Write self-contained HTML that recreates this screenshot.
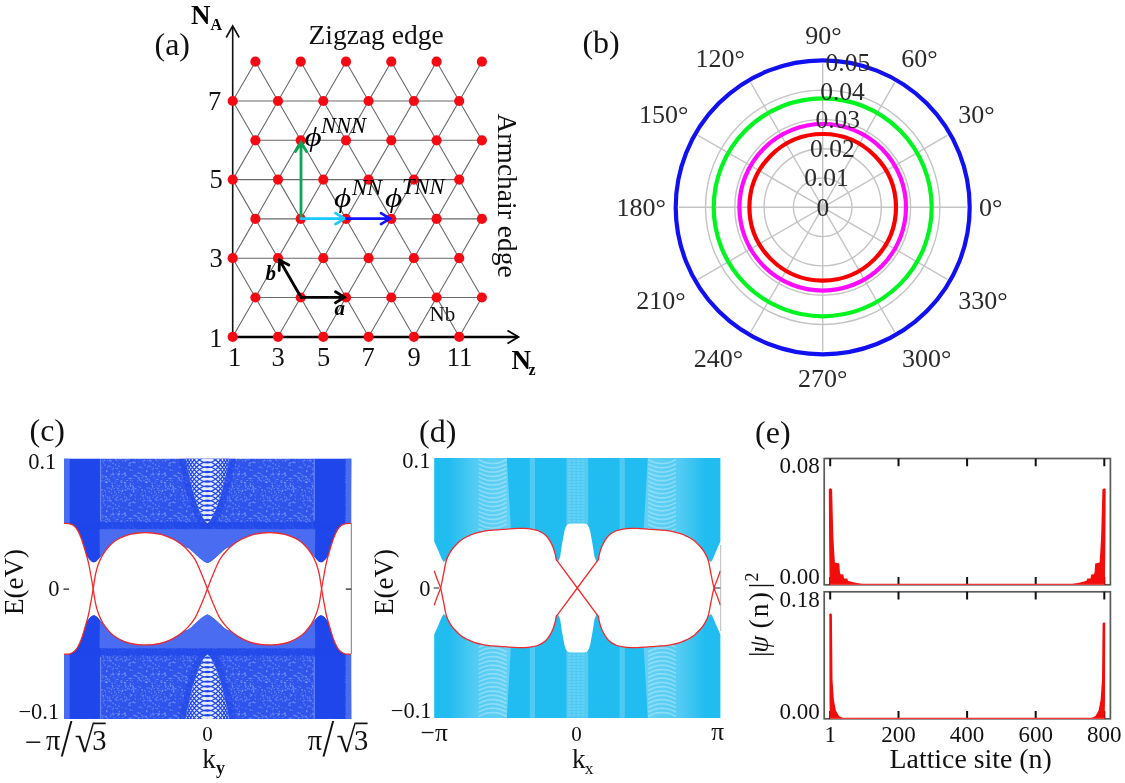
<!DOCTYPE html>
<html><head><meta charset="utf-8"><title>Figure</title>
<style>html,body{margin:0;padding:0;background:#fff}svg{display:block;filter:blur(0.5px)}text{font-family:"Liberation Serif",serif}</style>
</head><body>
<svg width="1125" height="783" viewBox="0 0 1125 783">
<rect width="1125" height="783" fill="#fff"/>
<g id="pa">
<path d="M232.7 336.8L459.2 336.8M255.4 297.5L481.9 297.5M232.7 258.2L459.2 258.2M255.4 218.9L481.9 218.9M232.7 179.6L459.2 179.6M255.4 140.3L481.9 140.3M232.7 101.0L459.2 101.0M232.7 336.8L255.4 297.5M278.0 336.8L255.4 297.5M278.0 336.8L300.7 297.5M323.3 336.8L300.7 297.5M323.3 336.8L346.0 297.5M368.6 336.8L346.0 297.5M368.6 336.8L391.3 297.5M413.9 336.8L391.3 297.5M413.9 336.8L436.6 297.5M459.2 336.8L436.6 297.5M459.2 336.8L481.9 297.5M255.4 297.5L232.7 258.2M255.4 297.5L278.0 258.2M300.7 297.5L278.0 258.2M300.7 297.5L323.3 258.2M346.0 297.5L323.3 258.2M346.0 297.5L368.6 258.2M391.3 297.5L368.6 258.2M391.3 297.5L413.9 258.2M436.6 297.5L413.9 258.2M436.6 297.5L459.2 258.2M481.9 297.5L459.2 258.2M232.7 258.2L255.4 218.9M278.0 258.2L255.4 218.9M278.0 258.2L300.7 218.9M323.3 258.2L300.7 218.9M323.3 258.2L346.0 218.9M368.6 258.2L346.0 218.9M368.6 258.2L391.3 218.9M413.9 258.2L391.3 218.9M413.9 258.2L436.6 218.9M459.2 258.2L436.6 218.9M459.2 258.2L481.9 218.9M255.4 218.9L232.7 179.6M255.4 218.9L278.0 179.6M300.7 218.9L278.0 179.6M300.7 218.9L323.3 179.6M346.0 218.9L323.3 179.6M346.0 218.9L368.6 179.6M391.3 218.9L368.6 179.6M391.3 218.9L413.9 179.6M436.6 218.9L413.9 179.6M436.6 218.9L459.2 179.6M481.9 218.9L459.2 179.6M232.7 179.6L255.4 140.3M278.0 179.6L255.4 140.3M278.0 179.6L300.7 140.3M323.3 179.6L300.7 140.3M323.3 179.6L346.0 140.3M368.6 179.6L346.0 140.3M368.6 179.6L391.3 140.3M413.9 179.6L391.3 140.3M413.9 179.6L436.6 140.3M459.2 179.6L436.6 140.3M459.2 179.6L481.9 140.3M255.4 140.3L232.7 101.0M255.4 140.3L278.0 101.0M300.7 140.3L278.0 101.0M300.7 140.3L323.3 101.0M346.0 140.3L323.3 101.0M346.0 140.3L368.6 101.0M391.3 140.3L368.6 101.0M391.3 140.3L413.9 101.0M436.6 140.3L413.9 101.0M436.6 140.3L459.2 101.0M481.9 140.3L459.2 101.0M232.7 101.0L255.4 61.7M278.0 101.0L255.4 61.7M278.0 101.0L300.7 61.7M323.3 101.0L300.7 61.7M323.3 101.0L346.0 61.7M368.6 101.0L346.0 61.7M368.6 101.0L391.3 61.7M413.9 101.0L391.3 61.7M413.9 101.0L436.6 61.7M459.2 101.0L436.6 61.7M459.2 101.0L481.9 61.7" stroke="#6a6a6a" stroke-width="1.1" fill="none"/>
<path d="M232.7 337.5L232.7 27" stroke="#111" stroke-width="1.6" fill="none"/>
<path d="M226.2 37.5L232.7 26L239.2 37.5" stroke="#111" stroke-width="1.6" fill="none"/>
<path d="M232 337L517.5 337" stroke="#000" stroke-width="2.4" fill="none"/>
<path d="M507.5 330.5L518.5 337L507.5 343.5" stroke="#000" stroke-width="1.8" fill="none"/>
<circle cx="232.7" cy="336.8" r="5.1" fill="#f50a14"/>
<circle cx="278.0" cy="336.8" r="5.1" fill="#f50a14"/>
<circle cx="323.3" cy="336.8" r="5.1" fill="#f50a14"/>
<circle cx="368.6" cy="336.8" r="5.1" fill="#f50a14"/>
<circle cx="413.9" cy="336.8" r="5.1" fill="#f50a14"/>
<circle cx="459.2" cy="336.8" r="5.1" fill="#f50a14"/>
<circle cx="255.4" cy="297.5" r="5.1" fill="#f50a14"/>
<circle cx="300.7" cy="297.5" r="5.1" fill="#f50a14"/>
<circle cx="346.0" cy="297.5" r="5.1" fill="#f50a14"/>
<circle cx="391.3" cy="297.5" r="5.1" fill="#f50a14"/>
<circle cx="436.6" cy="297.5" r="5.1" fill="#f50a14"/>
<circle cx="481.9" cy="297.5" r="5.1" fill="#f50a14"/>
<circle cx="232.7" cy="258.2" r="5.1" fill="#f50a14"/>
<circle cx="278.0" cy="258.2" r="5.1" fill="#f50a14"/>
<circle cx="323.3" cy="258.2" r="5.1" fill="#f50a14"/>
<circle cx="368.6" cy="258.2" r="5.1" fill="#f50a14"/>
<circle cx="413.9" cy="258.2" r="5.1" fill="#f50a14"/>
<circle cx="459.2" cy="258.2" r="5.1" fill="#f50a14"/>
<circle cx="255.4" cy="218.9" r="5.1" fill="#f50a14"/>
<circle cx="300.7" cy="218.9" r="5.1" fill="#f50a14"/>
<circle cx="346.0" cy="218.9" r="5.1" fill="#f50a14"/>
<circle cx="391.3" cy="218.9" r="5.1" fill="#f50a14"/>
<circle cx="436.6" cy="218.9" r="5.1" fill="#f50a14"/>
<circle cx="481.9" cy="218.9" r="5.1" fill="#f50a14"/>
<circle cx="232.7" cy="179.6" r="5.1" fill="#f50a14"/>
<circle cx="278.0" cy="179.6" r="5.1" fill="#f50a14"/>
<circle cx="323.3" cy="179.6" r="5.1" fill="#f50a14"/>
<circle cx="368.6" cy="179.6" r="5.1" fill="#f50a14"/>
<circle cx="413.9" cy="179.6" r="5.1" fill="#f50a14"/>
<circle cx="459.2" cy="179.6" r="5.1" fill="#f50a14"/>
<circle cx="255.4" cy="140.3" r="5.1" fill="#f50a14"/>
<circle cx="300.7" cy="140.3" r="5.1" fill="#f50a14"/>
<circle cx="346.0" cy="140.3" r="5.1" fill="#f50a14"/>
<circle cx="391.3" cy="140.3" r="5.1" fill="#f50a14"/>
<circle cx="436.6" cy="140.3" r="5.1" fill="#f50a14"/>
<circle cx="481.9" cy="140.3" r="5.1" fill="#f50a14"/>
<circle cx="232.7" cy="101.0" r="5.1" fill="#f50a14"/>
<circle cx="278.0" cy="101.0" r="5.1" fill="#f50a14"/>
<circle cx="323.3" cy="101.0" r="5.1" fill="#f50a14"/>
<circle cx="368.6" cy="101.0" r="5.1" fill="#f50a14"/>
<circle cx="413.9" cy="101.0" r="5.1" fill="#f50a14"/>
<circle cx="459.2" cy="101.0" r="5.1" fill="#f50a14"/>
<circle cx="255.4" cy="61.7" r="5.1" fill="#f50a14"/>
<circle cx="300.7" cy="61.7" r="5.1" fill="#f50a14"/>
<circle cx="346.0" cy="61.7" r="5.1" fill="#f50a14"/>
<circle cx="391.3" cy="61.7" r="5.1" fill="#f50a14"/>
<circle cx="436.6" cy="61.7" r="5.1" fill="#f50a14"/>
<circle cx="481.9" cy="61.7" r="5.1" fill="#f50a14"/>
<path d="M301.0 218.3L301.0 142.5M306.5 151.5L301.0 142.5L295.5 151.5" stroke="#0aa653" stroke-width="2.8" fill="none" stroke-linecap="round" stroke-linejoin="miter"/>
<path d="M301.0 218.6L344.5 218.6M335.5 224.1L344.5 218.6L335.5 213.1" stroke="#19c8ff" stroke-width="2.8" fill="none" stroke-linecap="round" stroke-linejoin="miter"/>
<path d="M346.5 218.6L390.0 218.6M381.0 224.1L390.0 218.6L381.0 213.1" stroke="#1414ff" stroke-width="2.8" fill="none" stroke-linecap="round" stroke-linejoin="miter"/>
<path d="M301.0 297.3L344.5 297.3M335.5 302.8L344.5 297.3L335.5 291.8" stroke="#000" stroke-width="2.8" fill="none" stroke-linecap="round" stroke-linejoin="miter"/>
<path d="M301.0 297.3L279.5 260.0M288.8 265.1L279.5 260.0L279.2 270.5" stroke="#000" stroke-width="2.8" fill="none" stroke-linecap="round" stroke-linejoin="miter"/>
<text x="154.5" y="55.4" font-size="32" fill="#111" text-anchor="start" >(a)</text>
<text x="191.0" y="23.5" font-size="27" fill="#000" text-anchor="start" font-weight="bold">N</text>
<text x="210.5" y="29.5" font-size="16" fill="#000" text-anchor="start" font-weight="bold">A</text>
<text x="511.5" y="369.0" font-size="27" fill="#000" text-anchor="start" font-weight="bold">N</text>
<text x="528.5" y="374.5" font-size="16" fill="#000" text-anchor="start" font-weight="bold">z</text>
<text x="308.5" y="44.3" font-size="27.5" fill="#111" text-anchor="start" >Zigzag edge</text>
<text transform="translate(497.5 113.5) rotate(90)" font-size="27.5" fill="#111">Armchair edge</text>
<text x="221.3" y="110.0" font-size="26.5" fill="#111" text-anchor="end" >7</text>
<text x="222.8" y="188.0" font-size="26.5" fill="#111" text-anchor="end" >5</text>
<text x="222.8" y="267.0" font-size="26.5" fill="#111" text-anchor="end" >3</text>
<text x="222.5" y="347.0" font-size="26.5" fill="#111" text-anchor="end" >1</text>
<text x="234.5" y="366.0" font-size="26.5" fill="#111" text-anchor="middle" >1</text>
<text x="278.2" y="366.0" font-size="26.5" fill="#111" text-anchor="middle" >3</text>
<text x="323.7" y="366.0" font-size="26.5" fill="#111" text-anchor="middle" >5</text>
<text x="368.2" y="366.0" font-size="26.5" fill="#111" text-anchor="middle" >7</text>
<text x="414.0" y="366.0" font-size="26.5" fill="#111" text-anchor="middle" >9</text>
<text x="459.5" y="366.0" font-size="26.5" fill="#111" text-anchor="middle" >11</text>
<text x="429.5" y="321.0" font-size="21" fill="#111" text-anchor="start" >Nb</text>
<text x="304.5" y="145.5" font-size="27.5" fill="#000" text-anchor="start" font-style="italic" textLength="17.2" lengthAdjust="spacingAndGlyphs">ϕ</text>
<text x="321.0" y="133.0" font-size="22.5" fill="#000" text-anchor="start" font-style="italic">NNN</text>
<text x="334.0" y="207.0" font-size="27.5" fill="#000" text-anchor="start" font-style="italic" textLength="17.2" lengthAdjust="spacingAndGlyphs">ϕ</text>
<text x="352.0" y="194.7" font-size="22.5" fill="#000" text-anchor="start" font-style="italic">NN</text>
<text x="385.0" y="207.0" font-size="27.5" fill="#000" text-anchor="start" font-style="italic" textLength="17.2" lengthAdjust="spacingAndGlyphs">ϕ</text>
<text x="402.0" y="194.3" font-size="22.5" fill="#000" text-anchor="start" font-style="italic">TNN</text>
<text x="334.5" y="315.0" font-size="21" fill="#000" text-anchor="start" font-style="italic" font-weight="bold">a</text>
<text x="265.5" y="279.5" font-size="21" fill="#000" text-anchor="start" font-style="italic" font-weight="bold">b</text>
</g>
<g id="pb">
<circle cx="822.7" cy="207.3" r="29.3" stroke="#c4c4c4" stroke-width="1.4" fill="none"/>
<circle cx="822.7" cy="207.3" r="58.6" stroke="#c4c4c4" stroke-width="1.4" fill="none"/>
<circle cx="822.7" cy="207.3" r="87.9" stroke="#c4c4c4" stroke-width="1.4" fill="none"/>
<circle cx="822.7" cy="207.3" r="117.2" stroke="#c4c4c4" stroke-width="1.4" fill="none"/>
<circle cx="822.7" cy="207.3" r="146.5" stroke="#c4c4c4" stroke-width="1.4" fill="none"/>
<path d="M822.7 207.3L966.7 207.3M822.7 207.3L947.4 135.3M822.7 207.3L894.7 82.6M822.7 207.3L822.7 63.3M822.7 207.3L750.7 82.6M822.7 207.3L698.0 135.3M822.7 207.3L678.7 207.3M822.7 207.3L698.0 279.3M822.7 207.3L750.7 332.0M822.7 207.3L822.7 351.3M822.7 207.3L894.7 332.0M822.7 207.3L947.4 279.3" stroke="#c4c4c4" stroke-width="1.4" fill="none"/>
<circle cx="822.7" cy="207.3" r="73.3" stroke="#f80000" stroke-width="4.2" fill="none"/>
<circle cx="822.7" cy="207.3" r="83.3" stroke="#ff0aff" stroke-width="4.2" fill="none"/>
<circle cx="822.7" cy="207.3" r="109" stroke="#00f520" stroke-width="4.2" fill="none"/>
<circle cx="822.7" cy="207.3" r="147" stroke="#1010f0" stroke-width="4.2" fill="none"/>
<text x="582.4" y="52.9" font-size="32" fill="#111" text-anchor="start" >(b)</text>
<text x="805.3" y="44.2" font-size="26" fill="#2a2a2a" text-anchor="start" >90°</text>
<text x="695.4" y="66.5" font-size="26" fill="#2a2a2a" text-anchor="start" >120°</text>
<text x="901.2" y="66.5" font-size="26" fill="#2a2a2a" text-anchor="start" >60°</text>
<text x="639.0" y="123.3" font-size="26" fill="#2a2a2a" text-anchor="start" >150°</text>
<text x="958.3" y="123.3" font-size="26" fill="#2a2a2a" text-anchor="start" >30°</text>
<text x="616.6" y="216.3" font-size="26" fill="#2a2a2a" text-anchor="start" >180°</text>
<text x="979.0" y="216.3" font-size="26" fill="#2a2a2a" text-anchor="start" >0°</text>
<text x="636.2" y="309.3" font-size="26" fill="#2a2a2a" text-anchor="start" >210°</text>
<text x="958.2" y="309.3" font-size="26" fill="#2a2a2a" text-anchor="start" >330°</text>
<text x="693.8" y="367.0" font-size="26" fill="#2a2a2a" text-anchor="start" >240°</text>
<text x="901.9" y="367.0" font-size="26" fill="#2a2a2a" text-anchor="start" >300°</text>
<text x="797.9" y="387.0" font-size="26" fill="#2a2a2a" text-anchor="start" >270°</text>
<text x="825.6" y="71.0" font-size="25.5" fill="#2a2a2a" text-anchor="start" >0.05</text>
<text x="820.2" y="99.7" font-size="25.5" fill="#2a2a2a" text-anchor="start" >0.04</text>
<text x="815.4" y="128.2" font-size="25.5" fill="#2a2a2a" text-anchor="start" >0.03</text>
<text x="810.0" y="156.8" font-size="25.5" fill="#2a2a2a" text-anchor="start" >0.02</text>
<text x="804.2" y="186.3" font-size="25.5" fill="#2a2a2a" text-anchor="start" >0.01</text>
<text x="822.9" y="216.3" font-size="25.5" fill="#2a2a2a" text-anchor="middle" >0</text>
</g>
<g id="pc">
<defs>
<pattern id="mot" width="40" height="40" patternUnits="userSpaceOnUse"><rect width="40" height="40" fill="#2e54ec"/><g fill="#8fa8f8" fill-opacity="0.6"><circle cx="13.0" cy="6.0" r="0.69"/><circle cx="2.9" cy="21.4" r="0.56"/><circle cx="2.3" cy="20.3" r="0.42"/><circle cx="17.3" cy="2.8" r="0.44"/><circle cx="17.0" cy="33.1" r="0.46"/><circle cx="8.9" cy="25.1" r="0.83"/><circle cx="23.1" cy="15.9" r="0.84"/><circle cx="1.9" cy="34.3" r="0.53"/><circle cx="5.8" cy="4.7" r="0.54"/><circle cx="32.6" cy="7.2" r="0.66"/><circle cx="25.6" cy="14.9" r="0.65"/><circle cx="2.5" cy="2.4" r="0.49"/><circle cx="27.2" cy="17.1" r="0.54"/><circle cx="23.4" cy="18.1" r="0.53"/><circle cx="31.8" cy="28.0" r="0.51"/><circle cx="23.0" cy="21.0" r="0.79"/><circle cx="29.2" cy="11.5" r="0.84"/><circle cx="4.7" cy="16.7" r="0.74"/><circle cx="6.1" cy="19.6" r="0.42"/><circle cx="26.7" cy="30.6" r="0.66"/><circle cx="35.0" cy="12.5" r="0.71"/><circle cx="23.8" cy="23.2" r="0.61"/><circle cx="33.6" cy="37.8" r="0.61"/><circle cx="26.6" cy="2.4" r="0.72"/><circle cx="25.9" cy="39.7" r="0.77"/><circle cx="11.4" cy="15.4" r="0.70"/><circle cx="0.9" cy="18.5" r="0.48"/><circle cx="4.7" cy="2.4" r="0.75"/><circle cx="5.2" cy="9.9" r="0.58"/><circle cx="34.9" cy="3.2" r="0.60"/><circle cx="22.0" cy="35.3" r="0.77"/><circle cx="34.6" cy="11.1" r="0.59"/><circle cx="14.4" cy="35.4" r="0.83"/><circle cx="6.0" cy="7.0" r="0.50"/><circle cx="9.3" cy="19.4" r="0.67"/><circle cx="10.5" cy="0.2" r="0.59"/><circle cx="14.8" cy="22.7" r="0.83"/><circle cx="27.6" cy="20.6" r="0.68"/><circle cx="27.0" cy="2.2" r="0.80"/><circle cx="31.2" cy="35.0" r="0.76"/><circle cx="15.7" cy="16.0" r="0.45"/><circle cx="25.4" cy="2.5" r="0.43"/><circle cx="8.4" cy="6.5" r="0.55"/><circle cx="2.1" cy="0.0" r="0.47"/><circle cx="4.1" cy="14.5" r="0.41"/><circle cx="35.0" cy="24.6" r="0.47"/><circle cx="10.1" cy="13.9" r="0.56"/><circle cx="4.9" cy="34.0" r="0.85"/><circle cx="18.6" cy="19.4" r="0.44"/><circle cx="4.1" cy="13.7" r="0.52"/><circle cx="33.2" cy="6.5" r="0.41"/><circle cx="38.0" cy="21.1" r="0.47"/><circle cx="21.7" cy="1.1" r="0.64"/><circle cx="39.1" cy="34.5" r="0.71"/><circle cx="10.4" cy="14.7" r="0.48"/><circle cx="30.9" cy="21.3" r="0.75"/><circle cx="13.2" cy="8.9" r="0.77"/><circle cx="39.4" cy="34.1" r="0.76"/><circle cx="32.7" cy="29.6" r="0.50"/><circle cx="20.7" cy="14.2" r="0.41"/><circle cx="1.1" cy="11.2" r="0.52"/><circle cx="27.7" cy="38.3" r="0.60"/><circle cx="37.5" cy="39.5" r="0.83"/><circle cx="14.6" cy="8.8" r="0.50"/><circle cx="7.9" cy="8.2" r="0.68"/><circle cx="36.0" cy="33.6" r="0.62"/><circle cx="26.1" cy="32.0" r="0.44"/><circle cx="26.4" cy="36.4" r="0.75"/><circle cx="30.0" cy="19.1" r="0.48"/><circle cx="31.6" cy="13.3" r="0.76"/><circle cx="38.9" cy="15.8" r="0.58"/><circle cx="37.9" cy="29.0" r="0.48"/><circle cx="5.1" cy="6.0" r="0.81"/><circle cx="32.3" cy="5.8" r="0.77"/><circle cx="39.2" cy="26.3" r="0.56"/><circle cx="21.9" cy="5.2" r="0.41"/><circle cx="38.8" cy="26.0" r="0.64"/><circle cx="37.3" cy="17.4" r="0.79"/><circle cx="33.0" cy="8.4" r="0.51"/><circle cx="11.7" cy="9.6" r="0.66"/><circle cx="10.4" cy="16.8" r="0.46"/><circle cx="36.4" cy="14.2" r="0.61"/><circle cx="23.3" cy="36.2" r="0.59"/><circle cx="36.7" cy="20.1" r="0.64"/><circle cx="20.9" cy="0.7" r="0.60"/><circle cx="7.3" cy="0.2" r="0.76"/><circle cx="6.9" cy="18.9" r="0.73"/><circle cx="22.3" cy="13.0" r="0.63"/><circle cx="22.2" cy="31.4" r="0.45"/><circle cx="22.4" cy="9.9" r="0.52"/><circle cx="30.9" cy="20.3" r="0.65"/><circle cx="30.4" cy="36.5" r="0.60"/><circle cx="24.5" cy="20.2" r="0.63"/><circle cx="27.7" cy="18.1" r="0.64"/><circle cx="19.1" cy="37.7" r="0.71"/><circle cx="35.1" cy="37.7" r="0.52"/><circle cx="22.4" cy="37.7" r="0.78"/><circle cx="5.5" cy="4.9" r="0.60"/><circle cx="2.9" cy="9.6" r="0.43"/><circle cx="26.8" cy="31.4" r="0.80"/><circle cx="6.2" cy="28.6" r="0.70"/><circle cx="5.7" cy="35.3" r="0.84"/><circle cx="8.8" cy="38.1" r="0.58"/><circle cx="19.5" cy="39.6" r="0.77"/><circle cx="6.5" cy="17.3" r="0.63"/><circle cx="13.6" cy="7.8" r="0.54"/><circle cx="28.9" cy="0.8" r="0.65"/><circle cx="17.6" cy="0.7" r="0.55"/><circle cx="25.0" cy="20.5" r="0.43"/><circle cx="39.4" cy="31.5" r="0.84"/><circle cx="4.2" cy="10.6" r="0.42"/><circle cx="31.2" cy="10.8" r="0.46"/><circle cx="16.9" cy="36.5" r="0.77"/><circle cx="10.3" cy="6.0" r="0.81"/><circle cx="22.8" cy="28.0" r="0.44"/><circle cx="2.3" cy="27.5" r="0.59"/><circle cx="2.9" cy="37.5" r="0.69"/><circle cx="32.1" cy="3.3" r="0.79"/><circle cx="2.7" cy="34.5" r="0.60"/><circle cx="13.6" cy="22.1" r="0.82"/><circle cx="10.7" cy="5.2" r="0.64"/><circle cx="9.5" cy="4.4" r="0.47"/><circle cx="2.0" cy="8.1" r="0.54"/><circle cx="12.2" cy="30.4" r="0.53"/><circle cx="20.0" cy="7.1" r="0.56"/><circle cx="0.7" cy="10.0" r="0.41"/><circle cx="29.3" cy="22.0" r="0.49"/><circle cx="19.0" cy="37.4" r="0.45"/><circle cx="32.8" cy="17.3" r="0.62"/><circle cx="33.4" cy="15.7" r="0.63"/><circle cx="27.5" cy="39.3" r="0.55"/><circle cx="33.3" cy="28.3" r="0.69"/><circle cx="16.2" cy="13.9" r="0.42"/><circle cx="5.2" cy="2.8" r="0.73"/><circle cx="10.2" cy="6.5" r="0.44"/><circle cx="33.7" cy="34.8" r="0.70"/><circle cx="11.3" cy="9.7" r="0.53"/><circle cx="18.4" cy="6.3" r="0.60"/><circle cx="10.5" cy="38.5" r="0.84"/><circle cx="21.9" cy="9.8" r="0.83"/><circle cx="12.4" cy="14.3" r="0.40"/><circle cx="15.3" cy="19.0" r="0.63"/><circle cx="8.0" cy="20.2" r="0.40"/><circle cx="10.6" cy="3.6" r="0.58"/><circle cx="1.7" cy="0.9" r="0.54"/><circle cx="9.3" cy="23.4" r="0.64"/><circle cx="30.0" cy="26.3" r="0.72"/><circle cx="35.2" cy="15.6" r="0.55"/><circle cx="39.4" cy="6.0" r="0.73"/><circle cx="25.7" cy="1.8" r="0.78"/><circle cx="35.7" cy="25.1" r="0.73"/><circle cx="32.5" cy="5.6" r="0.64"/><circle cx="20.2" cy="33.4" r="0.76"/><circle cx="33.1" cy="23.4" r="0.80"/><circle cx="27.3" cy="27.7" r="0.50"/><circle cx="1.2" cy="5.3" r="0.56"/><circle cx="4.2" cy="33.4" r="0.65"/><circle cx="25.1" cy="25.0" r="0.71"/><circle cx="19.6" cy="0.1" r="0.76"/><circle cx="29.9" cy="20.1" r="0.64"/><circle cx="26.4" cy="2.6" r="0.73"/><circle cx="10.1" cy="3.0" r="0.52"/><circle cx="29.2" cy="8.2" r="0.73"/><circle cx="39.0" cy="19.8" r="0.57"/><circle cx="19.2" cy="27.3" r="0.75"/><circle cx="24.7" cy="25.7" r="0.43"/><circle cx="5.9" cy="10.2" r="0.73"/><circle cx="12.2" cy="22.7" r="0.41"/><circle cx="2.4" cy="10.8" r="0.70"/><circle cx="27.7" cy="27.0" r="0.53"/><circle cx="20.7" cy="18.6" r="0.61"/><circle cx="4.7" cy="35.7" r="0.49"/><circle cx="39.1" cy="37.5" r="0.41"/><circle cx="18.4" cy="32.8" r="0.84"/><circle cx="18.0" cy="10.7" r="0.49"/><circle cx="37.8" cy="8.4" r="0.66"/><circle cx="5.7" cy="21.0" r="0.83"/><circle cx="5.3" cy="32.8" r="0.63"/><circle cx="35.5" cy="28.1" r="0.50"/><circle cx="35.9" cy="19.4" r="0.41"/><circle cx="0.1" cy="19.7" r="0.60"/><circle cx="12.1" cy="5.6" r="0.55"/><circle cx="12.6" cy="33.6" r="0.40"/><circle cx="30.0" cy="33.6" r="0.45"/><circle cx="37.1" cy="28.5" r="0.81"/><circle cx="11.6" cy="14.9" r="0.58"/><circle cx="40.0" cy="23.6" r="0.56"/><circle cx="17.1" cy="11.0" r="0.42"/><circle cx="4.1" cy="33.4" r="0.53"/><circle cx="37.4" cy="10.0" r="0.52"/><circle cx="20.4" cy="7.6" r="0.57"/><circle cx="38.2" cy="35.4" r="0.77"/><circle cx="25.2" cy="36.5" r="0.82"/><circle cx="22.0" cy="28.8" r="0.42"/><circle cx="29.3" cy="18.0" r="0.74"/><circle cx="25.8" cy="11.4" r="0.42"/><circle cx="37.1" cy="5.1" r="0.61"/><circle cx="13.7" cy="11.9" r="0.73"/><circle cx="39.1" cy="10.4" r="0.70"/><circle cx="12.0" cy="22.3" r="0.58"/><circle cx="6.7" cy="6.5" r="0.49"/><circle cx="36.2" cy="19.9" r="0.50"/><circle cx="36.3" cy="39.9" r="0.60"/><circle cx="5.6" cy="7.7" r="0.44"/><circle cx="13.7" cy="3.6" r="0.51"/><circle cx="10.3" cy="22.8" r="0.80"/><circle cx="30.0" cy="16.5" r="0.59"/><circle cx="21.0" cy="15.1" r="0.55"/><circle cx="2.5" cy="11.1" r="0.84"/><circle cx="5.0" cy="20.1" r="0.68"/><circle cx="34.5" cy="8.6" r="0.52"/><circle cx="9.9" cy="16.0" r="0.60"/><circle cx="38.2" cy="33.9" r="0.79"/><circle cx="0.9" cy="1.3" r="0.72"/><circle cx="35.8" cy="18.9" r="0.66"/><circle cx="0.0" cy="15.7" r="0.82"/><circle cx="33.0" cy="34.2" r="0.84"/><circle cx="9.9" cy="4.4" r="0.47"/><circle cx="20.9" cy="27.3" r="0.82"/><circle cx="28.9" cy="25.9" r="0.74"/><circle cx="18.3" cy="22.1" r="0.42"/><circle cx="31.3" cy="9.3" r="0.81"/><circle cx="25.8" cy="12.2" r="0.46"/><circle cx="10.1" cy="25.5" r="0.71"/><circle cx="4.5" cy="2.8" r="0.64"/><circle cx="23.3" cy="15.5" r="0.50"/><circle cx="24.0" cy="0.4" r="0.54"/><circle cx="18.4" cy="38.4" r="0.69"/><circle cx="35.4" cy="19.0" r="0.51"/><circle cx="9.9" cy="38.4" r="0.72"/><circle cx="12.3" cy="0.9" r="0.62"/><circle cx="27.0" cy="16.8" r="0.52"/><circle cx="26.7" cy="37.0" r="0.50"/><circle cx="1.4" cy="13.5" r="0.59"/><circle cx="27.3" cy="7.9" r="0.76"/><circle cx="29.6" cy="20.2" r="0.49"/><circle cx="38.8" cy="12.5" r="0.77"/><circle cx="9.2" cy="8.9" r="0.74"/><circle cx="11.8" cy="38.1" r="0.62"/><circle cx="7.5" cy="8.9" r="0.59"/><circle cx="26.6" cy="38.0" r="0.47"/><circle cx="15.7" cy="8.5" r="0.84"/><circle cx="5.7" cy="2.1" r="0.43"/><circle cx="15.7" cy="35.9" r="0.80"/><circle cx="29.3" cy="39.9" r="0.82"/><circle cx="13.2" cy="7.4" r="0.82"/><circle cx="29.9" cy="1.3" r="0.70"/><circle cx="15.1" cy="15.0" r="0.55"/><circle cx="6.8" cy="0.1" r="0.53"/><circle cx="14.1" cy="38.2" r="0.46"/><circle cx="38.6" cy="8.3" r="0.56"/><circle cx="32.9" cy="32.9" r="0.59"/><circle cx="2.0" cy="18.9" r="0.57"/><circle cx="36.8" cy="7.7" r="0.56"/><circle cx="35.9" cy="1.2" r="0.58"/><circle cx="32.5" cy="30.7" r="0.42"/><circle cx="1.4" cy="2.5" r="0.81"/><circle cx="10.3" cy="29.9" r="0.80"/><circle cx="13.6" cy="10.9" r="0.83"/><circle cx="24.7" cy="10.5" r="0.72"/></g></pattern>
<clipPath id="cclip"><path d="M64.0 458.7L64.0 523.3L65.0 523.3L66.0 523.4L67.0 523.5L68.0 523.6L69.0 523.7L69.9 523.9L70.9 524.2L71.8 524.6L72.7 525.1L73.5 525.6L74.2 526.2L75.0 526.9L75.6 527.6L76.3 528.4L76.8 529.2L77.4 530.0L77.9 530.9L78.4 531.8L78.8 532.7L79.3 533.6L79.7 534.5L80.1 535.4L80.5 536.3L80.8 537.2L81.2 538.2L81.5 539.1L81.9 540.1L82.2 541.0L82.5 542.0L82.8 542.9L83.1 543.9L83.4 544.8L83.7 545.8L84.0 546.7L84.3 547.7L84.6 548.7L84.8 549.6L85.1 550.6L85.4 551.5L85.7 552.5L86.0 553.4L86.3 554.4L86.7 555.3L87.1 556.2L87.6 557.0L88.2 557.8L88.8 558.6L89.4 559.4L90.1 560.1L90.8 560.8L91.6 561.4L92.3 561.9L93.2 562.2L94.0 562.3L94.8 562.1L95.6 561.7L96.4 561.2L97.1 560.5L97.8 559.8L98.5 559.0L99.1 558.3L99.8 557.5L100.4 556.8L101.1 556.0L101.7 555.3L102.4 554.5L103.0 553.7L103.7 553.0L104.3 552.2L104.9 551.4L105.5 550.6L106.2 549.8L106.8 549.1L107.4 548.3L108.1 547.5L108.7 546.8L109.4 546.0L110.1 545.3L110.8 544.6L111.5 543.9L112.3 543.3L113.0 542.6L113.8 542.0L114.6 541.4L115.4 540.8L116.3 540.3L117.1 539.7L118.0 539.2L118.8 538.7L119.7 538.3L120.6 537.8L121.5 537.4L122.4 537.0L123.3 536.6L124.3 536.2L125.2 535.9L126.1 535.5L127.1 535.2L128.0 534.9L129.0 534.7L130.0 534.4L130.9 534.2L131.9 534.0L132.9 533.8L133.9 533.6L134.9 533.4L135.9 533.3L136.9 533.2L137.8 533.1L138.8 533.0L139.8 532.9L140.8 532.8L141.8 532.8L142.8 532.7L143.8 532.7L144.8 532.7L145.8 532.7L146.8 532.7L147.8 532.7L148.8 532.8L149.8 532.8L150.8 532.9L151.8 533.0L152.8 533.1L153.8 533.2L154.8 533.3L155.8 533.4L156.8 533.6L157.8 533.8L158.7 534.0L159.7 534.2L160.7 534.4L161.7 534.7L162.6 534.9L163.6 535.2L164.5 535.5L165.5 535.9L166.4 536.2L167.3 536.6L168.3 536.9L169.2 537.3L170.1 537.7L171.0 538.1L171.9 538.6L172.8 539.0L173.7 539.5L174.6 540.0L175.4 540.5L176.3 541.0L177.1 541.5L178.0 542.1L178.8 542.6L179.6 543.2L180.4 543.8L181.2 544.4L182.0 545.0L182.8 545.6L183.6 546.2L184.4 546.7L185.3 547.1L186.2 547.4L187.1 547.7L188.0 548.0L188.8 548.4L189.6 549.0L190.4 549.6L191.1 550.2L191.8 550.9L192.6 551.6L193.3 552.3L194.0 553.0L194.8 553.6L195.5 554.3L196.3 555.0L197.0 555.7L197.7 556.3L198.5 557.0L199.2 557.7L200.0 558.3L200.7 559.0L201.5 559.6L202.3 560.2L203.1 560.8L203.9 561.4L204.7 561.9L205.6 562.3L206.5 562.8L207.4 563.0L207.4 563.0L207.4 563.0L208.3 562.8L209.2 562.3L210.1 561.9L210.9 561.4L211.7 560.8L212.5 560.2L213.3 559.6L214.1 559.0L214.8 558.3L215.6 557.7L216.3 557.0L217.1 556.3L217.8 555.7L218.5 555.0L219.3 554.3L220.0 553.6L220.8 553.0L221.5 552.3L222.2 551.6L223.0 550.9L223.7 550.2L224.4 549.6L225.2 549.0L226.0 548.4L226.8 548.0L227.7 547.7L228.6 547.4L229.5 547.1L230.4 546.7L231.2 546.2L232.0 545.6L232.8 545.0L233.6 544.4L234.4 543.8L235.2 543.2L236.0 542.6L236.8 542.1L237.7 541.5L238.5 541.0L239.4 540.5L240.2 540.0L241.1 539.5L242.0 539.0L242.9 538.6L243.8 538.1L244.7 537.7L245.6 537.3L246.5 536.9L247.5 536.6L248.4 536.2L249.3 535.9L250.3 535.5L251.2 535.2L252.2 534.9L253.1 534.7L254.1 534.4L255.1 534.2L256.1 534.0L257.0 533.8L258.0 533.6L259.0 533.4L260.0 533.3L261.0 533.2L262.0 533.1L263.0 533.0L264.0 532.9L265.0 532.8L266.0 532.8L267.0 532.7L268.0 532.7L269.0 532.7L270.0 532.7L271.0 532.7L272.0 532.7L273.0 532.8L274.0 532.8L275.0 532.9L276.0 533.0L277.0 533.1L277.9 533.2L278.9 533.3L279.9 533.4L280.9 533.6L281.9 533.8L282.9 534.0L283.9 534.2L284.8 534.4L285.8 534.7L286.8 534.9L287.7 535.2L288.7 535.5L289.6 535.9L290.5 536.2L291.5 536.6L292.4 537.0L293.3 537.4L294.2 537.8L295.1 538.3L296.0 538.7L296.8 539.2L297.7 539.7L298.5 540.3L299.4 540.8L300.2 541.4L301.0 542.0L301.8 542.6L302.5 543.3L303.3 543.9L304.0 544.6L304.7 545.3L305.4 546.0L306.1 546.8L306.7 547.5L307.4 548.3L308.0 549.1L308.6 549.8L309.3 550.6L309.9 551.4L310.5 552.2L311.1 553.0L311.8 553.7L312.4 554.5L313.1 555.3L313.7 556.0L314.4 556.8L315.0 557.5L315.7 558.3L316.3 559.0L317.0 559.8L317.7 560.5L318.4 561.2L319.2 561.7L320.0 562.1L320.8 562.3L321.6 562.2L322.5 561.9L323.2 561.4L324.0 560.8L324.7 560.1L325.4 559.4L326.0 558.6L326.6 557.8L327.2 557.0L327.7 556.2L328.1 555.3L328.5 554.4L328.8 553.4L329.1 552.5L329.4 551.5L329.7 550.6L330.0 549.6L330.2 548.7L330.5 547.7L330.8 546.7L331.1 545.8L331.4 544.8L331.7 543.9L332.0 542.9L332.3 542.0L332.6 541.0L332.9 540.1L333.3 539.1L333.6 538.2L334.0 537.2L334.3 536.3L334.7 535.4L335.1 534.5L335.5 533.6L336.0 532.7L336.4 531.8L336.9 530.9L337.4 530.0L338.0 529.2L338.5 528.4L339.2 527.6L339.8 526.9L340.6 526.2L341.3 525.6L342.1 525.1L343.0 524.6L343.9 524.2L344.9 523.9L345.8 523.7L346.8 523.6L347.8 523.5L348.8 523.4L349.8 523.3L350.8 523.3L351.3 458.7Z"/><path d="M64.0 718.9L64.0 654.3L65.0 654.3L66.0 654.2L67.0 654.1L68.0 654.0L69.0 653.9L69.9 653.7L70.9 653.4L71.8 653.0L72.7 652.5L73.5 652.0L74.2 651.4L75.0 650.7L75.6 650.0L76.3 649.2L76.8 648.4L77.4 647.6L77.9 646.7L78.4 645.8L78.8 644.9L79.3 644.0L79.7 643.1L80.1 642.2L80.5 641.3L80.8 640.4L81.2 639.4L81.5 638.5L81.9 637.5L82.2 636.6L82.5 635.6L82.8 634.7L83.1 633.7L83.4 632.8L83.7 631.8L84.0 630.9L84.3 629.9L84.6 628.9L84.8 628.0L85.1 627.0L85.4 626.1L85.7 625.1L86.0 624.2L86.3 623.2L86.7 622.3L87.1 621.4L87.6 620.6L88.2 619.8L88.8 619.0L89.4 618.2L90.1 617.5L90.8 616.8L91.6 616.2L92.3 615.7L93.2 615.4L94.0 615.3L94.8 615.5L95.6 615.9L96.4 616.4L97.1 617.1L97.8 617.8L98.5 618.6L99.1 619.3L99.8 620.1L100.4 620.8L101.1 621.6L101.7 622.3L102.4 623.1L103.0 623.9L103.7 624.6L104.3 625.4L104.9 626.2L105.5 627.0L106.2 627.8L106.8 628.5L107.4 629.3L108.1 630.1L108.7 630.8L109.4 631.6L110.1 632.3L110.8 633.0L111.5 633.7L112.3 634.3L113.0 635.0L113.8 635.6L114.6 636.2L115.4 636.8L116.3 637.3L117.1 637.9L118.0 638.4L118.8 638.9L119.7 639.3L120.6 639.8L121.5 640.2L122.4 640.6L123.3 641.0L124.3 641.4L125.2 641.7L126.1 642.1L127.1 642.4L128.0 642.7L129.0 642.9L130.0 643.2L130.9 643.4L131.9 643.6L132.9 643.8L133.9 644.0L134.9 644.2L135.9 644.3L136.9 644.4L137.8 644.5L138.8 644.6L139.8 644.7L140.8 644.8L141.8 644.8L142.8 644.9L143.8 644.9L144.8 644.9L145.8 644.9L146.8 644.9L147.8 644.9L148.8 644.8L149.8 644.8L150.8 644.7L151.8 644.6L152.8 644.5L153.8 644.4L154.8 644.3L155.8 644.2L156.8 644.0L157.8 643.8L158.7 643.6L159.7 643.4L160.7 643.2L161.7 642.9L162.6 642.7L163.6 642.4L164.5 642.1L165.5 641.7L166.4 641.4L167.3 641.0L168.3 640.7L169.2 640.3L170.1 639.9L171.0 639.5L171.9 639.0L172.8 638.6L173.7 638.1L174.6 637.6L175.4 637.1L176.3 636.6L177.1 636.1L178.0 635.5L178.8 635.0L179.6 634.4L180.4 633.8L181.2 633.2L182.0 632.6L182.8 632.0L183.6 631.4L184.4 630.9L185.3 630.5L186.2 630.2L187.1 629.9L188.0 629.6L188.8 629.2L189.6 628.6L190.4 628.0L191.1 627.4L191.8 626.7L192.6 626.0L193.3 625.3L194.0 624.6L194.8 624.0L195.5 623.3L196.3 622.6L197.0 621.9L197.7 621.3L198.5 620.6L199.2 619.9L200.0 619.3L200.7 618.6L201.5 618.0L202.3 617.4L203.1 616.8L203.9 616.2L204.7 615.7L205.6 615.3L206.5 614.8L207.4 614.6L207.4 614.6L207.4 614.6L208.3 614.8L209.2 615.3L210.1 615.7L210.9 616.2L211.7 616.8L212.5 617.4L213.3 618.0L214.1 618.6L214.8 619.3L215.6 619.9L216.3 620.6L217.1 621.3L217.8 621.9L218.5 622.6L219.3 623.3L220.0 624.0L220.8 624.6L221.5 625.3L222.2 626.0L223.0 626.7L223.7 627.4L224.4 628.0L225.2 628.6L226.0 629.2L226.8 629.6L227.7 629.9L228.6 630.2L229.5 630.5L230.4 630.9L231.2 631.4L232.0 632.0L232.8 632.6L233.6 633.2L234.4 633.8L235.2 634.4L236.0 635.0L236.8 635.5L237.7 636.1L238.5 636.6L239.4 637.1L240.2 637.6L241.1 638.1L242.0 638.6L242.9 639.0L243.8 639.5L244.7 639.9L245.6 640.3L246.5 640.7L247.5 641.0L248.4 641.4L249.3 641.7L250.3 642.1L251.2 642.4L252.2 642.7L253.1 642.9L254.1 643.2L255.1 643.4L256.1 643.6L257.0 643.8L258.0 644.0L259.0 644.2L260.0 644.3L261.0 644.4L262.0 644.5L263.0 644.6L264.0 644.7L265.0 644.8L266.0 644.8L267.0 644.9L268.0 644.9L269.0 644.9L270.0 644.9L271.0 644.9L272.0 644.9L273.0 644.8L274.0 644.8L275.0 644.7L276.0 644.6L277.0 644.5L277.9 644.4L278.9 644.3L279.9 644.2L280.9 644.0L281.9 643.8L282.9 643.6L283.9 643.4L284.8 643.2L285.8 642.9L286.8 642.7L287.7 642.4L288.7 642.1L289.6 641.7L290.5 641.4L291.5 641.0L292.4 640.6L293.3 640.2L294.2 639.8L295.1 639.3L296.0 638.9L296.8 638.4L297.7 637.9L298.5 637.3L299.4 636.8L300.2 636.2L301.0 635.6L301.8 635.0L302.5 634.3L303.3 633.7L304.0 633.0L304.7 632.3L305.4 631.6L306.1 630.8L306.7 630.1L307.4 629.3L308.0 628.5L308.6 627.8L309.3 627.0L309.9 626.2L310.5 625.4L311.1 624.6L311.8 623.9L312.4 623.1L313.1 622.3L313.7 621.6L314.4 620.8L315.0 620.1L315.7 619.3L316.3 618.6L317.0 617.8L317.7 617.1L318.4 616.4L319.2 615.9L320.0 615.5L320.8 615.3L321.6 615.4L322.5 615.7L323.2 616.2L324.0 616.8L324.7 617.5L325.4 618.2L326.0 619.0L326.6 619.8L327.2 620.6L327.7 621.4L328.1 622.3L328.5 623.2L328.8 624.2L329.1 625.1L329.4 626.1L329.7 627.0L330.0 628.0L330.2 628.9L330.5 629.9L330.8 630.9L331.1 631.8L331.4 632.8L331.7 633.7L332.0 634.7L332.3 635.6L332.6 636.6L332.9 637.5L333.3 638.5L333.6 639.4L334.0 640.4L334.3 641.3L334.7 642.2L335.1 643.1L335.5 644.0L336.0 644.9L336.4 645.8L336.9 646.7L337.4 647.6L338.0 648.4L338.5 649.2L339.2 650.0L339.8 650.7L340.6 651.4L341.3 652.0L342.1 652.5L343.0 653.0L343.9 653.4L344.9 653.7L345.8 653.9L346.8 654.0L347.8 654.1L348.8 654.2L349.8 654.3L350.8 654.3L351.3 718.9Z"/></clipPath>
</defs>
<path d="M64.0 458.7L64.0 523.3L65.0 523.3L66.0 523.4L67.0 523.5L68.0 523.6L69.0 523.7L69.9 523.9L70.9 524.2L71.8 524.6L72.7 525.1L73.5 525.6L74.2 526.2L75.0 526.9L75.6 527.6L76.3 528.4L76.8 529.2L77.4 530.0L77.9 530.9L78.4 531.8L78.8 532.7L79.3 533.6L79.7 534.5L80.1 535.4L80.5 536.3L80.8 537.2L81.2 538.2L81.5 539.1L81.9 540.1L82.2 541.0L82.5 542.0L82.8 542.9L83.1 543.9L83.4 544.8L83.7 545.8L84.0 546.7L84.3 547.7L84.6 548.7L84.8 549.6L85.1 550.6L85.4 551.5L85.7 552.5L86.0 553.4L86.3 554.4L86.7 555.3L87.1 556.2L87.6 557.0L88.2 557.8L88.8 558.6L89.4 559.4L90.1 560.1L90.8 560.8L91.6 561.4L92.3 561.9L93.2 562.2L94.0 562.3L94.8 562.1L95.6 561.7L96.4 561.2L97.1 560.5L97.8 559.8L98.5 559.0L99.1 558.3L99.8 557.5L100.4 556.8L101.1 556.0L101.7 555.3L102.4 554.5L103.0 553.7L103.7 553.0L104.3 552.2L104.9 551.4L105.5 550.6L106.2 549.8L106.8 549.1L107.4 548.3L108.1 547.5L108.7 546.8L109.4 546.0L110.1 545.3L110.8 544.6L111.5 543.9L112.3 543.3L113.0 542.6L113.8 542.0L114.6 541.4L115.4 540.8L116.3 540.3L117.1 539.7L118.0 539.2L118.8 538.7L119.7 538.3L120.6 537.8L121.5 537.4L122.4 537.0L123.3 536.6L124.3 536.2L125.2 535.9L126.1 535.5L127.1 535.2L128.0 534.9L129.0 534.7L130.0 534.4L130.9 534.2L131.9 534.0L132.9 533.8L133.9 533.6L134.9 533.4L135.9 533.3L136.9 533.2L137.8 533.1L138.8 533.0L139.8 532.9L140.8 532.8L141.8 532.8L142.8 532.7L143.8 532.7L144.8 532.7L145.8 532.7L146.8 532.7L147.8 532.7L148.8 532.8L149.8 532.8L150.8 532.9L151.8 533.0L152.8 533.1L153.8 533.2L154.8 533.3L155.8 533.4L156.8 533.6L157.8 533.8L158.7 534.0L159.7 534.2L160.7 534.4L161.7 534.7L162.6 534.9L163.6 535.2L164.5 535.5L165.5 535.9L166.4 536.2L167.3 536.6L168.3 536.9L169.2 537.3L170.1 537.7L171.0 538.1L171.9 538.6L172.8 539.0L173.7 539.5L174.6 540.0L175.4 540.5L176.3 541.0L177.1 541.5L178.0 542.1L178.8 542.6L179.6 543.2L180.4 543.8L181.2 544.4L182.0 545.0L182.8 545.6L183.6 546.2L184.4 546.7L185.3 547.1L186.2 547.4L187.1 547.7L188.0 548.0L188.8 548.4L189.6 549.0L190.4 549.6L191.1 550.2L191.8 550.9L192.6 551.6L193.3 552.3L194.0 553.0L194.8 553.6L195.5 554.3L196.3 555.0L197.0 555.7L197.7 556.3L198.5 557.0L199.2 557.7L200.0 558.3L200.7 559.0L201.5 559.6L202.3 560.2L203.1 560.8L203.9 561.4L204.7 561.9L205.6 562.3L206.5 562.8L207.4 563.0L207.4 563.0L207.4 563.0L208.3 562.8L209.2 562.3L210.1 561.9L210.9 561.4L211.7 560.8L212.5 560.2L213.3 559.6L214.1 559.0L214.8 558.3L215.6 557.7L216.3 557.0L217.1 556.3L217.8 555.7L218.5 555.0L219.3 554.3L220.0 553.6L220.8 553.0L221.5 552.3L222.2 551.6L223.0 550.9L223.7 550.2L224.4 549.6L225.2 549.0L226.0 548.4L226.8 548.0L227.7 547.7L228.6 547.4L229.5 547.1L230.4 546.7L231.2 546.2L232.0 545.6L232.8 545.0L233.6 544.4L234.4 543.8L235.2 543.2L236.0 542.6L236.8 542.1L237.7 541.5L238.5 541.0L239.4 540.5L240.2 540.0L241.1 539.5L242.0 539.0L242.9 538.6L243.8 538.1L244.7 537.7L245.6 537.3L246.5 536.9L247.5 536.6L248.4 536.2L249.3 535.9L250.3 535.5L251.2 535.2L252.2 534.9L253.1 534.7L254.1 534.4L255.1 534.2L256.1 534.0L257.0 533.8L258.0 533.6L259.0 533.4L260.0 533.3L261.0 533.2L262.0 533.1L263.0 533.0L264.0 532.9L265.0 532.8L266.0 532.8L267.0 532.7L268.0 532.7L269.0 532.7L270.0 532.7L271.0 532.7L272.0 532.7L273.0 532.8L274.0 532.8L275.0 532.9L276.0 533.0L277.0 533.1L277.9 533.2L278.9 533.3L279.9 533.4L280.9 533.6L281.9 533.8L282.9 534.0L283.9 534.2L284.8 534.4L285.8 534.7L286.8 534.9L287.7 535.2L288.7 535.5L289.6 535.9L290.5 536.2L291.5 536.6L292.4 537.0L293.3 537.4L294.2 537.8L295.1 538.3L296.0 538.7L296.8 539.2L297.7 539.7L298.5 540.3L299.4 540.8L300.2 541.4L301.0 542.0L301.8 542.6L302.5 543.3L303.3 543.9L304.0 544.6L304.7 545.3L305.4 546.0L306.1 546.8L306.7 547.5L307.4 548.3L308.0 549.1L308.6 549.8L309.3 550.6L309.9 551.4L310.5 552.2L311.1 553.0L311.8 553.7L312.4 554.5L313.1 555.3L313.7 556.0L314.4 556.8L315.0 557.5L315.7 558.3L316.3 559.0L317.0 559.8L317.7 560.5L318.4 561.2L319.2 561.7L320.0 562.1L320.8 562.3L321.6 562.2L322.5 561.9L323.2 561.4L324.0 560.8L324.7 560.1L325.4 559.4L326.0 558.6L326.6 557.8L327.2 557.0L327.7 556.2L328.1 555.3L328.5 554.4L328.8 553.4L329.1 552.5L329.4 551.5L329.7 550.6L330.0 549.6L330.2 548.7L330.5 547.7L330.8 546.7L331.1 545.8L331.4 544.8L331.7 543.9L332.0 542.9L332.3 542.0L332.6 541.0L332.9 540.1L333.3 539.1L333.6 538.2L334.0 537.2L334.3 536.3L334.7 535.4L335.1 534.5L335.5 533.6L336.0 532.7L336.4 531.8L336.9 530.9L337.4 530.0L338.0 529.2L338.5 528.4L339.2 527.6L339.8 526.9L340.6 526.2L341.3 525.6L342.1 525.1L343.0 524.6L343.9 524.2L344.9 523.9L345.8 523.7L346.8 523.6L347.8 523.5L348.8 523.4L349.8 523.3L350.8 523.3L351.3 458.7Z" fill="url(#mot)"/>
<path d="M64.0 718.9L64.0 654.3L65.0 654.3L66.0 654.2L67.0 654.1L68.0 654.0L69.0 653.9L69.9 653.7L70.9 653.4L71.8 653.0L72.7 652.5L73.5 652.0L74.2 651.4L75.0 650.7L75.6 650.0L76.3 649.2L76.8 648.4L77.4 647.6L77.9 646.7L78.4 645.8L78.8 644.9L79.3 644.0L79.7 643.1L80.1 642.2L80.5 641.3L80.8 640.4L81.2 639.4L81.5 638.5L81.9 637.5L82.2 636.6L82.5 635.6L82.8 634.7L83.1 633.7L83.4 632.8L83.7 631.8L84.0 630.9L84.3 629.9L84.6 628.9L84.8 628.0L85.1 627.0L85.4 626.1L85.7 625.1L86.0 624.2L86.3 623.2L86.7 622.3L87.1 621.4L87.6 620.6L88.2 619.8L88.8 619.0L89.4 618.2L90.1 617.5L90.8 616.8L91.6 616.2L92.3 615.7L93.2 615.4L94.0 615.3L94.8 615.5L95.6 615.9L96.4 616.4L97.1 617.1L97.8 617.8L98.5 618.6L99.1 619.3L99.8 620.1L100.4 620.8L101.1 621.6L101.7 622.3L102.4 623.1L103.0 623.9L103.7 624.6L104.3 625.4L104.9 626.2L105.5 627.0L106.2 627.8L106.8 628.5L107.4 629.3L108.1 630.1L108.7 630.8L109.4 631.6L110.1 632.3L110.8 633.0L111.5 633.7L112.3 634.3L113.0 635.0L113.8 635.6L114.6 636.2L115.4 636.8L116.3 637.3L117.1 637.9L118.0 638.4L118.8 638.9L119.7 639.3L120.6 639.8L121.5 640.2L122.4 640.6L123.3 641.0L124.3 641.4L125.2 641.7L126.1 642.1L127.1 642.4L128.0 642.7L129.0 642.9L130.0 643.2L130.9 643.4L131.9 643.6L132.9 643.8L133.9 644.0L134.9 644.2L135.9 644.3L136.9 644.4L137.8 644.5L138.8 644.6L139.8 644.7L140.8 644.8L141.8 644.8L142.8 644.9L143.8 644.9L144.8 644.9L145.8 644.9L146.8 644.9L147.8 644.9L148.8 644.8L149.8 644.8L150.8 644.7L151.8 644.6L152.8 644.5L153.8 644.4L154.8 644.3L155.8 644.2L156.8 644.0L157.8 643.8L158.7 643.6L159.7 643.4L160.7 643.2L161.7 642.9L162.6 642.7L163.6 642.4L164.5 642.1L165.5 641.7L166.4 641.4L167.3 641.0L168.3 640.7L169.2 640.3L170.1 639.9L171.0 639.5L171.9 639.0L172.8 638.6L173.7 638.1L174.6 637.6L175.4 637.1L176.3 636.6L177.1 636.1L178.0 635.5L178.8 635.0L179.6 634.4L180.4 633.8L181.2 633.2L182.0 632.6L182.8 632.0L183.6 631.4L184.4 630.9L185.3 630.5L186.2 630.2L187.1 629.9L188.0 629.6L188.8 629.2L189.6 628.6L190.4 628.0L191.1 627.4L191.8 626.7L192.6 626.0L193.3 625.3L194.0 624.6L194.8 624.0L195.5 623.3L196.3 622.6L197.0 621.9L197.7 621.3L198.5 620.6L199.2 619.9L200.0 619.3L200.7 618.6L201.5 618.0L202.3 617.4L203.1 616.8L203.9 616.2L204.7 615.7L205.6 615.3L206.5 614.8L207.4 614.6L207.4 614.6L207.4 614.6L208.3 614.8L209.2 615.3L210.1 615.7L210.9 616.2L211.7 616.8L212.5 617.4L213.3 618.0L214.1 618.6L214.8 619.3L215.6 619.9L216.3 620.6L217.1 621.3L217.8 621.9L218.5 622.6L219.3 623.3L220.0 624.0L220.8 624.6L221.5 625.3L222.2 626.0L223.0 626.7L223.7 627.4L224.4 628.0L225.2 628.6L226.0 629.2L226.8 629.6L227.7 629.9L228.6 630.2L229.5 630.5L230.4 630.9L231.2 631.4L232.0 632.0L232.8 632.6L233.6 633.2L234.4 633.8L235.2 634.4L236.0 635.0L236.8 635.5L237.7 636.1L238.5 636.6L239.4 637.1L240.2 637.6L241.1 638.1L242.0 638.6L242.9 639.0L243.8 639.5L244.7 639.9L245.6 640.3L246.5 640.7L247.5 641.0L248.4 641.4L249.3 641.7L250.3 642.1L251.2 642.4L252.2 642.7L253.1 642.9L254.1 643.2L255.1 643.4L256.1 643.6L257.0 643.8L258.0 644.0L259.0 644.2L260.0 644.3L261.0 644.4L262.0 644.5L263.0 644.6L264.0 644.7L265.0 644.8L266.0 644.8L267.0 644.9L268.0 644.9L269.0 644.9L270.0 644.9L271.0 644.9L272.0 644.9L273.0 644.8L274.0 644.8L275.0 644.7L276.0 644.6L277.0 644.5L277.9 644.4L278.9 644.3L279.9 644.2L280.9 644.0L281.9 643.8L282.9 643.6L283.9 643.4L284.8 643.2L285.8 642.9L286.8 642.7L287.7 642.4L288.7 642.1L289.6 641.7L290.5 641.4L291.5 641.0L292.4 640.6L293.3 640.2L294.2 639.8L295.1 639.3L296.0 638.9L296.8 638.4L297.7 637.9L298.5 637.3L299.4 636.8L300.2 636.2L301.0 635.6L301.8 635.0L302.5 634.3L303.3 633.7L304.0 633.0L304.7 632.3L305.4 631.6L306.1 630.8L306.7 630.1L307.4 629.3L308.0 628.5L308.6 627.8L309.3 627.0L309.9 626.2L310.5 625.4L311.1 624.6L311.8 623.9L312.4 623.1L313.1 622.3L313.7 621.6L314.4 620.8L315.0 620.1L315.7 619.3L316.3 618.6L317.0 617.8L317.7 617.1L318.4 616.4L319.2 615.9L320.0 615.5L320.8 615.3L321.6 615.4L322.5 615.7L323.2 616.2L324.0 616.8L324.7 617.5L325.4 618.2L326.0 619.0L326.6 619.8L327.2 620.6L327.7 621.4L328.1 622.3L328.5 623.2L328.8 624.2L329.1 625.1L329.4 626.1L329.7 627.0L330.0 628.0L330.2 628.9L330.5 629.9L330.8 630.9L331.1 631.8L331.4 632.8L331.7 633.7L332.0 634.7L332.3 635.6L332.6 636.6L332.9 637.5L333.3 638.5L333.6 639.4L334.0 640.4L334.3 641.3L334.7 642.2L335.1 643.1L335.5 644.0L336.0 644.9L336.4 645.8L336.9 646.7L337.4 647.6L338.0 648.4L338.5 649.2L339.2 650.0L339.8 650.7L340.6 651.4L341.3 652.0L342.1 652.5L343.0 653.0L343.9 653.4L344.9 653.7L345.8 653.9L346.8 654.0L347.8 654.1L348.8 654.2L349.8 654.3L350.8 654.3L351.3 718.9Z" fill="url(#mot)"/>
<g clip-path="url(#cclip)">
<rect x="69.5" y="458.7" width="31.0" height="260.1" fill="#1f46ea"/>
<rect x="314.3" y="458.7" width="31.0" height="260.1" fill="#1f46ea"/>
<rect x="64.0" y="522" width="287.3" height="7.5" fill="#1f46ea" fill-opacity="0.75"/>
<rect x="64.0" y="648.1" width="287.3" height="7.5" fill="#1f46ea" fill-opacity="0.75"/>
<rect x="99.9" y="458.7" width="1.2" height="62" fill="#7d98f5" fill-opacity="0.7"/>
<rect x="99.9" y="656.8" width="1.2" height="62" fill="#7d98f5" fill-opacity="0.7"/>
<rect x="313.7" y="458.7" width="1.2" height="62" fill="#7d98f5" fill-opacity="0.7"/>
<rect x="313.7" y="656.8" width="1.2" height="62" fill="#7d98f5" fill-opacity="0.7"/>
</g>
<path d="M99.5 529.3L99.8 557.5L100.4 556.8L101.1 556.0L101.7 555.3L102.4 554.5L103.0 553.7L103.7 553.0L104.3 552.2L104.9 551.4L105.5 550.6L106.2 549.8L106.8 549.1L107.4 548.3L108.1 547.5L108.7 546.8L109.4 546.0L110.1 545.3L110.8 544.6L111.5 543.9L112.3 543.3L113.0 542.6L113.8 542.0L114.6 541.4L115.4 540.8L116.3 540.3L117.1 539.7L118.0 539.2L118.8 538.7L119.7 538.3L120.6 537.8L121.5 537.4L122.4 537.0L123.3 536.6L124.3 536.2L125.2 535.9L126.1 535.5L127.1 535.2L128.0 534.9L129.0 534.7L130.0 534.4L130.9 534.2L131.9 534.0L132.9 533.8L133.9 533.6L134.9 533.4L135.9 533.3L136.9 533.2L137.8 533.1L138.8 533.0L139.8 532.9L140.8 532.8L141.8 532.8L142.8 532.7L143.8 532.7L144.8 532.7L145.8 532.7L146.8 532.7L147.8 532.7L148.8 532.8L149.8 532.8L150.8 532.9L151.8 533.0L152.8 533.1L153.8 533.2L154.8 533.3L155.8 533.4L156.8 533.6L157.8 533.8L158.7 534.0L159.7 534.2L160.7 534.4L161.7 534.7L162.6 534.9L163.6 535.2L164.5 535.5L165.5 535.9L166.4 536.2L167.3 536.6L168.3 536.9L169.2 537.3L170.1 537.7L171.0 538.1L171.9 538.6L172.8 539.0L173.7 539.5L174.6 540.0L175.4 540.5L176.3 541.0L177.1 541.5L178.0 542.1L178.8 542.6L179.6 543.2L180.4 543.8L181.2 544.4L182.0 545.0L182.8 545.6L183.6 546.2L184.4 546.7L185.3 547.1L186.2 547.4L187.1 547.7L188.0 548.0L188.8 548.4L189.6 549.0L190.4 549.6L191.1 550.2L191.8 550.9L192.6 551.6L193.3 552.3L194.0 553.0L194.8 553.6L195.5 554.3L196.3 555.0L197.0 555.7L197.7 556.3L198.5 557.0L199.2 557.7L200.0 558.3L200.7 559.0L201.5 559.6L202.3 560.2L203.1 560.8L203.9 561.4L204.7 561.9L205.6 562.3L206.5 562.8L207.4 563.0L207.4 563.0L207.4 563.0L208.3 562.8L209.2 562.3L210.1 561.9L210.9 561.4L211.7 560.8L212.5 560.2L213.3 559.6L214.1 559.0L214.8 558.3L215.6 557.7L216.3 557.0L217.1 556.3L217.8 555.7L218.5 555.0L219.3 554.3L220.0 553.6L220.8 553.0L221.5 552.3L222.2 551.6L223.0 550.9L223.7 550.2L224.4 549.6L225.2 549.0L226.0 548.4L226.8 548.0L227.7 547.7L228.6 547.4L229.5 547.1L230.4 546.7L231.2 546.2L232.0 545.6L232.8 545.0L233.6 544.4L234.4 543.8L235.2 543.2L236.0 542.6L236.8 542.1L237.7 541.5L238.5 541.0L239.4 540.5L240.2 540.0L241.1 539.5L242.0 539.0L242.9 538.6L243.8 538.1L244.7 537.7L245.6 537.3L246.5 536.9L247.5 536.6L248.4 536.2L249.3 535.9L250.3 535.5L251.2 535.2L252.2 534.9L253.1 534.7L254.1 534.4L255.1 534.2L256.1 534.0L257.0 533.8L258.0 533.6L259.0 533.4L260.0 533.3L261.0 533.2L262.0 533.1L263.0 533.0L264.0 532.9L265.0 532.8L266.0 532.8L267.0 532.7L268.0 532.7L269.0 532.7L270.0 532.7L271.0 532.7L272.0 532.7L273.0 532.8L274.0 532.8L275.0 532.9L276.0 533.0L277.0 533.1L277.9 533.2L278.9 533.3L279.9 533.4L280.9 533.6L281.9 533.8L282.9 534.0L283.9 534.2L284.8 534.4L285.8 534.7L286.8 534.9L287.7 535.2L288.7 535.5L289.6 535.9L290.5 536.2L291.5 536.6L292.4 537.0L293.3 537.4L294.2 537.8L295.1 538.3L296.0 538.7L296.8 539.2L297.7 539.7L298.5 540.3L299.4 540.8L300.2 541.4L301.0 542.0L301.8 542.6L302.5 543.3L303.3 543.9L304.0 544.6L304.7 545.3L305.4 546.0L306.1 546.8L306.7 547.5L307.4 548.3L308.0 549.1L308.6 549.8L309.3 550.6L309.9 551.4L310.5 552.2L311.1 553.0L311.8 553.7L312.4 554.5L313.1 555.3L313.7 556.0L314.4 556.8L315.0 557.5L315.3 529.3Z" fill="#4a6cf0"/>
<path d="M99.5 648.3L99.8 620.1L100.4 620.8L101.1 621.6L101.7 622.3L102.4 623.1L103.0 623.9L103.7 624.6L104.3 625.4L104.9 626.2L105.5 627.0L106.2 627.8L106.8 628.5L107.4 629.3L108.1 630.1L108.7 630.8L109.4 631.6L110.1 632.3L110.8 633.0L111.5 633.7L112.3 634.3L113.0 635.0L113.8 635.6L114.6 636.2L115.4 636.8L116.3 637.3L117.1 637.9L118.0 638.4L118.8 638.9L119.7 639.3L120.6 639.8L121.5 640.2L122.4 640.6L123.3 641.0L124.3 641.4L125.2 641.7L126.1 642.1L127.1 642.4L128.0 642.7L129.0 642.9L130.0 643.2L130.9 643.4L131.9 643.6L132.9 643.8L133.9 644.0L134.9 644.2L135.9 644.3L136.9 644.4L137.8 644.5L138.8 644.6L139.8 644.7L140.8 644.8L141.8 644.8L142.8 644.9L143.8 644.9L144.8 644.9L145.8 644.9L146.8 644.9L147.8 644.9L148.8 644.8L149.8 644.8L150.8 644.7L151.8 644.6L152.8 644.5L153.8 644.4L154.8 644.3L155.8 644.2L156.8 644.0L157.8 643.8L158.7 643.6L159.7 643.4L160.7 643.2L161.7 642.9L162.6 642.7L163.6 642.4L164.5 642.1L165.5 641.7L166.4 641.4L167.3 641.0L168.3 640.7L169.2 640.3L170.1 639.9L171.0 639.5L171.9 639.0L172.8 638.6L173.7 638.1L174.6 637.6L175.4 637.1L176.3 636.6L177.1 636.1L178.0 635.5L178.8 635.0L179.6 634.4L180.4 633.8L181.2 633.2L182.0 632.6L182.8 632.0L183.6 631.4L184.4 630.9L185.3 630.5L186.2 630.2L187.1 629.9L188.0 629.6L188.8 629.2L189.6 628.6L190.4 628.0L191.1 627.4L191.8 626.7L192.6 626.0L193.3 625.3L194.0 624.6L194.8 624.0L195.5 623.3L196.3 622.6L197.0 621.9L197.7 621.3L198.5 620.6L199.2 619.9L200.0 619.3L200.7 618.6L201.5 618.0L202.3 617.4L203.1 616.8L203.9 616.2L204.7 615.7L205.6 615.3L206.5 614.8L207.4 614.6L207.4 614.6L207.4 614.6L208.3 614.8L209.2 615.3L210.1 615.7L210.9 616.2L211.7 616.8L212.5 617.4L213.3 618.0L214.1 618.6L214.8 619.3L215.6 619.9L216.3 620.6L217.1 621.3L217.8 621.9L218.5 622.6L219.3 623.3L220.0 624.0L220.8 624.6L221.5 625.3L222.2 626.0L223.0 626.7L223.7 627.4L224.4 628.0L225.2 628.6L226.0 629.2L226.8 629.6L227.7 629.9L228.6 630.2L229.5 630.5L230.4 630.9L231.2 631.4L232.0 632.0L232.8 632.6L233.6 633.2L234.4 633.8L235.2 634.4L236.0 635.0L236.8 635.5L237.7 636.1L238.5 636.6L239.4 637.1L240.2 637.6L241.1 638.1L242.0 638.6L242.9 639.0L243.8 639.5L244.7 639.9L245.6 640.3L246.5 640.7L247.5 641.0L248.4 641.4L249.3 641.7L250.3 642.1L251.2 642.4L252.2 642.7L253.1 642.9L254.1 643.2L255.1 643.4L256.1 643.6L257.0 643.8L258.0 644.0L259.0 644.2L260.0 644.3L261.0 644.4L262.0 644.5L263.0 644.6L264.0 644.7L265.0 644.8L266.0 644.8L267.0 644.9L268.0 644.9L269.0 644.9L270.0 644.9L271.0 644.9L272.0 644.9L273.0 644.8L274.0 644.8L275.0 644.7L276.0 644.6L277.0 644.5L277.9 644.4L278.9 644.3L279.9 644.2L280.9 644.0L281.9 643.8L282.9 643.6L283.9 643.4L284.8 643.2L285.8 642.9L286.8 642.7L287.7 642.4L288.7 642.1L289.6 641.7L290.5 641.4L291.5 641.0L292.4 640.6L293.3 640.2L294.2 639.8L295.1 639.3L296.0 638.9L296.8 638.4L297.7 637.9L298.5 637.3L299.4 636.8L300.2 636.2L301.0 635.6L301.8 635.0L302.5 634.3L303.3 633.7L304.0 633.0L304.7 632.3L305.4 631.6L306.1 630.8L306.7 630.1L307.4 629.3L308.0 628.5L308.6 627.8L309.3 627.0L309.9 626.2L310.5 625.4L311.1 624.6L311.8 623.9L312.4 623.1L313.1 622.3L313.7 621.6L314.4 620.8L315.0 620.1L315.3 648.3Z" fill="#4a6cf0"/>
<rect x="64.0" y="458.7" width="5.5" height="64.6" fill="#4a6cf0"/>
<rect x="64.0" y="654.3" width="5.5" height="64.6" fill="#4a6cf0"/>
<rect x="345.8" y="458.7" width="5.5" height="64.6" fill="#4a6cf0"/>
<rect x="345.8" y="654.3" width="5.5" height="64.6" fill="#4a6cf0"/>
<defs>
<clipPath id="vclip"><path d="M185.6 458.7L186.7 464.3L187.8 469.5L188.9 474.4L190.0 479.2L191.0 483.7L192.1 488.0L193.2 492.0L194.3 495.8L195.4 499.4L196.5 502.7L197.6 505.8L198.7 508.7L199.8 511.3L200.9 513.7L201.9 515.9L203.0 517.8L204.1 519.5L205.2 521.0L206.3 522.2L207.4 523.2L208.5 522.2L209.6 521.0L210.7 519.5L211.8 517.8L212.8 515.9L213.9 513.7L215.0 511.3L216.1 508.7L217.2 505.8L218.3 502.7L219.4 499.4L220.5 495.8L221.6 492.0L222.7 488.0L223.8 483.7L224.8 479.2L225.9 474.4L227.0 469.5L228.1 464.3L229.2 458.7Z"/></clipPath>
<clipPath id="topclip"><rect x="64.0" y="458.7" width="287.3" height="70"/></clipPath>
</defs>
<g><path d="M185.6 458.7L186.7 464.3L187.8 469.5L188.9 474.4L190.0 479.2L191.0 483.7L192.1 488.0L193.2 492.0L194.3 495.8L195.4 499.4L196.5 502.7L197.6 505.8L198.7 508.7L199.8 511.3L200.9 513.7L201.9 515.9L203.0 517.8L204.1 519.5L205.2 521.0L206.3 522.2L207.4 523.2L208.5 522.2L209.6 521.0L210.7 519.5L211.8 517.8L212.8 515.9L213.9 513.7L215.0 511.3L216.1 508.7L217.2 505.8L218.3 502.7L219.4 499.4L220.5 495.8L221.6 492.0L222.7 488.0L223.8 483.7L224.8 479.2L225.9 474.4L227.0 469.5L228.1 464.3L229.2 458.7Z" fill="none" stroke="#1f46ea" stroke-width="13" stroke-opacity="0.6" stroke-linejoin="round" clip-path="url(#topclip)"/><path d="M185.6 458.7L186.7 464.3L187.8 469.5L188.9 474.4L190.0 479.2L191.0 483.7L192.1 488.0L193.2 492.0L194.3 495.8L195.4 499.4L196.5 502.7L197.6 505.8L198.7 508.7L199.8 511.3L200.9 513.7L201.9 515.9L203.0 517.8L204.1 519.5L205.2 521.0L206.3 522.2L207.4 523.2L208.5 522.2L209.6 521.0L210.7 519.5L211.8 517.8L212.8 515.9L213.9 513.7L215.0 511.3L216.1 508.7L217.2 505.8L218.3 502.7L219.4 499.4L220.5 495.8L221.6 492.0L222.7 488.0L223.8 483.7L224.8 479.2L225.9 474.4L227.0 469.5L228.1 464.3L229.2 458.7Z" fill="#e6ebfe"/><g clip-path="url(#vclip)" stroke="#1f46ea" stroke-width="1.25" fill="none">
<path d="M183.4 494.6L185.4 498.7L187.4 502.5L189.4 505.9L191.4 509.0L193.4 511.7L195.4 514.0L197.4 516.0L199.4 517.6L201.4 518.9L203.4 519.8L205.4 520.3L207.4 520.5L209.4 520.3L211.4 519.8L213.4 518.9L215.4 517.6L217.4 516.0L219.4 514.0L221.4 511.7L223.4 509.0L225.4 505.9L227.4 502.5L229.4 498.7L231.4 494.6M183.4 578.9L185.4 574.8L187.4 571.0L189.4 567.6L191.4 564.5L193.4 561.8L195.4 559.5L197.4 557.5L199.4 555.9L201.4 554.6L203.4 553.7L205.4 553.2L207.4 553.0L209.4 553.2L211.4 553.7L213.4 554.6L215.4 555.9L217.4 557.5L219.4 559.5L221.4 561.8L223.4 564.5L225.4 567.6L227.4 571.0L229.4 574.8L231.4 578.9M183.4 489.8L185.4 493.9L187.4 497.7L189.4 501.1L191.4 504.2L193.4 506.9L195.4 509.2L197.4 511.2L199.4 512.8L201.4 514.1L203.4 515.0L205.4 515.5L207.4 515.7L209.4 515.5L211.4 515.0L213.4 514.1L215.4 512.8L217.4 511.2L219.4 509.2L221.4 506.9L223.4 504.2L225.4 501.1L227.4 497.7L229.4 493.9L231.4 489.8M183.4 574.1L185.4 570.0L187.4 566.2L189.4 562.8L191.4 559.7L193.4 557.0L195.4 554.7L197.4 552.7L199.4 551.1L201.4 549.8L203.4 548.9L205.4 548.4L207.4 548.2L209.4 548.4L211.4 548.9L213.4 549.8L215.4 551.1L217.4 552.7L219.4 554.7L221.4 557.0L223.4 559.7L225.4 562.8L227.4 566.2L229.4 570.0L231.4 574.1M183.4 485.0L185.4 489.1L187.4 492.9L189.4 496.3L191.4 499.4L193.4 502.1L195.4 504.4L197.4 506.4L199.4 508.0L201.4 509.3L203.4 510.2L205.4 510.7L207.4 510.9L209.4 510.7L211.4 510.2L213.4 509.3L215.4 508.0L217.4 506.4L219.4 504.4L221.4 502.1L223.4 499.4L225.4 496.3L227.4 492.9L229.4 489.1L231.4 485.0M183.4 569.3L185.4 565.2L187.4 561.4L189.4 558.0L191.4 554.9L193.4 552.2L195.4 549.9L197.4 547.9L199.4 546.3L201.4 545.0L203.4 544.1L205.4 543.6L207.4 543.4L209.4 543.6L211.4 544.1L213.4 545.0L215.4 546.3L217.4 547.9L219.4 549.9L221.4 552.2L223.4 554.9L225.4 558.0L227.4 561.4L229.4 565.2L231.4 569.3M183.4 480.2L185.4 484.3L187.4 488.1L189.4 491.5L191.4 494.6L193.4 497.3L195.4 499.6L197.4 501.6L199.4 503.2L201.4 504.5L203.4 505.4L205.4 505.9L207.4 506.1L209.4 505.9L211.4 505.4L213.4 504.5L215.4 503.2L217.4 501.6L219.4 499.6L221.4 497.3L223.4 494.6L225.4 491.5L227.4 488.1L229.4 484.3L231.4 480.2M183.4 564.5L185.4 560.4L187.4 556.6L189.4 553.2L191.4 550.1L193.4 547.4L195.4 545.1L197.4 543.1L199.4 541.5L201.4 540.2L203.4 539.3L205.4 538.8L207.4 538.6L209.4 538.8L211.4 539.3L213.4 540.2L215.4 541.5L217.4 543.1L219.4 545.1L221.4 547.4L223.4 550.1L225.4 553.2L227.4 556.6L229.4 560.4L231.4 564.5M183.4 475.4L185.4 479.5L187.4 483.3L189.4 486.7L191.4 489.8L193.4 492.5L195.4 494.8L197.4 496.8L199.4 498.4L201.4 499.7L203.4 500.6L205.4 501.1L207.4 501.3L209.4 501.1L211.4 500.6L213.4 499.7L215.4 498.4L217.4 496.8L219.4 494.8L221.4 492.5L223.4 489.8L225.4 486.7L227.4 483.3L229.4 479.5L231.4 475.4M183.4 559.7L185.4 555.6L187.4 551.8L189.4 548.4L191.4 545.3L193.4 542.6L195.4 540.3L197.4 538.3L199.4 536.7L201.4 535.4L203.4 534.5L205.4 534.0L207.4 533.8L209.4 534.0L211.4 534.5L213.4 535.4L215.4 536.7L217.4 538.3L219.4 540.3L221.4 542.6L223.4 545.3L225.4 548.4L227.4 551.8L229.4 555.6L231.4 559.7M183.4 470.6L185.4 474.7L187.4 478.5L189.4 481.9L191.4 485.0L193.4 487.7L195.4 490.0L197.4 492.0L199.4 493.6L201.4 494.9L203.4 495.8L205.4 496.3L207.4 496.5L209.4 496.3L211.4 495.8L213.4 494.9L215.4 493.6L217.4 492.0L219.4 490.0L221.4 487.7L223.4 485.0L225.4 481.9L227.4 478.5L229.4 474.7L231.4 470.6M183.4 554.9L185.4 550.8L187.4 547.0L189.4 543.6L191.4 540.5L193.4 537.8L195.4 535.5L197.4 533.5L199.4 531.9L201.4 530.6L203.4 529.7L205.4 529.2L207.4 529.0L209.4 529.2L211.4 529.7L213.4 530.6L215.4 531.9L217.4 533.5L219.4 535.5L221.4 537.8L223.4 540.5L225.4 543.6L227.4 547.0L229.4 550.8L231.4 554.9M183.4 465.8L185.4 469.9L187.4 473.7L189.4 477.1L191.4 480.2L193.4 482.9L195.4 485.2L197.4 487.2L199.4 488.8L201.4 490.1L203.4 491.0L205.4 491.5L207.4 491.7L209.4 491.5L211.4 491.0L213.4 490.1L215.4 488.8L217.4 487.2L219.4 485.2L221.4 482.9L223.4 480.2L225.4 477.1L227.4 473.7L229.4 469.9L231.4 465.8M183.4 550.1L185.4 546.0L187.4 542.2L189.4 538.8L191.4 535.7L193.4 533.0L195.4 530.7L197.4 528.7L199.4 527.1L201.4 525.8L203.4 524.9L205.4 524.4L207.4 524.2L209.4 524.4L211.4 524.9L213.4 525.8L215.4 527.1L217.4 528.7L219.4 530.7L221.4 533.0L223.4 535.7L225.4 538.8L227.4 542.2L229.4 546.0L231.4 550.1M183.4 461.0L185.4 465.1L187.4 468.9L189.4 472.3L191.4 475.4L193.4 478.1L195.4 480.4L197.4 482.4L199.4 484.0L201.4 485.3L203.4 486.2L205.4 486.7L207.4 486.9L209.4 486.7L211.4 486.2L213.4 485.3L215.4 484.0L217.4 482.4L219.4 480.4L221.4 478.1L223.4 475.4L225.4 472.3L227.4 468.9L229.4 465.1L231.4 461.0M183.4 545.3L185.4 541.2L187.4 537.4L189.4 534.0L191.4 530.9L193.4 528.2L195.4 525.9L197.4 523.9L199.4 522.3L201.4 521.0L203.4 520.1L205.4 519.6L207.4 519.4L209.4 519.6L211.4 520.1L213.4 521.0L215.4 522.3L217.4 523.9L219.4 525.9L221.4 528.2L223.4 530.9L225.4 534.0L227.4 537.4L229.4 541.2L231.4 545.3M183.4 456.2L185.4 460.3L187.4 464.1L189.4 467.5L191.4 470.6L193.4 473.3L195.4 475.6L197.4 477.6L199.4 479.2L201.4 480.5L203.4 481.4L205.4 481.9L207.4 482.1L209.4 481.9L211.4 481.4L213.4 480.5L215.4 479.2L217.4 477.6L219.4 475.6L221.4 473.3L223.4 470.6L225.4 467.5L227.4 464.1L229.4 460.3L231.4 456.2M183.4 540.5L185.4 536.4L187.4 532.6L189.4 529.2L191.4 526.1L193.4 523.4L195.4 521.1L197.4 519.1L199.4 517.5L201.4 516.2L203.4 515.3L205.4 514.8L207.4 514.6L209.4 514.8L211.4 515.3L213.4 516.2L215.4 517.5L217.4 519.1L219.4 521.1L221.4 523.4L223.4 526.1L225.4 529.2L227.4 532.6L229.4 536.4L231.4 540.5M183.4 451.4L185.4 455.5L187.4 459.3L189.4 462.7L191.4 465.8L193.4 468.5L195.4 470.8L197.4 472.8L199.4 474.4L201.4 475.7L203.4 476.6L205.4 477.1L207.4 477.3L209.4 477.1L211.4 476.6L213.4 475.7L215.4 474.4L217.4 472.8L219.4 470.8L221.4 468.5L223.4 465.8L225.4 462.7L227.4 459.3L229.4 455.5L231.4 451.4M183.4 535.7L185.4 531.6L187.4 527.8L189.4 524.4L191.4 521.3L193.4 518.6L195.4 516.3L197.4 514.3L199.4 512.7L201.4 511.4L203.4 510.5L205.4 510.0L207.4 509.8L209.4 510.0L211.4 510.5L213.4 511.4L215.4 512.7L217.4 514.3L219.4 516.3L221.4 518.6L223.4 521.3L225.4 524.4L227.4 527.8L229.4 531.6L231.4 535.7M183.4 446.6L185.4 450.7L187.4 454.5L189.4 457.9L191.4 461.0L193.4 463.7L195.4 466.0L197.4 468.0L199.4 469.6L201.4 470.9L203.4 471.8L205.4 472.3L207.4 472.5L209.4 472.3L211.4 471.8L213.4 470.9L215.4 469.6L217.4 468.0L219.4 466.0L221.4 463.7L223.4 461.0L225.4 457.9L227.4 454.5L229.4 450.7L231.4 446.6M183.4 530.9L185.4 526.8L187.4 523.0L189.4 519.6L191.4 516.5L193.4 513.8L195.4 511.5L197.4 509.5L199.4 507.9L201.4 506.6L203.4 505.7L205.4 505.2L207.4 505.0L209.4 505.2L211.4 505.7L213.4 506.6L215.4 507.9L217.4 509.5L219.4 511.5L221.4 513.8L223.4 516.5L225.4 519.6L227.4 523.0L229.4 526.8L231.4 530.9M183.4 441.8L185.4 445.9L187.4 449.7L189.4 453.1L191.4 456.2L193.4 458.9L195.4 461.2L197.4 463.2L199.4 464.8L201.4 466.1L203.4 467.0L205.4 467.5L207.4 467.7L209.4 467.5L211.4 467.0L213.4 466.1L215.4 464.8L217.4 463.2L219.4 461.2L221.4 458.9L223.4 456.2L225.4 453.1L227.4 449.7L229.4 445.9L231.4 441.8M183.4 526.1L185.4 522.0L187.4 518.2L189.4 514.8L191.4 511.7L193.4 509.0L195.4 506.7L197.4 504.7L199.4 503.1L201.4 501.8L203.4 500.9L205.4 500.4L207.4 500.2L209.4 500.4L211.4 500.9L213.4 501.8L215.4 503.1L217.4 504.7L219.4 506.7L221.4 509.0L223.4 511.7L225.4 514.8L227.4 518.2L229.4 522.0L231.4 526.1M183.4 437.0L185.4 441.1L187.4 444.9L189.4 448.3L191.4 451.4L193.4 454.1L195.4 456.4L197.4 458.4L199.4 460.0L201.4 461.3L203.4 462.2L205.4 462.7L207.4 462.9L209.4 462.7L211.4 462.2L213.4 461.3L215.4 460.0L217.4 458.4L219.4 456.4L221.4 454.1L223.4 451.4L225.4 448.3L227.4 444.9L229.4 441.1L231.4 437.0M183.4 521.3L185.4 517.2L187.4 513.4L189.4 510.0L191.4 506.9L193.4 504.2L195.4 501.9L197.4 499.9L199.4 498.3L201.4 497.0L203.4 496.1L205.4 495.6L207.4 495.4L209.4 495.6L211.4 496.1L213.4 497.0L215.4 498.3L217.4 499.9L219.4 501.9L221.4 504.2L223.4 506.9L225.4 510.0L227.4 513.4L229.4 517.2L231.4 521.3M183.4 432.2L185.4 436.3L187.4 440.1L189.4 443.5L191.4 446.6L193.4 449.3L195.4 451.6L197.4 453.6L199.4 455.2L201.4 456.5L203.4 457.4L205.4 457.9L207.4 458.1L209.4 457.9L211.4 457.4L213.4 456.5L215.4 455.2L217.4 453.6L219.4 451.6L221.4 449.3L223.4 446.6L225.4 443.5L227.4 440.1L229.4 436.3L231.4 432.2M183.4 516.5L185.4 512.4L187.4 508.6L189.4 505.2L191.4 502.1L193.4 499.4L195.4 497.1L197.4 495.1L199.4 493.5L201.4 492.2L203.4 491.3L205.4 490.8L207.4 490.6L209.4 490.8L211.4 491.3L213.4 492.2L215.4 493.5L217.4 495.1L219.4 497.1L221.4 499.4L223.4 502.1L225.4 505.2L227.4 508.6L229.4 512.4L231.4 516.5M183.4 427.4L185.4 431.5L187.4 435.3L189.4 438.7L191.4 441.8L193.4 444.5L195.4 446.8L197.4 448.8L199.4 450.4L201.4 451.7L203.4 452.6L205.4 453.1L207.4 453.3L209.4 453.1L211.4 452.6L213.4 451.7L215.4 450.4L217.4 448.8L219.4 446.8L221.4 444.5L223.4 441.8L225.4 438.7L227.4 435.3L229.4 431.5L231.4 427.4M183.4 511.7L185.4 507.6L187.4 503.8L189.4 500.4L191.4 497.3L193.4 494.6L195.4 492.3L197.4 490.3L199.4 488.7L201.4 487.4L203.4 486.5L205.4 486.0L207.4 485.8L209.4 486.0L211.4 486.5L213.4 487.4L215.4 488.7L217.4 490.3L219.4 492.3L221.4 494.6L223.4 497.3L225.4 500.4L227.4 503.8L229.4 507.6L231.4 511.7M183.4 422.6L185.4 426.7L187.4 430.5L189.4 433.9L191.4 437.0L193.4 439.7L195.4 442.0L197.4 444.0L199.4 445.6L201.4 446.9L203.4 447.8L205.4 448.3L207.4 448.5L209.4 448.3L211.4 447.8L213.4 446.9L215.4 445.6L217.4 444.0L219.4 442.0L221.4 439.7L223.4 437.0L225.4 433.9L227.4 430.5L229.4 426.7L231.4 422.6M183.4 506.9L185.4 502.8L187.4 499.0L189.4 495.6L191.4 492.5L193.4 489.8L195.4 487.5L197.4 485.5L199.4 483.9L201.4 482.6L203.4 481.7L205.4 481.2L207.4 481.0L209.4 481.2L211.4 481.7L213.4 482.6L215.4 483.9L217.4 485.5L219.4 487.5L221.4 489.8L223.4 492.5L225.4 495.6L227.4 499.0L229.4 502.8L231.4 506.9M183.4 417.8L185.4 421.9L187.4 425.7L189.4 429.1L191.4 432.2L193.4 434.9L195.4 437.2L197.4 439.2L199.4 440.8L201.4 442.1L203.4 443.0L205.4 443.5L207.4 443.7L209.4 443.5L211.4 443.0L213.4 442.1L215.4 440.8L217.4 439.2L219.4 437.2L221.4 434.9L223.4 432.2L225.4 429.1L227.4 425.7L229.4 421.9L231.4 417.8M183.4 502.1L185.4 498.0L187.4 494.2L189.4 490.8L191.4 487.7L193.4 485.0L195.4 482.7L197.4 480.7L199.4 479.1L201.4 477.8L203.4 476.9L205.4 476.4L207.4 476.2L209.4 476.4L211.4 476.9L213.4 477.8L215.4 479.1L217.4 480.7L219.4 482.7L221.4 485.0L223.4 487.7L225.4 490.8L227.4 494.2L229.4 498.0L231.4 502.1M183.4 413.0L185.4 417.1L187.4 420.9L189.4 424.3L191.4 427.4L193.4 430.1L195.4 432.4L197.4 434.4L199.4 436.0L201.4 437.3L203.4 438.2L205.4 438.7L207.4 438.9L209.4 438.7L211.4 438.2L213.4 437.3L215.4 436.0L217.4 434.4L219.4 432.4L221.4 430.1L223.4 427.4L225.4 424.3L227.4 420.9L229.4 417.1L231.4 413.0M183.4 497.3L185.4 493.2L187.4 489.4L189.4 486.0L191.4 482.9L193.4 480.2L195.4 477.9L197.4 475.9L199.4 474.3L201.4 473.0L203.4 472.1L205.4 471.6L207.4 471.4L209.4 471.6L211.4 472.1L213.4 473.0L215.4 474.3L217.4 475.9L219.4 477.9L221.4 480.2L223.4 482.9L225.4 486.0L227.4 489.4L229.4 493.2L231.4 497.3M183.4 408.2L185.4 412.3L187.4 416.1L189.4 419.5L191.4 422.6L193.4 425.3L195.4 427.6L197.4 429.6L199.4 431.2L201.4 432.5L203.4 433.4L205.4 433.9L207.4 434.1L209.4 433.9L211.4 433.4L213.4 432.5L215.4 431.2L217.4 429.6L219.4 427.6L221.4 425.3L223.4 422.6L225.4 419.5L227.4 416.1L229.4 412.3L231.4 408.2M183.4 492.5L185.4 488.4L187.4 484.6L189.4 481.2L191.4 478.1L193.4 475.4L195.4 473.1L197.4 471.1L199.4 469.5L201.4 468.2L203.4 467.3L205.4 466.8L207.4 466.6L209.4 466.8L211.4 467.3L213.4 468.2L215.4 469.5L217.4 471.1L219.4 473.1L221.4 475.4L223.4 478.1L225.4 481.2L227.4 484.6L229.4 488.4L231.4 492.5M183.4 403.4L185.4 407.5L187.4 411.3L189.4 414.7L191.4 417.8L193.4 420.5L195.4 422.8L197.4 424.8L199.4 426.4L201.4 427.7L203.4 428.6L205.4 429.1L207.4 429.3L209.4 429.1L211.4 428.6L213.4 427.7L215.4 426.4L217.4 424.8L219.4 422.8L221.4 420.5L223.4 417.8L225.4 414.7L227.4 411.3L229.4 407.5L231.4 403.4M183.4 487.7L185.4 483.6L187.4 479.8L189.4 476.4L191.4 473.3L193.4 470.6L195.4 468.3L197.4 466.3L199.4 464.7L201.4 463.4L203.4 462.5L205.4 462.0L207.4 461.8L209.4 462.0L211.4 462.5L213.4 463.4L215.4 464.7L217.4 466.3L219.4 468.3L221.4 470.6L223.4 473.3L225.4 476.4L227.4 479.8L229.4 483.6L231.4 487.7M183.4 398.6L185.4 402.7L187.4 406.5L189.4 409.9L191.4 413.0L193.4 415.7L195.4 418.0L197.4 420.0L199.4 421.6L201.4 422.9L203.4 423.8L205.4 424.3L207.4 424.5L209.4 424.3L211.4 423.8L213.4 422.9L215.4 421.6L217.4 420.0L219.4 418.0L221.4 415.7L223.4 413.0L225.4 409.9L227.4 406.5L229.4 402.7L231.4 398.6M183.4 482.9L185.4 478.8L187.4 475.0L189.4 471.6L191.4 468.5L193.4 465.8L195.4 463.5L197.4 461.5L199.4 459.9L201.4 458.6L203.4 457.7L205.4 457.2L207.4 457.0L209.4 457.2L211.4 457.7L213.4 458.6L215.4 459.9L217.4 461.5L219.4 463.5L221.4 465.8L223.4 468.5L225.4 471.6L227.4 475.0L229.4 478.8L231.4 482.9M183.4 393.8L185.4 397.9L187.4 401.7L189.4 405.1L191.4 408.2L193.4 410.9L195.4 413.2L197.4 415.2L199.4 416.8L201.4 418.1L203.4 419.0L205.4 419.5L207.4 419.7L209.4 419.5L211.4 419.0L213.4 418.1L215.4 416.8L217.4 415.2L219.4 413.2L221.4 410.9L223.4 408.2L225.4 405.1L227.4 401.7L229.4 397.9L231.4 393.8M183.4 478.1L185.4 474.0L187.4 470.2L189.4 466.8L191.4 463.7L193.4 461.0L195.4 458.7L197.4 456.7L199.4 455.1L201.4 453.8L203.4 452.9L205.4 452.4L207.4 452.2L209.4 452.4L211.4 452.9L213.4 453.8L215.4 455.1L217.4 456.7L219.4 458.7L221.4 461.0L223.4 463.7L225.4 466.8L227.4 470.2L229.4 474.0L231.4 478.1M183.4 389.0L185.4 393.1L187.4 396.9L189.4 400.3L191.4 403.4L193.4 406.1L195.4 408.4L197.4 410.4L199.4 412.0L201.4 413.3L203.4 414.2L205.4 414.7L207.4 414.9L209.4 414.7L211.4 414.2L213.4 413.3L215.4 412.0L217.4 410.4L219.4 408.4L221.4 406.1L223.4 403.4L225.4 400.3L227.4 396.9L229.4 393.1L231.4 389.0M183.4 473.3L185.4 469.2L187.4 465.4L189.4 462.0L191.4 458.9L193.4 456.2L195.4 453.9L197.4 451.9L199.4 450.3L201.4 449.0L203.4 448.1L205.4 447.6L207.4 447.4L209.4 447.6L211.4 448.1L213.4 449.0L215.4 450.3L217.4 451.9L219.4 453.9L221.4 456.2L223.4 458.9L225.4 462.0L227.4 465.4L229.4 469.2L231.4 473.3M183.4 384.2L185.4 388.3L187.4 392.1L189.4 395.5L191.4 398.6L193.4 401.3L195.4 403.6L197.4 405.6L199.4 407.2L201.4 408.5L203.4 409.4L205.4 409.9L207.4 410.1L209.4 409.9L211.4 409.4L213.4 408.5L215.4 407.2L217.4 405.6L219.4 403.6L221.4 401.3L223.4 398.6L225.4 395.5L227.4 392.1L229.4 388.3L231.4 384.2M183.4 468.5L185.4 464.4L187.4 460.6L189.4 457.2L191.4 454.1L193.4 451.4L195.4 449.1L197.4 447.1L199.4 445.5L201.4 444.2L203.4 443.3L205.4 442.8L207.4 442.6L209.4 442.8L211.4 443.3L213.4 444.2L215.4 445.5L217.4 447.1L219.4 449.1L221.4 451.4L223.4 454.1L225.4 457.2L227.4 460.6L229.4 464.4L231.4 468.5M183.4 379.4L185.4 383.5L187.4 387.3L189.4 390.7L191.4 393.8L193.4 396.5L195.4 398.8L197.4 400.8L199.4 402.4L201.4 403.7L203.4 404.6L205.4 405.1L207.4 405.3L209.4 405.1L211.4 404.6L213.4 403.7L215.4 402.4L217.4 400.8L219.4 398.8L221.4 396.5L223.4 393.8L225.4 390.7L227.4 387.3L229.4 383.5L231.4 379.4M183.4 463.7L185.4 459.6L187.4 455.8L189.4 452.4L191.4 449.3L193.4 446.6L195.4 444.3L197.4 442.3L199.4 440.7L201.4 439.4L203.4 438.5L205.4 438.0L207.4 437.8L209.4 438.0L211.4 438.5L213.4 439.4L215.4 440.7L217.4 442.3L219.4 444.3L221.4 446.6L223.4 449.3L225.4 452.4L227.4 455.8L229.4 459.6L231.4 463.7M183.4 374.6L185.4 378.7L187.4 382.5L189.4 385.9L191.4 389.0L193.4 391.7L195.4 394.0L197.4 396.0L199.4 397.6L201.4 398.9L203.4 399.8L205.4 400.3L207.4 400.5L209.4 400.3L211.4 399.8L213.4 398.9L215.4 397.6L217.4 396.0L219.4 394.0L221.4 391.7L223.4 389.0L225.4 385.9L227.4 382.5L229.4 378.7L231.4 374.6M183.4 458.9L185.4 454.8L187.4 451.0L189.4 447.6L191.4 444.5L193.4 441.8L195.4 439.5L197.4 437.5L199.4 435.9L201.4 434.6L203.4 433.7L205.4 433.2L207.4 433.0L209.4 433.2L211.4 433.7L213.4 434.6L215.4 435.9L217.4 437.5L219.4 439.5L221.4 441.8L223.4 444.5L225.4 447.6L227.4 451.0L229.4 454.8L231.4 458.9M183.4 369.8L185.4 373.9L187.4 377.7L189.4 381.1L191.4 384.2L193.4 386.9L195.4 389.2L197.4 391.2L199.4 392.8L201.4 394.1L203.4 395.0L205.4 395.5L207.4 395.7L209.4 395.5L211.4 395.0L213.4 394.1L215.4 392.8L217.4 391.2L219.4 389.2L221.4 386.9L223.4 384.2L225.4 381.1L227.4 377.7L229.4 373.9L231.4 369.8M183.4 454.1L185.4 450.0L187.4 446.2L189.4 442.8L191.4 439.7L193.4 437.0L195.4 434.7L197.4 432.7L199.4 431.1L201.4 429.8L203.4 428.9L205.4 428.4L207.4 428.2L209.4 428.4L211.4 428.9L213.4 429.8L215.4 431.1L217.4 432.7L219.4 434.7L221.4 437.0L223.4 439.7L225.4 442.8L227.4 446.2L229.4 450.0L231.4 454.1M183.4 365.0L185.4 369.1L187.4 372.9L189.4 376.3L191.4 379.4L193.4 382.1L195.4 384.4L197.4 386.4L199.4 388.0L201.4 389.3L203.4 390.2L205.4 390.7L207.4 390.9L209.4 390.7L211.4 390.2L213.4 389.3L215.4 388.0L217.4 386.4L219.4 384.4L221.4 382.1L223.4 379.4L225.4 376.3L227.4 372.9L229.4 369.1L231.4 365.0M183.4 449.3L185.4 445.2L187.4 441.4L189.4 438.0L191.4 434.9L193.4 432.2L195.4 429.9L197.4 427.9L199.4 426.3L201.4 425.0L203.4 424.1L205.4 423.6L207.4 423.4L209.4 423.6L211.4 424.1L213.4 425.0L215.4 426.3L217.4 427.9L219.4 429.9L221.4 432.2L223.4 434.9L225.4 438.0L227.4 441.4L229.4 445.2L231.4 449.3M183.4 360.2L185.4 364.3L187.4 368.1L189.4 371.5L191.4 374.6L193.4 377.3L195.4 379.6L197.4 381.6L199.4 383.2L201.4 384.5L203.4 385.4L205.4 385.9L207.4 386.1L209.4 385.9L211.4 385.4L213.4 384.5L215.4 383.2L217.4 381.6L219.4 379.6L221.4 377.3L223.4 374.6L225.4 371.5L227.4 368.1L229.4 364.3L231.4 360.2M183.4 444.5L185.4 440.4L187.4 436.6L189.4 433.2L191.4 430.1L193.4 427.4L195.4 425.1L197.4 423.1L199.4 421.5L201.4 420.2L203.4 419.3L205.4 418.8L207.4 418.6L209.4 418.8L211.4 419.3L213.4 420.2L215.4 421.5L217.4 423.1L219.4 425.1L221.4 427.4L223.4 430.1L225.4 433.2L227.4 436.6L229.4 440.4L231.4 444.5M183.4 355.4L185.4 359.5L187.4 363.3L189.4 366.7L191.4 369.8L193.4 372.5L195.4 374.8L197.4 376.8L199.4 378.4L201.4 379.7L203.4 380.6L205.4 381.1L207.4 381.3L209.4 381.1L211.4 380.6L213.4 379.7L215.4 378.4L217.4 376.8L219.4 374.8L221.4 372.5L223.4 369.8L225.4 366.7L227.4 363.3L229.4 359.5L231.4 355.4M183.4 439.7L185.4 435.6L187.4 431.8L189.4 428.4L191.4 425.3L193.4 422.6L195.4 420.3L197.4 418.3L199.4 416.7L201.4 415.4L203.4 414.5L205.4 414.0L207.4 413.8L209.4 414.0L211.4 414.5L213.4 415.4L215.4 416.7L217.4 418.3L219.4 420.3L221.4 422.6L223.4 425.3L225.4 428.4L227.4 431.8L229.4 435.6L231.4 439.7"/>
</g></g>
<g transform="translate(0 1177.6) scale(1 -1)"><path d="M185.6 458.7L186.7 464.3L187.8 469.5L188.9 474.4L190.0 479.2L191.0 483.7L192.1 488.0L193.2 492.0L194.3 495.8L195.4 499.4L196.5 502.7L197.6 505.8L198.7 508.7L199.8 511.3L200.9 513.7L201.9 515.9L203.0 517.8L204.1 519.5L205.2 521.0L206.3 522.2L207.4 523.2L208.5 522.2L209.6 521.0L210.7 519.5L211.8 517.8L212.8 515.9L213.9 513.7L215.0 511.3L216.1 508.7L217.2 505.8L218.3 502.7L219.4 499.4L220.5 495.8L221.6 492.0L222.7 488.0L223.8 483.7L224.8 479.2L225.9 474.4L227.0 469.5L228.1 464.3L229.2 458.7Z" fill="none" stroke="#1f46ea" stroke-width="13" stroke-opacity="0.6" stroke-linejoin="round" clip-path="url(#topclip)"/><path d="M185.6 458.7L186.7 464.3L187.8 469.5L188.9 474.4L190.0 479.2L191.0 483.7L192.1 488.0L193.2 492.0L194.3 495.8L195.4 499.4L196.5 502.7L197.6 505.8L198.7 508.7L199.8 511.3L200.9 513.7L201.9 515.9L203.0 517.8L204.1 519.5L205.2 521.0L206.3 522.2L207.4 523.2L208.5 522.2L209.6 521.0L210.7 519.5L211.8 517.8L212.8 515.9L213.9 513.7L215.0 511.3L216.1 508.7L217.2 505.8L218.3 502.7L219.4 499.4L220.5 495.8L221.6 492.0L222.7 488.0L223.8 483.7L224.8 479.2L225.9 474.4L227.0 469.5L228.1 464.3L229.2 458.7Z" fill="#e6ebfe"/><g clip-path="url(#vclip)" stroke="#1f46ea" stroke-width="1.25" fill="none">
<path d="M183.4 494.6L185.4 498.7L187.4 502.5L189.4 505.9L191.4 509.0L193.4 511.7L195.4 514.0L197.4 516.0L199.4 517.6L201.4 518.9L203.4 519.8L205.4 520.3L207.4 520.5L209.4 520.3L211.4 519.8L213.4 518.9L215.4 517.6L217.4 516.0L219.4 514.0L221.4 511.7L223.4 509.0L225.4 505.9L227.4 502.5L229.4 498.7L231.4 494.6M183.4 578.9L185.4 574.8L187.4 571.0L189.4 567.6L191.4 564.5L193.4 561.8L195.4 559.5L197.4 557.5L199.4 555.9L201.4 554.6L203.4 553.7L205.4 553.2L207.4 553.0L209.4 553.2L211.4 553.7L213.4 554.6L215.4 555.9L217.4 557.5L219.4 559.5L221.4 561.8L223.4 564.5L225.4 567.6L227.4 571.0L229.4 574.8L231.4 578.9M183.4 489.8L185.4 493.9L187.4 497.7L189.4 501.1L191.4 504.2L193.4 506.9L195.4 509.2L197.4 511.2L199.4 512.8L201.4 514.1L203.4 515.0L205.4 515.5L207.4 515.7L209.4 515.5L211.4 515.0L213.4 514.1L215.4 512.8L217.4 511.2L219.4 509.2L221.4 506.9L223.4 504.2L225.4 501.1L227.4 497.7L229.4 493.9L231.4 489.8M183.4 574.1L185.4 570.0L187.4 566.2L189.4 562.8L191.4 559.7L193.4 557.0L195.4 554.7L197.4 552.7L199.4 551.1L201.4 549.8L203.4 548.9L205.4 548.4L207.4 548.2L209.4 548.4L211.4 548.9L213.4 549.8L215.4 551.1L217.4 552.7L219.4 554.7L221.4 557.0L223.4 559.7L225.4 562.8L227.4 566.2L229.4 570.0L231.4 574.1M183.4 485.0L185.4 489.1L187.4 492.9L189.4 496.3L191.4 499.4L193.4 502.1L195.4 504.4L197.4 506.4L199.4 508.0L201.4 509.3L203.4 510.2L205.4 510.7L207.4 510.9L209.4 510.7L211.4 510.2L213.4 509.3L215.4 508.0L217.4 506.4L219.4 504.4L221.4 502.1L223.4 499.4L225.4 496.3L227.4 492.9L229.4 489.1L231.4 485.0M183.4 569.3L185.4 565.2L187.4 561.4L189.4 558.0L191.4 554.9L193.4 552.2L195.4 549.9L197.4 547.9L199.4 546.3L201.4 545.0L203.4 544.1L205.4 543.6L207.4 543.4L209.4 543.6L211.4 544.1L213.4 545.0L215.4 546.3L217.4 547.9L219.4 549.9L221.4 552.2L223.4 554.9L225.4 558.0L227.4 561.4L229.4 565.2L231.4 569.3M183.4 480.2L185.4 484.3L187.4 488.1L189.4 491.5L191.4 494.6L193.4 497.3L195.4 499.6L197.4 501.6L199.4 503.2L201.4 504.5L203.4 505.4L205.4 505.9L207.4 506.1L209.4 505.9L211.4 505.4L213.4 504.5L215.4 503.2L217.4 501.6L219.4 499.6L221.4 497.3L223.4 494.6L225.4 491.5L227.4 488.1L229.4 484.3L231.4 480.2M183.4 564.5L185.4 560.4L187.4 556.6L189.4 553.2L191.4 550.1L193.4 547.4L195.4 545.1L197.4 543.1L199.4 541.5L201.4 540.2L203.4 539.3L205.4 538.8L207.4 538.6L209.4 538.8L211.4 539.3L213.4 540.2L215.4 541.5L217.4 543.1L219.4 545.1L221.4 547.4L223.4 550.1L225.4 553.2L227.4 556.6L229.4 560.4L231.4 564.5M183.4 475.4L185.4 479.5L187.4 483.3L189.4 486.7L191.4 489.8L193.4 492.5L195.4 494.8L197.4 496.8L199.4 498.4L201.4 499.7L203.4 500.6L205.4 501.1L207.4 501.3L209.4 501.1L211.4 500.6L213.4 499.7L215.4 498.4L217.4 496.8L219.4 494.8L221.4 492.5L223.4 489.8L225.4 486.7L227.4 483.3L229.4 479.5L231.4 475.4M183.4 559.7L185.4 555.6L187.4 551.8L189.4 548.4L191.4 545.3L193.4 542.6L195.4 540.3L197.4 538.3L199.4 536.7L201.4 535.4L203.4 534.5L205.4 534.0L207.4 533.8L209.4 534.0L211.4 534.5L213.4 535.4L215.4 536.7L217.4 538.3L219.4 540.3L221.4 542.6L223.4 545.3L225.4 548.4L227.4 551.8L229.4 555.6L231.4 559.7M183.4 470.6L185.4 474.7L187.4 478.5L189.4 481.9L191.4 485.0L193.4 487.7L195.4 490.0L197.4 492.0L199.4 493.6L201.4 494.9L203.4 495.8L205.4 496.3L207.4 496.5L209.4 496.3L211.4 495.8L213.4 494.9L215.4 493.6L217.4 492.0L219.4 490.0L221.4 487.7L223.4 485.0L225.4 481.9L227.4 478.5L229.4 474.7L231.4 470.6M183.4 554.9L185.4 550.8L187.4 547.0L189.4 543.6L191.4 540.5L193.4 537.8L195.4 535.5L197.4 533.5L199.4 531.9L201.4 530.6L203.4 529.7L205.4 529.2L207.4 529.0L209.4 529.2L211.4 529.7L213.4 530.6L215.4 531.9L217.4 533.5L219.4 535.5L221.4 537.8L223.4 540.5L225.4 543.6L227.4 547.0L229.4 550.8L231.4 554.9M183.4 465.8L185.4 469.9L187.4 473.7L189.4 477.1L191.4 480.2L193.4 482.9L195.4 485.2L197.4 487.2L199.4 488.8L201.4 490.1L203.4 491.0L205.4 491.5L207.4 491.7L209.4 491.5L211.4 491.0L213.4 490.1L215.4 488.8L217.4 487.2L219.4 485.2L221.4 482.9L223.4 480.2L225.4 477.1L227.4 473.7L229.4 469.9L231.4 465.8M183.4 550.1L185.4 546.0L187.4 542.2L189.4 538.8L191.4 535.7L193.4 533.0L195.4 530.7L197.4 528.7L199.4 527.1L201.4 525.8L203.4 524.9L205.4 524.4L207.4 524.2L209.4 524.4L211.4 524.9L213.4 525.8L215.4 527.1L217.4 528.7L219.4 530.7L221.4 533.0L223.4 535.7L225.4 538.8L227.4 542.2L229.4 546.0L231.4 550.1M183.4 461.0L185.4 465.1L187.4 468.9L189.4 472.3L191.4 475.4L193.4 478.1L195.4 480.4L197.4 482.4L199.4 484.0L201.4 485.3L203.4 486.2L205.4 486.7L207.4 486.9L209.4 486.7L211.4 486.2L213.4 485.3L215.4 484.0L217.4 482.4L219.4 480.4L221.4 478.1L223.4 475.4L225.4 472.3L227.4 468.9L229.4 465.1L231.4 461.0M183.4 545.3L185.4 541.2L187.4 537.4L189.4 534.0L191.4 530.9L193.4 528.2L195.4 525.9L197.4 523.9L199.4 522.3L201.4 521.0L203.4 520.1L205.4 519.6L207.4 519.4L209.4 519.6L211.4 520.1L213.4 521.0L215.4 522.3L217.4 523.9L219.4 525.9L221.4 528.2L223.4 530.9L225.4 534.0L227.4 537.4L229.4 541.2L231.4 545.3M183.4 456.2L185.4 460.3L187.4 464.1L189.4 467.5L191.4 470.6L193.4 473.3L195.4 475.6L197.4 477.6L199.4 479.2L201.4 480.5L203.4 481.4L205.4 481.9L207.4 482.1L209.4 481.9L211.4 481.4L213.4 480.5L215.4 479.2L217.4 477.6L219.4 475.6L221.4 473.3L223.4 470.6L225.4 467.5L227.4 464.1L229.4 460.3L231.4 456.2M183.4 540.5L185.4 536.4L187.4 532.6L189.4 529.2L191.4 526.1L193.4 523.4L195.4 521.1L197.4 519.1L199.4 517.5L201.4 516.2L203.4 515.3L205.4 514.8L207.4 514.6L209.4 514.8L211.4 515.3L213.4 516.2L215.4 517.5L217.4 519.1L219.4 521.1L221.4 523.4L223.4 526.1L225.4 529.2L227.4 532.6L229.4 536.4L231.4 540.5M183.4 451.4L185.4 455.5L187.4 459.3L189.4 462.7L191.4 465.8L193.4 468.5L195.4 470.8L197.4 472.8L199.4 474.4L201.4 475.7L203.4 476.6L205.4 477.1L207.4 477.3L209.4 477.1L211.4 476.6L213.4 475.7L215.4 474.4L217.4 472.8L219.4 470.8L221.4 468.5L223.4 465.8L225.4 462.7L227.4 459.3L229.4 455.5L231.4 451.4M183.4 535.7L185.4 531.6L187.4 527.8L189.4 524.4L191.4 521.3L193.4 518.6L195.4 516.3L197.4 514.3L199.4 512.7L201.4 511.4L203.4 510.5L205.4 510.0L207.4 509.8L209.4 510.0L211.4 510.5L213.4 511.4L215.4 512.7L217.4 514.3L219.4 516.3L221.4 518.6L223.4 521.3L225.4 524.4L227.4 527.8L229.4 531.6L231.4 535.7M183.4 446.6L185.4 450.7L187.4 454.5L189.4 457.9L191.4 461.0L193.4 463.7L195.4 466.0L197.4 468.0L199.4 469.6L201.4 470.9L203.4 471.8L205.4 472.3L207.4 472.5L209.4 472.3L211.4 471.8L213.4 470.9L215.4 469.6L217.4 468.0L219.4 466.0L221.4 463.7L223.4 461.0L225.4 457.9L227.4 454.5L229.4 450.7L231.4 446.6M183.4 530.9L185.4 526.8L187.4 523.0L189.4 519.6L191.4 516.5L193.4 513.8L195.4 511.5L197.4 509.5L199.4 507.9L201.4 506.6L203.4 505.7L205.4 505.2L207.4 505.0L209.4 505.2L211.4 505.7L213.4 506.6L215.4 507.9L217.4 509.5L219.4 511.5L221.4 513.8L223.4 516.5L225.4 519.6L227.4 523.0L229.4 526.8L231.4 530.9M183.4 441.8L185.4 445.9L187.4 449.7L189.4 453.1L191.4 456.2L193.4 458.9L195.4 461.2L197.4 463.2L199.4 464.8L201.4 466.1L203.4 467.0L205.4 467.5L207.4 467.7L209.4 467.5L211.4 467.0L213.4 466.1L215.4 464.8L217.4 463.2L219.4 461.2L221.4 458.9L223.4 456.2L225.4 453.1L227.4 449.7L229.4 445.9L231.4 441.8M183.4 526.1L185.4 522.0L187.4 518.2L189.4 514.8L191.4 511.7L193.4 509.0L195.4 506.7L197.4 504.7L199.4 503.1L201.4 501.8L203.4 500.9L205.4 500.4L207.4 500.2L209.4 500.4L211.4 500.9L213.4 501.8L215.4 503.1L217.4 504.7L219.4 506.7L221.4 509.0L223.4 511.7L225.4 514.8L227.4 518.2L229.4 522.0L231.4 526.1M183.4 437.0L185.4 441.1L187.4 444.9L189.4 448.3L191.4 451.4L193.4 454.1L195.4 456.4L197.4 458.4L199.4 460.0L201.4 461.3L203.4 462.2L205.4 462.7L207.4 462.9L209.4 462.7L211.4 462.2L213.4 461.3L215.4 460.0L217.4 458.4L219.4 456.4L221.4 454.1L223.4 451.4L225.4 448.3L227.4 444.9L229.4 441.1L231.4 437.0M183.4 521.3L185.4 517.2L187.4 513.4L189.4 510.0L191.4 506.9L193.4 504.2L195.4 501.9L197.4 499.9L199.4 498.3L201.4 497.0L203.4 496.1L205.4 495.6L207.4 495.4L209.4 495.6L211.4 496.1L213.4 497.0L215.4 498.3L217.4 499.9L219.4 501.9L221.4 504.2L223.4 506.9L225.4 510.0L227.4 513.4L229.4 517.2L231.4 521.3M183.4 432.2L185.4 436.3L187.4 440.1L189.4 443.5L191.4 446.6L193.4 449.3L195.4 451.6L197.4 453.6L199.4 455.2L201.4 456.5L203.4 457.4L205.4 457.9L207.4 458.1L209.4 457.9L211.4 457.4L213.4 456.5L215.4 455.2L217.4 453.6L219.4 451.6L221.4 449.3L223.4 446.6L225.4 443.5L227.4 440.1L229.4 436.3L231.4 432.2M183.4 516.5L185.4 512.4L187.4 508.6L189.4 505.2L191.4 502.1L193.4 499.4L195.4 497.1L197.4 495.1L199.4 493.5L201.4 492.2L203.4 491.3L205.4 490.8L207.4 490.6L209.4 490.8L211.4 491.3L213.4 492.2L215.4 493.5L217.4 495.1L219.4 497.1L221.4 499.4L223.4 502.1L225.4 505.2L227.4 508.6L229.4 512.4L231.4 516.5M183.4 427.4L185.4 431.5L187.4 435.3L189.4 438.7L191.4 441.8L193.4 444.5L195.4 446.8L197.4 448.8L199.4 450.4L201.4 451.7L203.4 452.6L205.4 453.1L207.4 453.3L209.4 453.1L211.4 452.6L213.4 451.7L215.4 450.4L217.4 448.8L219.4 446.8L221.4 444.5L223.4 441.8L225.4 438.7L227.4 435.3L229.4 431.5L231.4 427.4M183.4 511.7L185.4 507.6L187.4 503.8L189.4 500.4L191.4 497.3L193.4 494.6L195.4 492.3L197.4 490.3L199.4 488.7L201.4 487.4L203.4 486.5L205.4 486.0L207.4 485.8L209.4 486.0L211.4 486.5L213.4 487.4L215.4 488.7L217.4 490.3L219.4 492.3L221.4 494.6L223.4 497.3L225.4 500.4L227.4 503.8L229.4 507.6L231.4 511.7M183.4 422.6L185.4 426.7L187.4 430.5L189.4 433.9L191.4 437.0L193.4 439.7L195.4 442.0L197.4 444.0L199.4 445.6L201.4 446.9L203.4 447.8L205.4 448.3L207.4 448.5L209.4 448.3L211.4 447.8L213.4 446.9L215.4 445.6L217.4 444.0L219.4 442.0L221.4 439.7L223.4 437.0L225.4 433.9L227.4 430.5L229.4 426.7L231.4 422.6M183.4 506.9L185.4 502.8L187.4 499.0L189.4 495.6L191.4 492.5L193.4 489.8L195.4 487.5L197.4 485.5L199.4 483.9L201.4 482.6L203.4 481.7L205.4 481.2L207.4 481.0L209.4 481.2L211.4 481.7L213.4 482.6L215.4 483.9L217.4 485.5L219.4 487.5L221.4 489.8L223.4 492.5L225.4 495.6L227.4 499.0L229.4 502.8L231.4 506.9M183.4 417.8L185.4 421.9L187.4 425.7L189.4 429.1L191.4 432.2L193.4 434.9L195.4 437.2L197.4 439.2L199.4 440.8L201.4 442.1L203.4 443.0L205.4 443.5L207.4 443.7L209.4 443.5L211.4 443.0L213.4 442.1L215.4 440.8L217.4 439.2L219.4 437.2L221.4 434.9L223.4 432.2L225.4 429.1L227.4 425.7L229.4 421.9L231.4 417.8M183.4 502.1L185.4 498.0L187.4 494.2L189.4 490.8L191.4 487.7L193.4 485.0L195.4 482.7L197.4 480.7L199.4 479.1L201.4 477.8L203.4 476.9L205.4 476.4L207.4 476.2L209.4 476.4L211.4 476.9L213.4 477.8L215.4 479.1L217.4 480.7L219.4 482.7L221.4 485.0L223.4 487.7L225.4 490.8L227.4 494.2L229.4 498.0L231.4 502.1M183.4 413.0L185.4 417.1L187.4 420.9L189.4 424.3L191.4 427.4L193.4 430.1L195.4 432.4L197.4 434.4L199.4 436.0L201.4 437.3L203.4 438.2L205.4 438.7L207.4 438.9L209.4 438.7L211.4 438.2L213.4 437.3L215.4 436.0L217.4 434.4L219.4 432.4L221.4 430.1L223.4 427.4L225.4 424.3L227.4 420.9L229.4 417.1L231.4 413.0M183.4 497.3L185.4 493.2L187.4 489.4L189.4 486.0L191.4 482.9L193.4 480.2L195.4 477.9L197.4 475.9L199.4 474.3L201.4 473.0L203.4 472.1L205.4 471.6L207.4 471.4L209.4 471.6L211.4 472.1L213.4 473.0L215.4 474.3L217.4 475.9L219.4 477.9L221.4 480.2L223.4 482.9L225.4 486.0L227.4 489.4L229.4 493.2L231.4 497.3M183.4 408.2L185.4 412.3L187.4 416.1L189.4 419.5L191.4 422.6L193.4 425.3L195.4 427.6L197.4 429.6L199.4 431.2L201.4 432.5L203.4 433.4L205.4 433.9L207.4 434.1L209.4 433.9L211.4 433.4L213.4 432.5L215.4 431.2L217.4 429.6L219.4 427.6L221.4 425.3L223.4 422.6L225.4 419.5L227.4 416.1L229.4 412.3L231.4 408.2M183.4 492.5L185.4 488.4L187.4 484.6L189.4 481.2L191.4 478.1L193.4 475.4L195.4 473.1L197.4 471.1L199.4 469.5L201.4 468.2L203.4 467.3L205.4 466.8L207.4 466.6L209.4 466.8L211.4 467.3L213.4 468.2L215.4 469.5L217.4 471.1L219.4 473.1L221.4 475.4L223.4 478.1L225.4 481.2L227.4 484.6L229.4 488.4L231.4 492.5M183.4 403.4L185.4 407.5L187.4 411.3L189.4 414.7L191.4 417.8L193.4 420.5L195.4 422.8L197.4 424.8L199.4 426.4L201.4 427.7L203.4 428.6L205.4 429.1L207.4 429.3L209.4 429.1L211.4 428.6L213.4 427.7L215.4 426.4L217.4 424.8L219.4 422.8L221.4 420.5L223.4 417.8L225.4 414.7L227.4 411.3L229.4 407.5L231.4 403.4M183.4 487.7L185.4 483.6L187.4 479.8L189.4 476.4L191.4 473.3L193.4 470.6L195.4 468.3L197.4 466.3L199.4 464.7L201.4 463.4L203.4 462.5L205.4 462.0L207.4 461.8L209.4 462.0L211.4 462.5L213.4 463.4L215.4 464.7L217.4 466.3L219.4 468.3L221.4 470.6L223.4 473.3L225.4 476.4L227.4 479.8L229.4 483.6L231.4 487.7M183.4 398.6L185.4 402.7L187.4 406.5L189.4 409.9L191.4 413.0L193.4 415.7L195.4 418.0L197.4 420.0L199.4 421.6L201.4 422.9L203.4 423.8L205.4 424.3L207.4 424.5L209.4 424.3L211.4 423.8L213.4 422.9L215.4 421.6L217.4 420.0L219.4 418.0L221.4 415.7L223.4 413.0L225.4 409.9L227.4 406.5L229.4 402.7L231.4 398.6M183.4 482.9L185.4 478.8L187.4 475.0L189.4 471.6L191.4 468.5L193.4 465.8L195.4 463.5L197.4 461.5L199.4 459.9L201.4 458.6L203.4 457.7L205.4 457.2L207.4 457.0L209.4 457.2L211.4 457.7L213.4 458.6L215.4 459.9L217.4 461.5L219.4 463.5L221.4 465.8L223.4 468.5L225.4 471.6L227.4 475.0L229.4 478.8L231.4 482.9M183.4 393.8L185.4 397.9L187.4 401.7L189.4 405.1L191.4 408.2L193.4 410.9L195.4 413.2L197.4 415.2L199.4 416.8L201.4 418.1L203.4 419.0L205.4 419.5L207.4 419.7L209.4 419.5L211.4 419.0L213.4 418.1L215.4 416.8L217.4 415.2L219.4 413.2L221.4 410.9L223.4 408.2L225.4 405.1L227.4 401.7L229.4 397.9L231.4 393.8M183.4 478.1L185.4 474.0L187.4 470.2L189.4 466.8L191.4 463.7L193.4 461.0L195.4 458.7L197.4 456.7L199.4 455.1L201.4 453.8L203.4 452.9L205.4 452.4L207.4 452.2L209.4 452.4L211.4 452.9L213.4 453.8L215.4 455.1L217.4 456.7L219.4 458.7L221.4 461.0L223.4 463.7L225.4 466.8L227.4 470.2L229.4 474.0L231.4 478.1M183.4 389.0L185.4 393.1L187.4 396.9L189.4 400.3L191.4 403.4L193.4 406.1L195.4 408.4L197.4 410.4L199.4 412.0L201.4 413.3L203.4 414.2L205.4 414.7L207.4 414.9L209.4 414.7L211.4 414.2L213.4 413.3L215.4 412.0L217.4 410.4L219.4 408.4L221.4 406.1L223.4 403.4L225.4 400.3L227.4 396.9L229.4 393.1L231.4 389.0M183.4 473.3L185.4 469.2L187.4 465.4L189.4 462.0L191.4 458.9L193.4 456.2L195.4 453.9L197.4 451.9L199.4 450.3L201.4 449.0L203.4 448.1L205.4 447.6L207.4 447.4L209.4 447.6L211.4 448.1L213.4 449.0L215.4 450.3L217.4 451.9L219.4 453.9L221.4 456.2L223.4 458.9L225.4 462.0L227.4 465.4L229.4 469.2L231.4 473.3M183.4 384.2L185.4 388.3L187.4 392.1L189.4 395.5L191.4 398.6L193.4 401.3L195.4 403.6L197.4 405.6L199.4 407.2L201.4 408.5L203.4 409.4L205.4 409.9L207.4 410.1L209.4 409.9L211.4 409.4L213.4 408.5L215.4 407.2L217.4 405.6L219.4 403.6L221.4 401.3L223.4 398.6L225.4 395.5L227.4 392.1L229.4 388.3L231.4 384.2M183.4 468.5L185.4 464.4L187.4 460.6L189.4 457.2L191.4 454.1L193.4 451.4L195.4 449.1L197.4 447.1L199.4 445.5L201.4 444.2L203.4 443.3L205.4 442.8L207.4 442.6L209.4 442.8L211.4 443.3L213.4 444.2L215.4 445.5L217.4 447.1L219.4 449.1L221.4 451.4L223.4 454.1L225.4 457.2L227.4 460.6L229.4 464.4L231.4 468.5M183.4 379.4L185.4 383.5L187.4 387.3L189.4 390.7L191.4 393.8L193.4 396.5L195.4 398.8L197.4 400.8L199.4 402.4L201.4 403.7L203.4 404.6L205.4 405.1L207.4 405.3L209.4 405.1L211.4 404.6L213.4 403.7L215.4 402.4L217.4 400.8L219.4 398.8L221.4 396.5L223.4 393.8L225.4 390.7L227.4 387.3L229.4 383.5L231.4 379.4M183.4 463.7L185.4 459.6L187.4 455.8L189.4 452.4L191.4 449.3L193.4 446.6L195.4 444.3L197.4 442.3L199.4 440.7L201.4 439.4L203.4 438.5L205.4 438.0L207.4 437.8L209.4 438.0L211.4 438.5L213.4 439.4L215.4 440.7L217.4 442.3L219.4 444.3L221.4 446.6L223.4 449.3L225.4 452.4L227.4 455.8L229.4 459.6L231.4 463.7M183.4 374.6L185.4 378.7L187.4 382.5L189.4 385.9L191.4 389.0L193.4 391.7L195.4 394.0L197.4 396.0L199.4 397.6L201.4 398.9L203.4 399.8L205.4 400.3L207.4 400.5L209.4 400.3L211.4 399.8L213.4 398.9L215.4 397.6L217.4 396.0L219.4 394.0L221.4 391.7L223.4 389.0L225.4 385.9L227.4 382.5L229.4 378.7L231.4 374.6M183.4 458.9L185.4 454.8L187.4 451.0L189.4 447.6L191.4 444.5L193.4 441.8L195.4 439.5L197.4 437.5L199.4 435.9L201.4 434.6L203.4 433.7L205.4 433.2L207.4 433.0L209.4 433.2L211.4 433.7L213.4 434.6L215.4 435.9L217.4 437.5L219.4 439.5L221.4 441.8L223.4 444.5L225.4 447.6L227.4 451.0L229.4 454.8L231.4 458.9M183.4 369.8L185.4 373.9L187.4 377.7L189.4 381.1L191.4 384.2L193.4 386.9L195.4 389.2L197.4 391.2L199.4 392.8L201.4 394.1L203.4 395.0L205.4 395.5L207.4 395.7L209.4 395.5L211.4 395.0L213.4 394.1L215.4 392.8L217.4 391.2L219.4 389.2L221.4 386.9L223.4 384.2L225.4 381.1L227.4 377.7L229.4 373.9L231.4 369.8M183.4 454.1L185.4 450.0L187.4 446.2L189.4 442.8L191.4 439.7L193.4 437.0L195.4 434.7L197.4 432.7L199.4 431.1L201.4 429.8L203.4 428.9L205.4 428.4L207.4 428.2L209.4 428.4L211.4 428.9L213.4 429.8L215.4 431.1L217.4 432.7L219.4 434.7L221.4 437.0L223.4 439.7L225.4 442.8L227.4 446.2L229.4 450.0L231.4 454.1M183.4 365.0L185.4 369.1L187.4 372.9L189.4 376.3L191.4 379.4L193.4 382.1L195.4 384.4L197.4 386.4L199.4 388.0L201.4 389.3L203.4 390.2L205.4 390.7L207.4 390.9L209.4 390.7L211.4 390.2L213.4 389.3L215.4 388.0L217.4 386.4L219.4 384.4L221.4 382.1L223.4 379.4L225.4 376.3L227.4 372.9L229.4 369.1L231.4 365.0M183.4 449.3L185.4 445.2L187.4 441.4L189.4 438.0L191.4 434.9L193.4 432.2L195.4 429.9L197.4 427.9L199.4 426.3L201.4 425.0L203.4 424.1L205.4 423.6L207.4 423.4L209.4 423.6L211.4 424.1L213.4 425.0L215.4 426.3L217.4 427.9L219.4 429.9L221.4 432.2L223.4 434.9L225.4 438.0L227.4 441.4L229.4 445.2L231.4 449.3M183.4 360.2L185.4 364.3L187.4 368.1L189.4 371.5L191.4 374.6L193.4 377.3L195.4 379.6L197.4 381.6L199.4 383.2L201.4 384.5L203.4 385.4L205.4 385.9L207.4 386.1L209.4 385.9L211.4 385.4L213.4 384.5L215.4 383.2L217.4 381.6L219.4 379.6L221.4 377.3L223.4 374.6L225.4 371.5L227.4 368.1L229.4 364.3L231.4 360.2M183.4 444.5L185.4 440.4L187.4 436.6L189.4 433.2L191.4 430.1L193.4 427.4L195.4 425.1L197.4 423.1L199.4 421.5L201.4 420.2L203.4 419.3L205.4 418.8L207.4 418.6L209.4 418.8L211.4 419.3L213.4 420.2L215.4 421.5L217.4 423.1L219.4 425.1L221.4 427.4L223.4 430.1L225.4 433.2L227.4 436.6L229.4 440.4L231.4 444.5M183.4 355.4L185.4 359.5L187.4 363.3L189.4 366.7L191.4 369.8L193.4 372.5L195.4 374.8L197.4 376.8L199.4 378.4L201.4 379.7L203.4 380.6L205.4 381.1L207.4 381.3L209.4 381.1L211.4 380.6L213.4 379.7L215.4 378.4L217.4 376.8L219.4 374.8L221.4 372.5L223.4 369.8L225.4 366.7L227.4 363.3L229.4 359.5L231.4 355.4M183.4 439.7L185.4 435.6L187.4 431.8L189.4 428.4L191.4 425.3L193.4 422.6L195.4 420.3L197.4 418.3L199.4 416.7L201.4 415.4L203.4 414.5L205.4 414.0L207.4 413.8L209.4 414.0L211.4 414.5L213.4 415.4L215.4 416.7L217.4 418.3L219.4 420.3L221.4 422.6L223.4 425.3L225.4 428.4L227.4 431.8L229.4 435.6L231.4 439.7"/>
</g></g>
<path d="M64.0 523.3C65.0 523.4 68.3 523.3 70.0 523.8C71.7 524.2 72.9 524.9 74.2 526.0C75.5 527.1 76.6 528.5 77.8 530.6C79.0 532.7 80.1 535.2 81.3 538.4C82.5 541.6 83.7 545.8 84.9 549.8C86.1 553.8 87.5 558.6 88.4 562.6C89.4 566.6 89.8 569.6 90.6 574.0C91.4 578.4 92.4 583.9 93.2 588.8C94.0 593.7 94.7 599.5 95.6 603.6C96.5 607.7 97.2 610.4 98.4 613.6C99.6 616.8 100.8 619.7 102.7 622.8C104.6 625.9 107.4 629.6 109.8 632.1C112.2 634.6 114.5 636.3 116.9 637.8C119.3 639.3 121.6 640.3 124.0 641.3C126.4 642.2 128.7 642.9 131.1 643.5C133.5 644.0 135.8 644.4 138.2 644.6C140.6 644.8 142.9 644.9 145.3 644.9C147.7 644.9 150.1 644.8 152.5 644.6C154.9 644.4 157.2 644.0 159.6 643.5C162.0 642.9 164.3 642.2 166.7 641.3C169.1 640.4 171.4 639.4 173.8 638.1C176.2 636.8 178.5 635.3 180.9 633.5C183.3 631.7 185.6 629.7 188.0 627.1C190.4 624.5 192.7 622.0 195.1 617.9C197.5 613.7 200.1 607.0 202.2 602.2C204.2 597.3 205.7 593.3 207.4 588.8C209.1 584.3 210.6 580.2 212.6 575.4C214.7 570.5 217.3 563.9 219.7 559.7C222.1 555.6 224.4 553.1 226.8 550.5C229.2 547.9 231.5 545.9 233.9 544.1C236.3 542.3 238.6 540.8 241.0 539.5C243.4 538.2 245.7 537.2 248.1 536.3C250.5 535.4 252.8 534.6 255.2 534.1C257.6 533.6 259.9 533.2 262.3 533.0C264.7 532.8 267.1 532.7 269.5 532.7C271.9 532.7 274.2 532.8 276.6 533.0C279.0 533.2 281.3 533.6 283.7 534.1C286.1 534.6 288.4 535.3 290.8 536.3C293.2 537.2 295.5 538.3 297.9 539.8C300.3 541.3 302.6 543.0 305.0 545.5C307.4 548.0 310.2 551.7 312.1 554.8C314.0 557.9 315.2 560.8 316.4 564.0C317.6 567.2 318.3 569.9 319.2 574.0C320.1 578.1 320.8 583.9 321.6 588.8C322.4 593.7 323.4 599.2 324.2 603.6C325.0 608.0 325.4 611.0 326.4 615.0C327.3 619.0 328.7 623.8 329.9 627.8C331.1 631.8 332.3 636.0 333.5 639.2C334.7 642.4 335.8 644.9 337.0 647.0C338.2 649.1 339.3 650.5 340.6 651.6C341.9 652.7 343.1 653.3 344.8 653.8C346.5 654.2 349.8 654.2 350.8 654.3" stroke="#f02a2a" stroke-width="1.3" fill="none"/>
<path d="M64.0 654.3C65.0 654.2 68.3 654.2 70.0 653.8C71.7 653.3 72.9 652.7 74.2 651.6C75.5 650.5 76.6 649.1 77.8 647.0C79.0 644.9 80.1 642.4 81.3 639.2C82.5 636.0 83.7 631.8 84.9 627.8C86.1 623.8 87.5 619.0 88.4 615.0C89.4 611.0 89.8 608.0 90.6 603.6C91.4 599.2 92.4 593.7 93.2 588.8C94.0 583.9 94.7 578.1 95.6 574.0C96.5 569.9 97.2 567.2 98.4 564.0C99.6 560.8 100.8 557.9 102.7 554.8C104.6 551.7 107.4 548.0 109.8 545.5C112.2 543.0 114.5 541.3 116.9 539.8C119.3 538.3 121.6 537.2 124.0 536.3C126.4 535.3 128.7 534.6 131.1 534.1C133.5 533.6 135.8 533.2 138.2 533.0C140.6 532.8 142.9 532.7 145.3 532.7C147.7 532.7 150.1 532.8 152.5 533.0C154.9 533.2 157.2 533.6 159.6 534.1C162.0 534.6 164.3 535.4 166.7 536.3C169.1 537.2 171.4 538.2 173.8 539.5C176.2 540.8 178.5 542.3 180.9 544.1C183.3 545.9 185.6 547.9 188.0 550.5C190.4 553.1 192.7 555.6 195.1 559.7C197.5 563.9 200.1 570.5 202.2 575.4C204.2 580.2 205.7 584.3 207.4 588.8C209.1 593.3 210.6 597.3 212.6 602.2C214.7 607.0 217.3 613.7 219.7 617.9C222.1 622.0 224.4 624.5 226.8 627.1C229.2 629.7 231.5 631.7 233.9 633.5C236.3 635.3 238.6 636.8 241.0 638.1C243.4 639.4 245.7 640.4 248.1 641.3C250.5 642.2 252.8 642.9 255.2 643.5C257.6 644.0 259.9 644.4 262.3 644.6C264.7 644.8 267.1 644.9 269.5 644.9C271.9 644.9 274.2 644.8 276.6 644.6C279.0 644.4 281.3 644.0 283.7 643.5C286.1 642.9 288.4 642.2 290.8 641.3C293.2 640.3 295.5 639.3 297.9 637.8C300.3 636.3 302.6 634.6 305.0 632.1C307.4 629.6 310.2 625.9 312.1 622.8C314.0 619.7 315.2 616.8 316.4 613.6C317.6 610.4 318.3 607.7 319.2 603.6C320.1 599.5 320.8 593.7 321.6 588.8C322.4 583.9 323.4 578.4 324.2 574.0C325.0 569.6 325.4 566.6 326.4 562.6C327.3 558.6 328.7 553.8 329.9 549.8C331.1 545.8 332.3 541.6 333.5 538.4C334.7 535.2 335.8 532.7 337.0 530.6C338.2 528.5 339.3 527.1 340.6 526.0C341.9 524.9 343.1 524.2 344.8 523.8C346.5 523.3 349.8 523.4 350.8 523.3" stroke="#f02a2a" stroke-width="1.3" fill="none"/>
<path d="M351.3 523L351.3 654" stroke="#777" stroke-width="1"/>
<path d="M63.5 589.1999999999999L69.0 589.1999999999999M345.8 589.1999999999999L351.3 589.1999999999999" stroke="#222" stroke-width="1.2"/>
<text x="29.5" y="441.4" font-size="32" fill="#111" text-anchor="start" >(c)</text>
<text x="28.2" y="468.6" font-size="22.5" fill="#111" text-anchor="start" >0.1</text>
<text x="18.4" y="719.2" font-size="22.5" fill="#111" text-anchor="start" >−0.1</text>
<text x="48.3" y="596.2" font-size="22.5" fill="#111" text-anchor="start" >0</text>
<text transform="translate(23 615) rotate(-90)" font-size="27" fill="#111">E(eV)</text>
<text x="207.4" y="741.0" font-size="21" fill="#111" text-anchor="middle" >0</text>
<text x="202.3" y="767.6" font-size="27" fill="#111" text-anchor="start" >k</text>
<text x="216.0" y="773.5" font-size="18" fill="#111" text-anchor="start" font-weight="bold">y</text>
<text x="25.0" y="752.0" font-size="30" fill="#111" text-anchor="start" >−</text>
<text x="45.9" y="749.6" font-size="28.5" fill="#111" text-anchor="start" >π</text>
<text transform="translate(60.7 756) scale(1.5 1.88)" font-size="28" fill="#111">/</text>
<text transform="translate(74.7 752) scale(1.277 1.329)" font-size="28" fill="#111">√</text>
<path d="M93.9 723.4L105.7 723.4" stroke="#111" stroke-width="1.7"/>
<text x="92.2" y="749.6" font-size="28.5" fill="#111" text-anchor="start" >3</text>
<text x="307.8" y="749.6" font-size="28.5" fill="#111" text-anchor="start" >π</text>
<text transform="translate(322.6 756) scale(1.5 1.88)" font-size="28" fill="#111">/</text>
<text transform="translate(336.6 752) scale(1.277 1.329)" font-size="28" fill="#111">√</text>
<path d="M355.8 723.4L367.6 723.4" stroke="#111" stroke-width="1.7"/>
<text x="354.1" y="749.6" font-size="28.5" fill="#111" text-anchor="start" >3</text>
</g>
<g id="pd">
<path d="M434.2 458.0L434.2 541.5L438.0 550.0L441.5 558.5L443.6 562.0L445.8 560.3L446.6 559.6L446.9 558.8L447.2 558.0L447.5 557.3L447.8 556.6L448.1 556.0L448.4 555.3L448.7 554.8L449.0 554.2L449.3 553.7L449.6 553.1L449.9 552.6L450.2 552.1L450.4 551.6L450.7 551.2L450.9 550.8L451.2 550.5L451.4 550.1L451.7 549.8L452.0 549.4L452.3 549.0L452.6 548.6L453.0 548.2L453.4 547.7L453.9 547.2L454.4 546.6L454.9 546.0L455.5 545.4L456.1 544.7L456.8 544.1L457.4 543.4L458.1 542.8L458.7 542.1L459.4 541.6L460.0 541.0L460.6 540.5L461.2 540.0L461.8 539.6L462.4 539.2L463.0 538.8L463.6 538.5L464.2 538.1L464.7 537.8L465.3 537.5L465.9 537.2L466.5 536.9L467.1 536.6L467.7 536.3L468.3 536.0L468.9 535.7L469.5 535.5L470.1 535.2L470.7 534.9L471.2 534.7L471.8 534.5L472.4 534.2L473.0 534.0L473.6 533.8L474.2 533.6L474.8 533.4L475.4 533.2L476.0 533.0L476.6 532.9L477.2 532.7L477.8 532.5L478.3 532.4L478.9 532.3L479.5 532.1L480.1 532.0L480.7 531.9L481.3 531.7L481.9 531.6L482.5 531.5L483.1 531.4L483.7 531.2L484.3 531.1L484.9 531.0L485.4 530.9L486.0 530.8L486.6 530.7L487.2 530.6L487.8 530.6L488.4 530.5L489.0 530.4L489.6 530.3L490.2 530.3L490.8 530.2L491.4 530.2L492.0 530.1L492.6 530.1L493.1 530.1L493.7 530.0L494.3 530.0L494.9 530.0L495.5 529.9L496.1 529.9L496.7 529.9L497.3 529.8L497.9 529.8L498.5 529.7L499.1 529.7L499.6 529.6L500.2 529.6L500.8 529.6L501.4 529.5L502.0 529.5L502.6 529.4L503.2 529.4L503.8 529.4L504.4 529.3L505.0 529.3L505.6 529.2L506.2 529.2L506.7 529.1L507.3 529.1L507.9 529.1L508.5 529.0L509.1 529.0L509.7 528.9L510.3 528.9L510.9 528.9L511.5 528.8L512.1 528.8L512.7 528.7L513.3 528.7L513.9 528.6L514.5 528.6L515.1 528.5L515.7 528.5L516.3 528.5L516.9 528.4L517.5 528.4L518.1 528.4L518.7 528.4L519.3 528.3L519.9 528.3L520.5 528.3L521.1 528.3L521.6 528.3L522.2 528.3L522.8 528.3L523.4 528.3L524.0 528.4L524.6 528.4L525.2 528.4L525.8 528.5L526.4 528.5L527.0 528.6L527.6 528.6L528.1 528.7L528.7 528.8L529.3 528.8L529.9 528.9L530.5 529.0L531.1 529.1L531.7 529.2L532.3 529.3L532.9 529.4L533.5 529.5L534.1 529.6L534.7 529.7L535.2 529.9L535.8 530.0L536.4 530.2L537.0 530.3L537.6 530.5L538.2 530.7L538.8 531.0L539.4 531.3L540.0 531.6L540.6 531.9L541.3 532.3L541.9 532.7L542.5 533.1L543.1 533.5L543.7 533.9L544.3 534.3L544.9 534.7L545.4 535.2L545.9 535.6L546.4 536.0L546.8 536.5L547.2 537.0L547.6 537.4L548.0 537.9L548.3 538.4L548.7 538.9L549.0 539.4L549.3 539.9L549.6 540.3L549.9 540.8L550.2 541.3L550.5 541.8L550.8 542.2L551.0 542.7L551.3 543.1L551.5 543.6L551.7 544.0L552.0 544.5L552.2 544.9L552.4 545.4L552.6 545.9L552.8 546.4L553.0 546.9L553.2 547.4L553.4 548.0L553.6 548.6L553.8 549.2L554.0 549.9L554.2 550.5L554.4 551.1L554.6 551.8L554.7 552.4L554.9 553.0L555.1 553.6L555.2 554.1L555.3 554.6L555.4 555.2L555.5 555.7L555.6 556.2L555.7 556.7L555.8 557.2L555.9 557.7L555.9 558.2L556.0 558.6L556.1 559.0L556.2 559.4L556.3 559.7L556.4 560.0L556.6 560.3L556.7 560.5L556.9 560.7L557.1 560.9L557.2 561.1L557.4 561.3L557.5 561.4L557.7 561.5L557.8 561.6L557.9 561.7L558.0 561.8L560.1 556.9L562.3 542.7L564.4 531.3L565.8 527.0L567.6 524.2L570.0 523.4L584.6 523.4L587.0 524.2L588.8 527.0L590.2 531.3L592.3 542.7L594.5 556.9L596.6 561.8L596.7 561.7L596.8 561.6L596.9 561.5L597.1 561.4L597.2 561.3L597.4 561.1L597.5 560.9L597.7 560.7L597.9 560.5L598.0 560.3L598.2 560.0L598.3 559.7L598.4 559.4L598.5 559.0L598.6 558.6L598.7 558.2L598.7 557.7L598.8 557.2L598.9 556.7L599.0 556.2L599.1 555.7L599.2 555.2L599.3 554.6L599.4 554.1L599.5 553.6L599.7 553.0L599.9 552.4L600.0 551.8L600.2 551.1L600.4 550.5L600.6 549.9L600.8 549.2L601.0 548.6L601.2 548.0L601.4 547.4L601.6 546.9L601.8 546.4L602.0 545.9L602.2 545.4L602.4 544.9L602.6 544.5L602.9 544.0L603.1 543.6L603.3 543.1L603.6 542.7L603.8 542.2L604.1 541.8L604.4 541.3L604.7 540.8L605.0 540.3L605.3 539.9L605.6 539.4L605.9 538.9L606.3 538.4L606.6 537.9L607.0 537.4L607.4 537.0L607.8 536.5L608.2 536.0L608.7 535.6L609.2 535.2L609.7 534.7L610.3 534.3L610.9 533.9L611.5 533.5L612.1 533.1L612.7 532.7L613.3 532.3L614.0 531.9L614.6 531.6L615.2 531.3L615.8 531.0L616.4 530.7L617.0 530.5L617.6 530.3L618.2 530.2L618.8 530.0L619.3 529.9L619.9 529.7L620.5 529.6L621.1 529.5L621.7 529.4L622.3 529.3L622.9 529.2L623.5 529.1L624.1 529.0L624.7 528.9L625.3 528.8L625.9 528.8L626.4 528.7L627.0 528.6L627.6 528.6L628.2 528.5L628.8 528.5L629.4 528.4L630.0 528.4L630.6 528.4L631.2 528.3L631.8 528.3L632.4 528.3L633.0 528.3L633.5 528.3L634.1 528.3L634.7 528.3L635.3 528.3L635.9 528.4L636.5 528.4L637.1 528.4L637.7 528.4L638.3 528.5L638.9 528.5L639.5 528.5L640.1 528.6L640.7 528.6L641.3 528.7L641.9 528.7L642.5 528.8L643.1 528.8L643.7 528.9L644.3 528.9L644.9 528.9L645.5 529.0L646.1 529.0L646.7 529.1L647.3 529.1L647.9 529.1L648.4 529.2L649.0 529.2L649.6 529.3L650.2 529.3L650.8 529.4L651.4 529.4L652.0 529.4L652.6 529.5L653.2 529.5L653.8 529.6L654.4 529.6L654.9 529.6L655.5 529.7L656.1 529.7L656.7 529.8L657.3 529.8L657.9 529.9L658.5 529.9L659.1 529.9L659.7 530.0L660.3 530.0L660.9 530.0L661.5 530.1L662.0 530.1L662.6 530.1L663.2 530.2L663.8 530.2L664.4 530.3L665.0 530.3L665.6 530.4L666.2 530.5L666.8 530.6L667.4 530.6L668.0 530.7L668.6 530.8L669.1 530.9L669.7 531.0L670.3 531.1L670.9 531.2L671.5 531.4L672.1 531.5L672.7 531.6L673.3 531.7L673.9 531.9L674.5 532.0L675.1 532.1L675.7 532.3L676.2 532.4L676.8 532.5L677.4 532.7L678.0 532.9L678.6 533.0L679.2 533.2L679.8 533.4L680.4 533.6L681.0 533.8L681.6 534.0L682.2 534.2L682.8 534.5L683.3 534.7L683.9 534.9L684.5 535.2L685.1 535.5L685.7 535.7L686.3 536.0L686.9 536.3L687.5 536.6L688.1 536.9L688.7 537.2L689.3 537.5L689.9 537.8L690.4 538.1L691.0 538.5L691.6 538.8L692.2 539.2L692.8 539.6L693.4 540.0L694.0 540.5L694.6 541.0L695.2 541.6L695.9 542.1L696.5 542.8L697.2 543.4L697.8 544.1L698.5 544.7L699.1 545.4L699.7 546.0L700.2 546.6L700.7 547.2L701.2 547.7L701.6 548.2L702.0 548.6L702.3 549.0L702.6 549.4L702.9 549.8L703.2 550.1L703.4 550.5L703.7 550.8L703.9 551.2L704.2 551.6L704.4 552.1L704.7 552.6L705.0 553.1L705.3 553.7L705.6 554.2L705.9 554.8L706.2 555.3L706.5 556.0L706.8 556.6L707.1 557.3L707.4 558.0L707.7 558.8L708.0 559.6L708.8 560.3L711.0 562.0L713.1 558.5L716.6 550.0L720.4 541.5L720.4 458.0Z" fill="#22bdf0"/>
<path d="M434.2 718.0L434.2 634.5L438.0 626.0L441.5 617.5L443.6 614.0L445.8 615.7L446.6 616.4L446.9 617.2L447.2 618.0L447.5 618.7L447.8 619.4L448.1 620.0L448.4 620.7L448.7 621.2L449.0 621.8L449.3 622.3L449.6 622.9L449.9 623.4L450.2 623.9L450.4 624.4L450.7 624.8L450.9 625.2L451.2 625.5L451.4 625.9L451.7 626.2L452.0 626.6L452.3 627.0L452.6 627.4L453.0 627.8L453.4 628.3L453.9 628.8L454.4 629.4L454.9 630.0L455.5 630.6L456.1 631.3L456.8 631.9L457.4 632.6L458.1 633.2L458.7 633.9L459.4 634.4L460.0 635.0L460.6 635.5L461.2 636.0L461.8 636.4L462.4 636.8L463.0 637.2L463.6 637.5L464.2 637.9L464.7 638.2L465.3 638.5L465.9 638.8L466.5 639.1L467.1 639.4L467.7 639.7L468.3 640.0L468.9 640.3L469.5 640.5L470.1 640.8L470.7 641.1L471.2 641.3L471.8 641.5L472.4 641.8L473.0 642.0L473.6 642.2L474.2 642.4L474.8 642.6L475.4 642.8L476.0 643.0L476.6 643.1L477.2 643.3L477.8 643.5L478.3 643.6L478.9 643.7L479.5 643.9L480.1 644.0L480.7 644.1L481.3 644.3L481.9 644.4L482.5 644.5L483.1 644.6L483.7 644.8L484.3 644.9L484.9 645.0L485.4 645.1L486.0 645.2L486.6 645.3L487.2 645.4L487.8 645.4L488.4 645.5L489.0 645.6L489.6 645.7L490.2 645.7L490.8 645.8L491.4 645.8L492.0 645.9L492.6 645.9L493.1 645.9L493.7 646.0L494.3 646.0L494.9 646.0L495.5 646.1L496.1 646.1L496.7 646.1L497.3 646.2L497.9 646.2L498.5 646.3L499.1 646.3L499.6 646.4L500.2 646.4L500.8 646.4L501.4 646.5L502.0 646.5L502.6 646.6L503.2 646.6L503.8 646.6L504.4 646.7L505.0 646.7L505.6 646.8L506.2 646.8L506.7 646.9L507.3 646.9L507.9 646.9L508.5 647.0L509.1 647.0L509.7 647.1L510.3 647.1L510.9 647.1L511.5 647.2L512.1 647.2L512.7 647.3L513.3 647.3L513.9 647.4L514.5 647.4L515.1 647.5L515.7 647.5L516.3 647.5L516.9 647.6L517.5 647.6L518.1 647.6L518.7 647.6L519.3 647.7L519.9 647.7L520.5 647.7L521.1 647.7L521.6 647.7L522.2 647.7L522.8 647.7L523.4 647.7L524.0 647.6L524.6 647.6L525.2 647.6L525.8 647.5L526.4 647.5L527.0 647.4L527.6 647.4L528.1 647.3L528.7 647.2L529.3 647.2L529.9 647.1L530.5 647.0L531.1 646.9L531.7 646.8L532.3 646.7L532.9 646.6L533.5 646.5L534.1 646.4L534.7 646.3L535.2 646.1L535.8 646.0L536.4 645.8L537.0 645.7L537.6 645.5L538.2 645.3L538.8 645.0L539.4 644.7L540.0 644.4L540.6 644.1L541.3 643.7L541.9 643.3L542.5 642.9L543.1 642.5L543.7 642.1L544.3 641.7L544.9 641.3L545.4 640.8L545.9 640.4L546.4 640.0L546.8 639.5L547.2 639.0L547.6 638.6L548.0 638.1L548.3 637.6L548.7 637.1L549.0 636.6L549.3 636.1L549.6 635.7L549.9 635.2L550.2 634.7L550.5 634.2L550.8 633.8L551.0 633.3L551.3 632.9L551.5 632.4L551.7 632.0L552.0 631.5L552.2 631.1L552.4 630.6L552.6 630.1L552.8 629.6L553.0 629.1L553.2 628.6L553.4 628.0L553.6 627.4L553.8 626.8L554.0 626.1L554.2 625.5L554.4 624.9L554.6 624.2L554.7 623.6L554.9 623.0L555.1 622.4L555.2 621.9L555.3 621.4L555.4 620.8L555.5 620.3L555.6 619.8L555.7 619.3L555.8 618.8L555.9 618.3L555.9 617.8L556.0 617.4L556.1 617.0L556.2 616.6L556.3 616.3L556.4 616.0L556.6 615.7L556.7 615.5L556.9 615.3L557.1 615.1L557.2 614.9L557.4 614.7L557.5 614.6L557.7 614.5L557.8 614.4L557.9 614.3L558.0 614.2L560.1 619.1L562.3 633.3L564.4 644.7L565.8 649.0L567.6 651.8L570.0 652.6L584.6 652.6L587.0 651.8L588.8 649.0L590.2 644.7L592.3 633.3L594.5 619.1L596.6 614.2L596.7 614.3L596.8 614.4L596.9 614.5L597.1 614.6L597.2 614.7L597.4 614.9L597.5 615.1L597.7 615.3L597.9 615.5L598.0 615.7L598.2 616.0L598.3 616.3L598.4 616.6L598.5 617.0L598.6 617.4L598.7 617.8L598.7 618.3L598.8 618.8L598.9 619.3L599.0 619.8L599.1 620.3L599.2 620.8L599.3 621.4L599.4 621.9L599.5 622.4L599.7 623.0L599.9 623.6L600.0 624.2L600.2 624.9L600.4 625.5L600.6 626.1L600.8 626.8L601.0 627.4L601.2 628.0L601.4 628.6L601.6 629.1L601.8 629.6L602.0 630.1L602.2 630.6L602.4 631.1L602.6 631.5L602.9 632.0L603.1 632.4L603.3 632.9L603.6 633.3L603.8 633.8L604.1 634.2L604.4 634.7L604.7 635.2L605.0 635.7L605.3 636.1L605.6 636.6L605.9 637.1L606.3 637.6L606.6 638.1L607.0 638.6L607.4 639.0L607.8 639.5L608.2 640.0L608.7 640.4L609.2 640.8L609.7 641.3L610.3 641.7L610.9 642.1L611.5 642.5L612.1 642.9L612.7 643.3L613.3 643.7L614.0 644.1L614.6 644.4L615.2 644.7L615.8 645.0L616.4 645.3L617.0 645.5L617.6 645.7L618.2 645.8L618.8 646.0L619.3 646.1L619.9 646.3L620.5 646.4L621.1 646.5L621.7 646.6L622.3 646.7L622.9 646.8L623.5 646.9L624.1 647.0L624.7 647.1L625.3 647.2L625.9 647.2L626.4 647.3L627.0 647.4L627.6 647.4L628.2 647.5L628.8 647.5L629.4 647.6L630.0 647.6L630.6 647.6L631.2 647.7L631.8 647.7L632.4 647.7L633.0 647.7L633.5 647.7L634.1 647.7L634.7 647.7L635.3 647.7L635.9 647.6L636.5 647.6L637.1 647.6L637.7 647.6L638.3 647.5L638.9 647.5L639.5 647.5L640.1 647.4L640.7 647.4L641.3 647.3L641.9 647.3L642.5 647.2L643.1 647.2L643.7 647.1L644.3 647.1L644.9 647.1L645.5 647.0L646.1 647.0L646.7 646.9L647.3 646.9L647.9 646.9L648.4 646.8L649.0 646.8L649.6 646.7L650.2 646.7L650.8 646.6L651.4 646.6L652.0 646.6L652.6 646.5L653.2 646.5L653.8 646.4L654.4 646.4L654.9 646.4L655.5 646.3L656.1 646.3L656.7 646.2L657.3 646.2L657.9 646.1L658.5 646.1L659.1 646.1L659.7 646.0L660.3 646.0L660.9 646.0L661.5 645.9L662.0 645.9L662.6 645.9L663.2 645.8L663.8 645.8L664.4 645.7L665.0 645.7L665.6 645.6L666.2 645.5L666.8 645.4L667.4 645.4L668.0 645.3L668.6 645.2L669.1 645.1L669.7 645.0L670.3 644.9L670.9 644.8L671.5 644.6L672.1 644.5L672.7 644.4L673.3 644.3L673.9 644.1L674.5 644.0L675.1 643.9L675.7 643.7L676.2 643.6L676.8 643.5L677.4 643.3L678.0 643.1L678.6 643.0L679.2 642.8L679.8 642.6L680.4 642.4L681.0 642.2L681.6 642.0L682.2 641.8L682.8 641.5L683.3 641.3L683.9 641.1L684.5 640.8L685.1 640.5L685.7 640.3L686.3 640.0L686.9 639.7L687.5 639.4L688.1 639.1L688.7 638.8L689.3 638.5L689.9 638.2L690.4 637.9L691.0 637.5L691.6 637.2L692.2 636.8L692.8 636.4L693.4 636.0L694.0 635.5L694.6 635.0L695.2 634.4L695.9 633.9L696.5 633.2L697.2 632.6L697.8 631.9L698.5 631.3L699.1 630.6L699.7 630.0L700.2 629.4L700.7 628.8L701.2 628.3L701.6 627.8L702.0 627.4L702.3 627.0L702.6 626.6L702.9 626.2L703.2 625.9L703.4 625.5L703.7 625.2L703.9 624.8L704.2 624.4L704.4 623.9L704.7 623.4L705.0 622.9L705.3 622.3L705.6 621.8L705.9 621.2L706.2 620.7L706.5 620.0L706.8 619.4L707.1 618.7L707.4 618.0L707.7 617.2L708.0 616.4L708.8 615.7L711.0 614.0L713.1 617.5L716.6 626.0L720.4 634.5L720.4 718.0Z" fill="#22bdf0"/>
<defs>
<clipPath id="dclip"><path d="M434.2 458.0L434.2 541.5L438.0 550.0L441.5 558.5L443.6 562.0L445.8 560.3L446.6 559.6L446.9 558.8L447.2 558.0L447.5 557.3L447.8 556.6L448.1 556.0L448.4 555.3L448.7 554.8L449.0 554.2L449.3 553.7L449.6 553.1L449.9 552.6L450.2 552.1L450.4 551.6L450.7 551.2L450.9 550.8L451.2 550.5L451.4 550.1L451.7 549.8L452.0 549.4L452.3 549.0L452.6 548.6L453.0 548.2L453.4 547.7L453.9 547.2L454.4 546.6L454.9 546.0L455.5 545.4L456.1 544.7L456.8 544.1L457.4 543.4L458.1 542.8L458.7 542.1L459.4 541.6L460.0 541.0L460.6 540.5L461.2 540.0L461.8 539.6L462.4 539.2L463.0 538.8L463.6 538.5L464.2 538.1L464.7 537.8L465.3 537.5L465.9 537.2L466.5 536.9L467.1 536.6L467.7 536.3L468.3 536.0L468.9 535.7L469.5 535.5L470.1 535.2L470.7 534.9L471.2 534.7L471.8 534.5L472.4 534.2L473.0 534.0L473.6 533.8L474.2 533.6L474.8 533.4L475.4 533.2L476.0 533.0L476.6 532.9L477.2 532.7L477.8 532.5L478.3 532.4L478.9 532.3L479.5 532.1L480.1 532.0L480.7 531.9L481.3 531.7L481.9 531.6L482.5 531.5L483.1 531.4L483.7 531.2L484.3 531.1L484.9 531.0L485.4 530.9L486.0 530.8L486.6 530.7L487.2 530.6L487.8 530.6L488.4 530.5L489.0 530.4L489.6 530.3L490.2 530.3L490.8 530.2L491.4 530.2L492.0 530.1L492.6 530.1L493.1 530.1L493.7 530.0L494.3 530.0L494.9 530.0L495.5 529.9L496.1 529.9L496.7 529.9L497.3 529.8L497.9 529.8L498.5 529.7L499.1 529.7L499.6 529.6L500.2 529.6L500.8 529.6L501.4 529.5L502.0 529.5L502.6 529.4L503.2 529.4L503.8 529.4L504.4 529.3L505.0 529.3L505.6 529.2L506.2 529.2L506.7 529.1L507.3 529.1L507.9 529.1L508.5 529.0L509.1 529.0L509.7 528.9L510.3 528.9L510.9 528.9L511.5 528.8L512.1 528.8L512.7 528.7L513.3 528.7L513.9 528.6L514.5 528.6L515.1 528.5L515.7 528.5L516.3 528.5L516.9 528.4L517.5 528.4L518.1 528.4L518.7 528.4L519.3 528.3L519.9 528.3L520.5 528.3L521.1 528.3L521.6 528.3L522.2 528.3L522.8 528.3L523.4 528.3L524.0 528.4L524.6 528.4L525.2 528.4L525.8 528.5L526.4 528.5L527.0 528.6L527.6 528.6L528.1 528.7L528.7 528.8L529.3 528.8L529.9 528.9L530.5 529.0L531.1 529.1L531.7 529.2L532.3 529.3L532.9 529.4L533.5 529.5L534.1 529.6L534.7 529.7L535.2 529.9L535.8 530.0L536.4 530.2L537.0 530.3L537.6 530.5L538.2 530.7L538.8 531.0L539.4 531.3L540.0 531.6L540.6 531.9L541.3 532.3L541.9 532.7L542.5 533.1L543.1 533.5L543.7 533.9L544.3 534.3L544.9 534.7L545.4 535.2L545.9 535.6L546.4 536.0L546.8 536.5L547.2 537.0L547.6 537.4L548.0 537.9L548.3 538.4L548.7 538.9L549.0 539.4L549.3 539.9L549.6 540.3L549.9 540.8L550.2 541.3L550.5 541.8L550.8 542.2L551.0 542.7L551.3 543.1L551.5 543.6L551.7 544.0L552.0 544.5L552.2 544.9L552.4 545.4L552.6 545.9L552.8 546.4L553.0 546.9L553.2 547.4L553.4 548.0L553.6 548.6L553.8 549.2L554.0 549.9L554.2 550.5L554.4 551.1L554.6 551.8L554.7 552.4L554.9 553.0L555.1 553.6L555.2 554.1L555.3 554.6L555.4 555.2L555.5 555.7L555.6 556.2L555.7 556.7L555.8 557.2L555.9 557.7L555.9 558.2L556.0 558.6L556.1 559.0L556.2 559.4L556.3 559.7L556.4 560.0L556.6 560.3L556.7 560.5L556.9 560.7L557.1 560.9L557.2 561.1L557.4 561.3L557.5 561.4L557.7 561.5L557.8 561.6L557.9 561.7L558.0 561.8L560.1 556.9L562.3 542.7L564.4 531.3L565.8 527.0L567.6 524.2L570.0 523.4L584.6 523.4L587.0 524.2L588.8 527.0L590.2 531.3L592.3 542.7L594.5 556.9L596.6 561.8L596.7 561.7L596.8 561.6L596.9 561.5L597.1 561.4L597.2 561.3L597.4 561.1L597.5 560.9L597.7 560.7L597.9 560.5L598.0 560.3L598.2 560.0L598.3 559.7L598.4 559.4L598.5 559.0L598.6 558.6L598.7 558.2L598.7 557.7L598.8 557.2L598.9 556.7L599.0 556.2L599.1 555.7L599.2 555.2L599.3 554.6L599.4 554.1L599.5 553.6L599.7 553.0L599.9 552.4L600.0 551.8L600.2 551.1L600.4 550.5L600.6 549.9L600.8 549.2L601.0 548.6L601.2 548.0L601.4 547.4L601.6 546.9L601.8 546.4L602.0 545.9L602.2 545.4L602.4 544.9L602.6 544.5L602.9 544.0L603.1 543.6L603.3 543.1L603.6 542.7L603.8 542.2L604.1 541.8L604.4 541.3L604.7 540.8L605.0 540.3L605.3 539.9L605.6 539.4L605.9 538.9L606.3 538.4L606.6 537.9L607.0 537.4L607.4 537.0L607.8 536.5L608.2 536.0L608.7 535.6L609.2 535.2L609.7 534.7L610.3 534.3L610.9 533.9L611.5 533.5L612.1 533.1L612.7 532.7L613.3 532.3L614.0 531.9L614.6 531.6L615.2 531.3L615.8 531.0L616.4 530.7L617.0 530.5L617.6 530.3L618.2 530.2L618.8 530.0L619.3 529.9L619.9 529.7L620.5 529.6L621.1 529.5L621.7 529.4L622.3 529.3L622.9 529.2L623.5 529.1L624.1 529.0L624.7 528.9L625.3 528.8L625.9 528.8L626.4 528.7L627.0 528.6L627.6 528.6L628.2 528.5L628.8 528.5L629.4 528.4L630.0 528.4L630.6 528.4L631.2 528.3L631.8 528.3L632.4 528.3L633.0 528.3L633.5 528.3L634.1 528.3L634.7 528.3L635.3 528.3L635.9 528.4L636.5 528.4L637.1 528.4L637.7 528.4L638.3 528.5L638.9 528.5L639.5 528.5L640.1 528.6L640.7 528.6L641.3 528.7L641.9 528.7L642.5 528.8L643.1 528.8L643.7 528.9L644.3 528.9L644.9 528.9L645.5 529.0L646.1 529.0L646.7 529.1L647.3 529.1L647.9 529.1L648.4 529.2L649.0 529.2L649.6 529.3L650.2 529.3L650.8 529.4L651.4 529.4L652.0 529.4L652.6 529.5L653.2 529.5L653.8 529.6L654.4 529.6L654.9 529.6L655.5 529.7L656.1 529.7L656.7 529.8L657.3 529.8L657.9 529.9L658.5 529.9L659.1 529.9L659.7 530.0L660.3 530.0L660.9 530.0L661.5 530.1L662.0 530.1L662.6 530.1L663.2 530.2L663.8 530.2L664.4 530.3L665.0 530.3L665.6 530.4L666.2 530.5L666.8 530.6L667.4 530.6L668.0 530.7L668.6 530.8L669.1 530.9L669.7 531.0L670.3 531.1L670.9 531.2L671.5 531.4L672.1 531.5L672.7 531.6L673.3 531.7L673.9 531.9L674.5 532.0L675.1 532.1L675.7 532.3L676.2 532.4L676.8 532.5L677.4 532.7L678.0 532.9L678.6 533.0L679.2 533.2L679.8 533.4L680.4 533.6L681.0 533.8L681.6 534.0L682.2 534.2L682.8 534.5L683.3 534.7L683.9 534.9L684.5 535.2L685.1 535.5L685.7 535.7L686.3 536.0L686.9 536.3L687.5 536.6L688.1 536.9L688.7 537.2L689.3 537.5L689.9 537.8L690.4 538.1L691.0 538.5L691.6 538.8L692.2 539.2L692.8 539.6L693.4 540.0L694.0 540.5L694.6 541.0L695.2 541.6L695.9 542.1L696.5 542.8L697.2 543.4L697.8 544.1L698.5 544.7L699.1 545.4L699.7 546.0L700.2 546.6L700.7 547.2L701.2 547.7L701.6 548.2L702.0 548.6L702.3 549.0L702.6 549.4L702.9 549.8L703.2 550.1L703.4 550.5L703.7 550.8L703.9 551.2L704.2 551.6L704.4 552.1L704.7 552.6L705.0 553.1L705.3 553.7L705.6 554.2L705.9 554.8L706.2 555.3L706.5 556.0L706.8 556.6L707.1 557.3L707.4 558.0L707.7 558.8L708.0 559.6L708.8 560.3L711.0 562.0L713.1 558.5L716.6 550.0L720.4 541.5L720.4 458.0Z"/><path d="M434.2 718.0L434.2 634.5L438.0 626.0L441.5 617.5L443.6 614.0L445.8 615.7L446.6 616.4L446.9 617.2L447.2 618.0L447.5 618.7L447.8 619.4L448.1 620.0L448.4 620.7L448.7 621.2L449.0 621.8L449.3 622.3L449.6 622.9L449.9 623.4L450.2 623.9L450.4 624.4L450.7 624.8L450.9 625.2L451.2 625.5L451.4 625.9L451.7 626.2L452.0 626.6L452.3 627.0L452.6 627.4L453.0 627.8L453.4 628.3L453.9 628.8L454.4 629.4L454.9 630.0L455.5 630.6L456.1 631.3L456.8 631.9L457.4 632.6L458.1 633.2L458.7 633.9L459.4 634.4L460.0 635.0L460.6 635.5L461.2 636.0L461.8 636.4L462.4 636.8L463.0 637.2L463.6 637.5L464.2 637.9L464.7 638.2L465.3 638.5L465.9 638.8L466.5 639.1L467.1 639.4L467.7 639.7L468.3 640.0L468.9 640.3L469.5 640.5L470.1 640.8L470.7 641.1L471.2 641.3L471.8 641.5L472.4 641.8L473.0 642.0L473.6 642.2L474.2 642.4L474.8 642.6L475.4 642.8L476.0 643.0L476.6 643.1L477.2 643.3L477.8 643.5L478.3 643.6L478.9 643.7L479.5 643.9L480.1 644.0L480.7 644.1L481.3 644.3L481.9 644.4L482.5 644.5L483.1 644.6L483.7 644.8L484.3 644.9L484.9 645.0L485.4 645.1L486.0 645.2L486.6 645.3L487.2 645.4L487.8 645.4L488.4 645.5L489.0 645.6L489.6 645.7L490.2 645.7L490.8 645.8L491.4 645.8L492.0 645.9L492.6 645.9L493.1 645.9L493.7 646.0L494.3 646.0L494.9 646.0L495.5 646.1L496.1 646.1L496.7 646.1L497.3 646.2L497.9 646.2L498.5 646.3L499.1 646.3L499.6 646.4L500.2 646.4L500.8 646.4L501.4 646.5L502.0 646.5L502.6 646.6L503.2 646.6L503.8 646.6L504.4 646.7L505.0 646.7L505.6 646.8L506.2 646.8L506.7 646.9L507.3 646.9L507.9 646.9L508.5 647.0L509.1 647.0L509.7 647.1L510.3 647.1L510.9 647.1L511.5 647.2L512.1 647.2L512.7 647.3L513.3 647.3L513.9 647.4L514.5 647.4L515.1 647.5L515.7 647.5L516.3 647.5L516.9 647.6L517.5 647.6L518.1 647.6L518.7 647.6L519.3 647.7L519.9 647.7L520.5 647.7L521.1 647.7L521.6 647.7L522.2 647.7L522.8 647.7L523.4 647.7L524.0 647.6L524.6 647.6L525.2 647.6L525.8 647.5L526.4 647.5L527.0 647.4L527.6 647.4L528.1 647.3L528.7 647.2L529.3 647.2L529.9 647.1L530.5 647.0L531.1 646.9L531.7 646.8L532.3 646.7L532.9 646.6L533.5 646.5L534.1 646.4L534.7 646.3L535.2 646.1L535.8 646.0L536.4 645.8L537.0 645.7L537.6 645.5L538.2 645.3L538.8 645.0L539.4 644.7L540.0 644.4L540.6 644.1L541.3 643.7L541.9 643.3L542.5 642.9L543.1 642.5L543.7 642.1L544.3 641.7L544.9 641.3L545.4 640.8L545.9 640.4L546.4 640.0L546.8 639.5L547.2 639.0L547.6 638.6L548.0 638.1L548.3 637.6L548.7 637.1L549.0 636.6L549.3 636.1L549.6 635.7L549.9 635.2L550.2 634.7L550.5 634.2L550.8 633.8L551.0 633.3L551.3 632.9L551.5 632.4L551.7 632.0L552.0 631.5L552.2 631.1L552.4 630.6L552.6 630.1L552.8 629.6L553.0 629.1L553.2 628.6L553.4 628.0L553.6 627.4L553.8 626.8L554.0 626.1L554.2 625.5L554.4 624.9L554.6 624.2L554.7 623.6L554.9 623.0L555.1 622.4L555.2 621.9L555.3 621.4L555.4 620.8L555.5 620.3L555.6 619.8L555.7 619.3L555.8 618.8L555.9 618.3L555.9 617.8L556.0 617.4L556.1 617.0L556.2 616.6L556.3 616.3L556.4 616.0L556.6 615.7L556.7 615.5L556.9 615.3L557.1 615.1L557.2 614.9L557.4 614.7L557.5 614.6L557.7 614.5L557.8 614.4L557.9 614.3L558.0 614.2L560.1 619.1L562.3 633.3L564.4 644.7L565.8 649.0L567.6 651.8L570.0 652.6L584.6 652.6L587.0 651.8L588.8 649.0L590.2 644.7L592.3 633.3L594.5 619.1L596.6 614.2L596.7 614.3L596.8 614.4L596.9 614.5L597.1 614.6L597.2 614.7L597.4 614.9L597.5 615.1L597.7 615.3L597.9 615.5L598.0 615.7L598.2 616.0L598.3 616.3L598.4 616.6L598.5 617.0L598.6 617.4L598.7 617.8L598.7 618.3L598.8 618.8L598.9 619.3L599.0 619.8L599.1 620.3L599.2 620.8L599.3 621.4L599.4 621.9L599.5 622.4L599.7 623.0L599.9 623.6L600.0 624.2L600.2 624.9L600.4 625.5L600.6 626.1L600.8 626.8L601.0 627.4L601.2 628.0L601.4 628.6L601.6 629.1L601.8 629.6L602.0 630.1L602.2 630.6L602.4 631.1L602.6 631.5L602.9 632.0L603.1 632.4L603.3 632.9L603.6 633.3L603.8 633.8L604.1 634.2L604.4 634.7L604.7 635.2L605.0 635.7L605.3 636.1L605.6 636.6L605.9 637.1L606.3 637.6L606.6 638.1L607.0 638.6L607.4 639.0L607.8 639.5L608.2 640.0L608.7 640.4L609.2 640.8L609.7 641.3L610.3 641.7L610.9 642.1L611.5 642.5L612.1 642.9L612.7 643.3L613.3 643.7L614.0 644.1L614.6 644.4L615.2 644.7L615.8 645.0L616.4 645.3L617.0 645.5L617.6 645.7L618.2 645.8L618.8 646.0L619.3 646.1L619.9 646.3L620.5 646.4L621.1 646.5L621.7 646.6L622.3 646.7L622.9 646.8L623.5 646.9L624.1 647.0L624.7 647.1L625.3 647.2L625.9 647.2L626.4 647.3L627.0 647.4L627.6 647.4L628.2 647.5L628.8 647.5L629.4 647.6L630.0 647.6L630.6 647.6L631.2 647.7L631.8 647.7L632.4 647.7L633.0 647.7L633.5 647.7L634.1 647.7L634.7 647.7L635.3 647.7L635.9 647.6L636.5 647.6L637.1 647.6L637.7 647.6L638.3 647.5L638.9 647.5L639.5 647.5L640.1 647.4L640.7 647.4L641.3 647.3L641.9 647.3L642.5 647.2L643.1 647.2L643.7 647.1L644.3 647.1L644.9 647.1L645.5 647.0L646.1 647.0L646.7 646.9L647.3 646.9L647.9 646.9L648.4 646.8L649.0 646.8L649.6 646.7L650.2 646.7L650.8 646.6L651.4 646.6L652.0 646.6L652.6 646.5L653.2 646.5L653.8 646.4L654.4 646.4L654.9 646.4L655.5 646.3L656.1 646.3L656.7 646.2L657.3 646.2L657.9 646.1L658.5 646.1L659.1 646.1L659.7 646.0L660.3 646.0L660.9 646.0L661.5 645.9L662.0 645.9L662.6 645.9L663.2 645.8L663.8 645.8L664.4 645.7L665.0 645.7L665.6 645.6L666.2 645.5L666.8 645.4L667.4 645.4L668.0 645.3L668.6 645.2L669.1 645.1L669.7 645.0L670.3 644.9L670.9 644.8L671.5 644.6L672.1 644.5L672.7 644.4L673.3 644.3L673.9 644.1L674.5 644.0L675.1 643.9L675.7 643.7L676.2 643.6L676.8 643.5L677.4 643.3L678.0 643.1L678.6 643.0L679.2 642.8L679.8 642.6L680.4 642.4L681.0 642.2L681.6 642.0L682.2 641.8L682.8 641.5L683.3 641.3L683.9 641.1L684.5 640.8L685.1 640.5L685.7 640.3L686.3 640.0L686.9 639.7L687.5 639.4L688.1 639.1L688.7 638.8L689.3 638.5L689.9 638.2L690.4 637.9L691.0 637.5L691.6 637.2L692.2 636.8L692.8 636.4L693.4 636.0L694.0 635.5L694.6 635.0L695.2 634.4L695.9 633.9L696.5 633.2L697.2 632.6L697.8 631.9L698.5 631.3L699.1 630.6L699.7 630.0L700.2 629.4L700.7 628.8L701.2 628.3L701.6 627.8L702.0 627.4L702.3 627.0L702.6 626.6L702.9 626.2L703.2 625.9L703.4 625.5L703.7 625.2L703.9 624.8L704.2 624.4L704.4 623.9L704.7 623.4L705.0 622.9L705.3 622.3L705.6 621.8L705.9 621.2L706.2 620.7L706.5 620.0L706.8 619.4L707.1 618.7L707.4 618.0L707.7 617.2L708.0 616.4L708.8 615.7L711.0 614.0L713.1 617.5L716.6 626.0L720.4 634.5L720.4 718.0Z"/></clipPath>
<linearGradient id="dg1" x1="0" x2="1" y1="0" y2="0"><stop offset="0" stop-color="#fff" stop-opacity="0"/><stop offset="0.35" stop-color="#fff" stop-opacity="0.22"/><stop offset="0.65" stop-color="#fff" stop-opacity="0.22"/><stop offset="1" stop-color="#fff" stop-opacity="0"/></linearGradient>
</defs>
<linearGradient id="dgl" gradientUnits="userSpaceOnUse" x1="450.0" y1="0" x2="512.0" y2="0"><stop offset="0" stop-color="#fff" stop-opacity="0"/><stop offset="0.4" stop-color="#fff" stop-opacity="0.22"/><stop offset="1" stop-color="#fff" stop-opacity="0.3"/></linearGradient>
<linearGradient id="dgr" gradientUnits="userSpaceOnUse" x1="704.6" y1="0" x2="642.6" y2="0"><stop offset="0" stop-color="#fff" stop-opacity="0"/><stop offset="0.4" stop-color="#fff" stop-opacity="0.22"/><stop offset="1" stop-color="#fff" stop-opacity="0.3"/></linearGradient>
<g clip-path="url(#dclip)">
<path d="M450.0 458.0L506.8 458.0L511.5 540.0L450.0 575.0Z" fill="url(#dgl)"/>
<path d="M478.6 459.6L480.6 460.6L482.6 461.5L484.6 462.2L486.6 462.8L488.6 463.2L490.6 463.4L492.6 463.5L494.6 463.4L496.6 463.2L498.6 462.8L500.6 462.2L502.6 461.5L504.6 460.6L506.6 459.6M478.6 463.9L480.6 464.9L482.6 465.8L484.6 466.5L486.6 467.1L488.6 467.5L490.6 467.7L492.6 467.8L494.6 467.7L496.6 467.5L498.6 467.1L500.6 466.5L502.6 465.8L504.6 464.9L506.6 463.9M478.6 468.2L480.6 469.2L482.6 470.1L484.6 470.8L486.6 471.4L488.6 471.8L490.6 472.0L492.6 472.1L494.6 472.0L496.6 471.8L498.6 471.4L500.6 470.8L502.6 470.1L504.6 469.2L506.6 468.2M478.6 472.5L480.6 473.5L482.6 474.4L484.6 475.1L486.6 475.7L488.6 476.1L490.6 476.3L492.6 476.4L494.6 476.3L496.6 476.1L498.6 475.7L500.6 475.1L502.6 474.4L504.6 473.5L506.6 472.5M478.6 476.8L480.6 477.8L482.6 478.7L484.6 479.4L486.6 480.0L488.6 480.4L490.6 480.6L492.6 480.7L494.6 480.6L496.6 480.4L498.6 480.0L500.6 479.4L502.6 478.7L504.6 477.8L506.6 476.8M478.6 481.1L480.6 482.1L482.6 483.0L484.6 483.7L486.6 484.3L488.6 484.7L490.6 484.9L492.6 485.0L494.6 484.9L496.6 484.7L498.6 484.3L500.6 483.7L502.6 483.0L504.6 482.1L506.6 481.1M478.6 485.4L480.6 486.4L482.6 487.3L484.6 488.0L486.6 488.6L488.6 489.0L490.6 489.2L492.6 489.3L494.6 489.2L496.6 489.0L498.6 488.6L500.6 488.0L502.6 487.3L504.6 486.4L506.6 485.4M478.6 489.7L480.6 490.7L482.6 491.6L484.6 492.3L486.6 492.9L488.6 493.3L490.6 493.5L492.6 493.6L494.6 493.5L496.6 493.3L498.6 492.9L500.6 492.3L502.6 491.6L504.6 490.7L506.6 489.7M478.6 494.0L480.6 495.0L482.6 495.9L484.6 496.6L486.6 497.2L488.6 497.6L490.6 497.8L492.6 497.9L494.6 497.8L496.6 497.6L498.6 497.2L500.6 496.6L502.6 495.9L504.6 495.0L506.6 494.0M478.6 498.3L480.6 499.3L482.6 500.2L484.6 500.9L486.6 501.5L488.6 501.9L490.6 502.1L492.6 502.2L494.6 502.1L496.6 501.9L498.6 501.5L500.6 500.9L502.6 500.2L504.6 499.3L506.6 498.3M478.6 502.6L480.6 503.6L482.6 504.5L484.6 505.2L486.6 505.8L488.6 506.2L490.6 506.4L492.6 506.5L494.6 506.4L496.6 506.2L498.6 505.8L500.6 505.2L502.6 504.5L504.6 503.6L506.6 502.6M478.6 506.9L480.6 507.9L482.6 508.8L484.6 509.5L486.6 510.1L488.6 510.5L490.6 510.7L492.6 510.8L494.6 510.7L496.6 510.5L498.6 510.1L500.6 509.5L502.6 508.8L504.6 507.9L506.6 506.9M478.6 511.2L480.6 512.2L482.6 513.1L484.6 513.8L486.6 514.4L488.6 514.8L490.6 515.0L492.6 515.1L494.6 515.0L496.6 514.8L498.6 514.4L500.6 513.8L502.6 513.1L504.6 512.2L506.6 511.2M478.6 515.5L480.6 516.5L482.6 517.4L484.6 518.1L486.6 518.7L488.6 519.1L490.6 519.3L492.6 519.4L494.6 519.3L496.6 519.1L498.6 518.7L500.6 518.1L502.6 517.4L504.6 516.5L506.6 515.5M478.6 519.8L480.6 520.8L482.6 521.7L484.6 522.4L486.6 523.0L488.6 523.4L490.6 523.6L492.6 523.7L494.6 523.6L496.6 523.4L498.6 523.0L500.6 522.4L502.6 521.7L504.6 520.8L506.6 519.8M478.6 524.1L480.6 525.1L482.6 526.0L484.6 526.7L486.6 527.3L488.6 527.7L490.6 527.9L492.6 528.0L494.6 527.9L496.6 527.7L498.6 527.3L500.6 526.7L502.6 526.0L504.6 525.1L506.6 524.1M478.6 528.4L480.6 529.4L482.6 530.3L484.6 531.0L486.6 531.6L488.6 532.0L490.6 532.2L492.6 532.3L494.6 532.2L496.6 532.0L498.6 531.6L500.6 531.0L502.6 530.3L504.6 529.4L506.6 528.4M478.6 532.7L480.6 533.7L482.6 534.6L484.6 535.3L486.6 535.9L488.6 536.3L490.6 536.5L492.6 536.6L494.6 536.5L496.6 536.3L498.6 535.9L500.6 535.3L502.6 534.6L504.6 533.7L506.6 532.7M478.6 537.0L480.6 538.0L482.6 538.9L484.6 539.6L486.6 540.2L488.6 540.6L490.6 540.8L492.6 540.9L494.6 540.8L496.6 540.6L498.6 540.2L500.6 539.6L502.6 538.9L504.6 538.0L506.6 537.0" stroke="#fff" stroke-opacity="0.3" stroke-width="1.7" fill="none"/>
<rect x="529.8" y="458.0" width="5.2" height="72.0" fill="#fff" fill-opacity="0.2"/>
<path d="M450.0 718.0L506.8 718.0L511.5 636.0L450.0 601.0Z" fill="url(#dgl)"/>
<path d="M478.6 716.4L480.6 715.4L482.6 714.5L484.6 713.8L486.6 713.2L488.6 712.8L490.6 712.6L492.6 712.5L494.6 712.6L496.6 712.8L498.6 713.2L500.6 713.8L502.6 714.5L504.6 715.4L506.6 716.4M478.6 712.1L480.6 711.1L482.6 710.2L484.6 709.5L486.6 708.9L488.6 708.5L490.6 708.3L492.6 708.2L494.6 708.3L496.6 708.5L498.6 708.9L500.6 709.5L502.6 710.2L504.6 711.1L506.6 712.1M478.6 707.8L480.6 706.8L482.6 705.9L484.6 705.2L486.6 704.6L488.6 704.2L490.6 704.0L492.6 703.9L494.6 704.0L496.6 704.2L498.6 704.6L500.6 705.2L502.6 705.9L504.6 706.8L506.6 707.8M478.6 703.5L480.6 702.5L482.6 701.6L484.6 700.9L486.6 700.3L488.6 699.9L490.6 699.7L492.6 699.6L494.6 699.7L496.6 699.9L498.6 700.3L500.6 700.9L502.6 701.6L504.6 702.5L506.6 703.5M478.6 699.2L480.6 698.2L482.6 697.3L484.6 696.6L486.6 696.0L488.6 695.6L490.6 695.4L492.6 695.3L494.6 695.4L496.6 695.6L498.6 696.0L500.6 696.6L502.6 697.3L504.6 698.2L506.6 699.2M478.6 694.9L480.6 693.9L482.6 693.0L484.6 692.3L486.6 691.7L488.6 691.3L490.6 691.1L492.6 691.0L494.6 691.1L496.6 691.3L498.6 691.7L500.6 692.3L502.6 693.0L504.6 693.9L506.6 694.9M478.6 690.6L480.6 689.6L482.6 688.7L484.6 688.0L486.6 687.4L488.6 687.0L490.6 686.8L492.6 686.7L494.6 686.8L496.6 687.0L498.6 687.4L500.6 688.0L502.6 688.7L504.6 689.6L506.6 690.6M478.6 686.3L480.6 685.3L482.6 684.4L484.6 683.7L486.6 683.1L488.6 682.7L490.6 682.5L492.6 682.4L494.6 682.5L496.6 682.7L498.6 683.1L500.6 683.7L502.6 684.4L504.6 685.3L506.6 686.3M478.6 682.0L480.6 681.0L482.6 680.1L484.6 679.4L486.6 678.8L488.6 678.4L490.6 678.2L492.6 678.1L494.6 678.2L496.6 678.4L498.6 678.8L500.6 679.4L502.6 680.1L504.6 681.0L506.6 682.0M478.6 677.7L480.6 676.7L482.6 675.8L484.6 675.1L486.6 674.5L488.6 674.1L490.6 673.9L492.6 673.8L494.6 673.9L496.6 674.1L498.6 674.5L500.6 675.1L502.6 675.8L504.6 676.7L506.6 677.7M478.6 673.4L480.6 672.4L482.6 671.5L484.6 670.8L486.6 670.2L488.6 669.8L490.6 669.6L492.6 669.5L494.6 669.6L496.6 669.8L498.6 670.2L500.6 670.8L502.6 671.5L504.6 672.4L506.6 673.4M478.6 669.1L480.6 668.1L482.6 667.2L484.6 666.5L486.6 665.9L488.6 665.5L490.6 665.3L492.6 665.2L494.6 665.3L496.6 665.5L498.6 665.9L500.6 666.5L502.6 667.2L504.6 668.1L506.6 669.1M478.6 664.8L480.6 663.8L482.6 662.9L484.6 662.2L486.6 661.6L488.6 661.2L490.6 661.0L492.6 660.9L494.6 661.0L496.6 661.2L498.6 661.6L500.6 662.2L502.6 662.9L504.6 663.8L506.6 664.8M478.6 660.5L480.6 659.5L482.6 658.6L484.6 657.9L486.6 657.3L488.6 656.9L490.6 656.7L492.6 656.6L494.6 656.7L496.6 656.9L498.6 657.3L500.6 657.9L502.6 658.6L504.6 659.5L506.6 660.5M478.6 656.2L480.6 655.2L482.6 654.3L484.6 653.6L486.6 653.0L488.6 652.6L490.6 652.4L492.6 652.3L494.6 652.4L496.6 652.6L498.6 653.0L500.6 653.6L502.6 654.3L504.6 655.2L506.6 656.2M478.6 651.9L480.6 650.9L482.6 650.0L484.6 649.3L486.6 648.7L488.6 648.3L490.6 648.1L492.6 648.0L494.6 648.1L496.6 648.3L498.6 648.7L500.6 649.3L502.6 650.0L504.6 650.9L506.6 651.9M478.6 647.6L480.6 646.6L482.6 645.7L484.6 645.0L486.6 644.4L488.6 644.0L490.6 643.8L492.6 643.7L494.6 643.8L496.6 644.0L498.6 644.4L500.6 645.0L502.6 645.7L504.6 646.6L506.6 647.6M478.6 643.3L480.6 642.3L482.6 641.4L484.6 640.7L486.6 640.1L488.6 639.7L490.6 639.5L492.6 639.4L494.6 639.5L496.6 639.7L498.6 640.1L500.6 640.7L502.6 641.4L504.6 642.3L506.6 643.3M478.6 639.0L480.6 638.0L482.6 637.1L484.6 636.4L486.6 635.8L488.6 635.4L490.6 635.2L492.6 635.1L494.6 635.2L496.6 635.4L498.6 635.8L500.6 636.4L502.6 637.1L504.6 638.0L506.6 639.0" stroke="#fff" stroke-opacity="0.3" stroke-width="1.7" fill="none"/>
<rect x="529.8" y="646.0" width="5.2" height="72.0" fill="#fff" fill-opacity="0.2"/>
<path d="M704.6 458.0L647.8 458.0L643.1 540.0L704.6 575.0Z" fill="url(#dgr)"/>
<path d="M676.0 459.6L674.0 460.6L672.0 461.5L670.0 462.2L668.0 462.8L666.0 463.2L664.0 463.4L662.0 463.5L660.0 463.4L658.0 463.2L656.0 462.8L654.0 462.2L652.0 461.5L650.0 460.6L648.0 459.6M676.0 463.9L674.0 464.9L672.0 465.8L670.0 466.5L668.0 467.1L666.0 467.5L664.0 467.7L662.0 467.8L660.0 467.7L658.0 467.5L656.0 467.1L654.0 466.5L652.0 465.8L650.0 464.9L648.0 463.9M676.0 468.2L674.0 469.2L672.0 470.1L670.0 470.8L668.0 471.4L666.0 471.8L664.0 472.0L662.0 472.1L660.0 472.0L658.0 471.8L656.0 471.4L654.0 470.8L652.0 470.1L650.0 469.2L648.0 468.2M676.0 472.5L674.0 473.5L672.0 474.4L670.0 475.1L668.0 475.7L666.0 476.1L664.0 476.3L662.0 476.4L660.0 476.3L658.0 476.1L656.0 475.7L654.0 475.1L652.0 474.4L650.0 473.5L648.0 472.5M676.0 476.8L674.0 477.8L672.0 478.7L670.0 479.4L668.0 480.0L666.0 480.4L664.0 480.6L662.0 480.7L660.0 480.6L658.0 480.4L656.0 480.0L654.0 479.4L652.0 478.7L650.0 477.8L648.0 476.8M676.0 481.1L674.0 482.1L672.0 483.0L670.0 483.7L668.0 484.3L666.0 484.7L664.0 484.9L662.0 485.0L660.0 484.9L658.0 484.7L656.0 484.3L654.0 483.7L652.0 483.0L650.0 482.1L648.0 481.1M676.0 485.4L674.0 486.4L672.0 487.3L670.0 488.0L668.0 488.6L666.0 489.0L664.0 489.2L662.0 489.3L660.0 489.2L658.0 489.0L656.0 488.6L654.0 488.0L652.0 487.3L650.0 486.4L648.0 485.4M676.0 489.7L674.0 490.7L672.0 491.6L670.0 492.3L668.0 492.9L666.0 493.3L664.0 493.5L662.0 493.6L660.0 493.5L658.0 493.3L656.0 492.9L654.0 492.3L652.0 491.6L650.0 490.7L648.0 489.7M676.0 494.0L674.0 495.0L672.0 495.9L670.0 496.6L668.0 497.2L666.0 497.6L664.0 497.8L662.0 497.9L660.0 497.8L658.0 497.6L656.0 497.2L654.0 496.6L652.0 495.9L650.0 495.0L648.0 494.0M676.0 498.3L674.0 499.3L672.0 500.2L670.0 500.9L668.0 501.5L666.0 501.9L664.0 502.1L662.0 502.2L660.0 502.1L658.0 501.9L656.0 501.5L654.0 500.9L652.0 500.2L650.0 499.3L648.0 498.3M676.0 502.6L674.0 503.6L672.0 504.5L670.0 505.2L668.0 505.8L666.0 506.2L664.0 506.4L662.0 506.5L660.0 506.4L658.0 506.2L656.0 505.8L654.0 505.2L652.0 504.5L650.0 503.6L648.0 502.6M676.0 506.9L674.0 507.9L672.0 508.8L670.0 509.5L668.0 510.1L666.0 510.5L664.0 510.7L662.0 510.8L660.0 510.7L658.0 510.5L656.0 510.1L654.0 509.5L652.0 508.8L650.0 507.9L648.0 506.9M676.0 511.2L674.0 512.2L672.0 513.1L670.0 513.8L668.0 514.4L666.0 514.8L664.0 515.0L662.0 515.1L660.0 515.0L658.0 514.8L656.0 514.4L654.0 513.8L652.0 513.1L650.0 512.2L648.0 511.2M676.0 515.5L674.0 516.5L672.0 517.4L670.0 518.1L668.0 518.7L666.0 519.1L664.0 519.3L662.0 519.4L660.0 519.3L658.0 519.1L656.0 518.7L654.0 518.1L652.0 517.4L650.0 516.5L648.0 515.5M676.0 519.8L674.0 520.8L672.0 521.7L670.0 522.4L668.0 523.0L666.0 523.4L664.0 523.6L662.0 523.7L660.0 523.6L658.0 523.4L656.0 523.0L654.0 522.4L652.0 521.7L650.0 520.8L648.0 519.8M676.0 524.1L674.0 525.1L672.0 526.0L670.0 526.7L668.0 527.3L666.0 527.7L664.0 527.9L662.0 528.0L660.0 527.9L658.0 527.7L656.0 527.3L654.0 526.7L652.0 526.0L650.0 525.1L648.0 524.1M676.0 528.4L674.0 529.4L672.0 530.3L670.0 531.0L668.0 531.6L666.0 532.0L664.0 532.2L662.0 532.3L660.0 532.2L658.0 532.0L656.0 531.6L654.0 531.0L652.0 530.3L650.0 529.4L648.0 528.4M676.0 532.7L674.0 533.7L672.0 534.6L670.0 535.3L668.0 535.9L666.0 536.3L664.0 536.5L662.0 536.6L660.0 536.5L658.0 536.3L656.0 535.9L654.0 535.3L652.0 534.6L650.0 533.7L648.0 532.7M676.0 537.0L674.0 538.0L672.0 538.9L670.0 539.6L668.0 540.2L666.0 540.6L664.0 540.8L662.0 540.9L660.0 540.8L658.0 540.6L656.0 540.2L654.0 539.6L652.0 538.9L650.0 538.0L648.0 537.0" stroke="#fff" stroke-opacity="0.3" stroke-width="1.7" fill="none"/>
<rect x="619.6" y="458.0" width="5.2" height="72.0" fill="#fff" fill-opacity="0.2"/>
<path d="M704.6 718.0L647.8 718.0L643.1 636.0L704.6 601.0Z" fill="url(#dgr)"/>
<path d="M676.0 716.4L674.0 715.4L672.0 714.5L670.0 713.8L668.0 713.2L666.0 712.8L664.0 712.6L662.0 712.5L660.0 712.6L658.0 712.8L656.0 713.2L654.0 713.8L652.0 714.5L650.0 715.4L648.0 716.4M676.0 712.1L674.0 711.1L672.0 710.2L670.0 709.5L668.0 708.9L666.0 708.5L664.0 708.3L662.0 708.2L660.0 708.3L658.0 708.5L656.0 708.9L654.0 709.5L652.0 710.2L650.0 711.1L648.0 712.1M676.0 707.8L674.0 706.8L672.0 705.9L670.0 705.2L668.0 704.6L666.0 704.2L664.0 704.0L662.0 703.9L660.0 704.0L658.0 704.2L656.0 704.6L654.0 705.2L652.0 705.9L650.0 706.8L648.0 707.8M676.0 703.5L674.0 702.5L672.0 701.6L670.0 700.9L668.0 700.3L666.0 699.9L664.0 699.7L662.0 699.6L660.0 699.7L658.0 699.9L656.0 700.3L654.0 700.9L652.0 701.6L650.0 702.5L648.0 703.5M676.0 699.2L674.0 698.2L672.0 697.3L670.0 696.6L668.0 696.0L666.0 695.6L664.0 695.4L662.0 695.3L660.0 695.4L658.0 695.6L656.0 696.0L654.0 696.6L652.0 697.3L650.0 698.2L648.0 699.2M676.0 694.9L674.0 693.9L672.0 693.0L670.0 692.3L668.0 691.7L666.0 691.3L664.0 691.1L662.0 691.0L660.0 691.1L658.0 691.3L656.0 691.7L654.0 692.3L652.0 693.0L650.0 693.9L648.0 694.9M676.0 690.6L674.0 689.6L672.0 688.7L670.0 688.0L668.0 687.4L666.0 687.0L664.0 686.8L662.0 686.7L660.0 686.8L658.0 687.0L656.0 687.4L654.0 688.0L652.0 688.7L650.0 689.6L648.0 690.6M676.0 686.3L674.0 685.3L672.0 684.4L670.0 683.7L668.0 683.1L666.0 682.7L664.0 682.5L662.0 682.4L660.0 682.5L658.0 682.7L656.0 683.1L654.0 683.7L652.0 684.4L650.0 685.3L648.0 686.3M676.0 682.0L674.0 681.0L672.0 680.1L670.0 679.4L668.0 678.8L666.0 678.4L664.0 678.2L662.0 678.1L660.0 678.2L658.0 678.4L656.0 678.8L654.0 679.4L652.0 680.1L650.0 681.0L648.0 682.0M676.0 677.7L674.0 676.7L672.0 675.8L670.0 675.1L668.0 674.5L666.0 674.1L664.0 673.9L662.0 673.8L660.0 673.9L658.0 674.1L656.0 674.5L654.0 675.1L652.0 675.8L650.0 676.7L648.0 677.7M676.0 673.4L674.0 672.4L672.0 671.5L670.0 670.8L668.0 670.2L666.0 669.8L664.0 669.6L662.0 669.5L660.0 669.6L658.0 669.8L656.0 670.2L654.0 670.8L652.0 671.5L650.0 672.4L648.0 673.4M676.0 669.1L674.0 668.1L672.0 667.2L670.0 666.5L668.0 665.9L666.0 665.5L664.0 665.3L662.0 665.2L660.0 665.3L658.0 665.5L656.0 665.9L654.0 666.5L652.0 667.2L650.0 668.1L648.0 669.1M676.0 664.8L674.0 663.8L672.0 662.9L670.0 662.2L668.0 661.6L666.0 661.2L664.0 661.0L662.0 660.9L660.0 661.0L658.0 661.2L656.0 661.6L654.0 662.2L652.0 662.9L650.0 663.8L648.0 664.8M676.0 660.5L674.0 659.5L672.0 658.6L670.0 657.9L668.0 657.3L666.0 656.9L664.0 656.7L662.0 656.6L660.0 656.7L658.0 656.9L656.0 657.3L654.0 657.9L652.0 658.6L650.0 659.5L648.0 660.5M676.0 656.2L674.0 655.2L672.0 654.3L670.0 653.6L668.0 653.0L666.0 652.6L664.0 652.4L662.0 652.3L660.0 652.4L658.0 652.6L656.0 653.0L654.0 653.6L652.0 654.3L650.0 655.2L648.0 656.2M676.0 651.9L674.0 650.9L672.0 650.0L670.0 649.3L668.0 648.7L666.0 648.3L664.0 648.1L662.0 648.0L660.0 648.1L658.0 648.3L656.0 648.7L654.0 649.3L652.0 650.0L650.0 650.9L648.0 651.9M676.0 647.6L674.0 646.6L672.0 645.7L670.0 645.0L668.0 644.4L666.0 644.0L664.0 643.8L662.0 643.7L660.0 643.8L658.0 644.0L656.0 644.4L654.0 645.0L652.0 645.7L650.0 646.6L648.0 647.6M676.0 643.3L674.0 642.3L672.0 641.4L670.0 640.7L668.0 640.1L666.0 639.7L664.0 639.5L662.0 639.4L660.0 639.5L658.0 639.7L656.0 640.1L654.0 640.7L652.0 641.4L650.0 642.3L648.0 643.3M676.0 639.0L674.0 638.0L672.0 637.1L670.0 636.4L668.0 635.8L666.0 635.4L664.0 635.2L662.0 635.1L660.0 635.2L658.0 635.4L656.0 635.8L654.0 636.4L652.0 637.1L650.0 638.0L648.0 639.0" stroke="#fff" stroke-opacity="0.3" stroke-width="1.7" fill="none"/>
<rect x="619.6" y="646.0" width="5.2" height="72.0" fill="#fff" fill-opacity="0.2"/>
<rect x="566.3" y="458.0" width="22.0" height="72.0" fill="#fff" fill-opacity="0.2"/>
<path d="M568 461.0L586.6 461.0M568 464.0L586.6 464.0M568 467.0L586.6 467.0M568 470.0L586.6 470.0M568 473.0L586.6 473.0M568 476.0L586.6 476.0M568 479.0L586.6 479.0M568 482.0L586.6 482.0M568 485.0L586.6 485.0M568 488.0L586.6 488.0M568 491.0L586.6 491.0M568 494.0L586.6 494.0M568 497.0L586.6 497.0M568 500.0L586.6 500.0M568 503.0L586.6 503.0M568 506.0L586.6 506.0M568 509.0L586.6 509.0M568 512.0L586.6 512.0M568 515.0L586.6 515.0M568 518.0L586.6 518.0M568 521.0L586.6 521.0M568 524.0L586.6 524.0" stroke="#fff" stroke-opacity="0.28" stroke-width="1.2" fill="none" stroke-dasharray="3 1.5"/>
<rect x="566.3" y="646.0" width="22.0" height="72.0" fill="#fff" fill-opacity="0.2"/>
<path d="M568 715.0L586.6 715.0M568 712.0L586.6 712.0M568 709.0L586.6 709.0M568 706.0L586.6 706.0M568 703.0L586.6 703.0M568 700.0L586.6 700.0M568 697.0L586.6 697.0M568 694.0L586.6 694.0M568 691.0L586.6 691.0M568 688.0L586.6 688.0M568 685.0L586.6 685.0M568 682.0L586.6 682.0M568 679.0L586.6 679.0M568 676.0L586.6 676.0M568 673.0L586.6 673.0M568 670.0L586.6 670.0M568 667.0L586.6 667.0M568 664.0L586.6 664.0M568 661.0L586.6 661.0M568 658.0L586.6 658.0M568 655.0L586.6 655.0M568 652.0L586.6 652.0" stroke="#fff" stroke-opacity="0.28" stroke-width="1.2" fill="none" stroke-dasharray="3 1.5"/>
</g>
<path d="M434.2 605.3C434.7 603.8 436.2 599.5 437.3 596.6C438.4 593.7 439.6 591.6 440.6 588.0C441.6 584.4 442.4 579.6 443.4 575.0C444.3 570.4 445.2 564.2 446.3 560.5C447.4 556.8 448.7 554.7 449.9 552.6C451.1 550.5 451.6 549.7 453.4 547.7C455.2 545.7 458.2 542.4 460.6 540.5C463.0 538.6 465.3 537.5 467.7 536.3C470.1 535.1 472.4 534.2 474.8 533.4C477.2 532.6 479.5 532.1 481.9 531.6C484.3 531.1 486.6 530.7 489.0 530.4C491.4 530.1 493.7 530.1 496.1 529.9C498.5 529.7 500.8 529.6 503.2 529.4C505.6 529.2 507.9 529.1 510.3 528.9C512.7 528.7 515.1 528.5 517.5 528.4C519.9 528.3 522.2 528.3 524.6 528.4C527.0 528.5 529.3 528.8 531.7 529.2C534.1 529.6 536.4 529.9 538.8 531.0C541.2 532.1 544.0 533.9 545.9 535.6C547.8 537.3 549.0 539.4 550.2 541.3C551.4 543.2 552.2 544.8 553.0 546.9C553.8 549.0 554.7 552.0 555.2 554.1C555.8 556.2 555.8 558.4 556.3 559.7C556.8 561.0 557.7 561.4 558.0 561.8L577.3 588.0L596.6 614.2C596.9 614.6 597.8 615.0 598.3 616.3C598.8 617.6 598.8 619.8 599.4 621.9C599.9 624.0 600.8 627.0 601.6 629.1C602.4 631.2 603.2 632.8 604.4 634.7C605.6 636.6 606.8 638.7 608.7 640.4C610.6 642.1 613.4 643.9 615.8 645.0C618.2 646.1 620.5 646.4 622.9 646.8C625.3 647.2 627.6 647.5 630.0 647.6C632.4 647.7 634.7 647.7 637.1 647.6C639.5 647.5 641.9 647.3 644.3 647.1C646.7 646.9 649.0 646.8 651.4 646.6C653.8 646.4 656.1 646.3 658.5 646.1C660.9 645.9 663.2 645.9 665.6 645.6C668.0 645.3 670.3 644.9 672.7 644.4C675.1 643.9 677.4 643.4 679.8 642.6C682.2 641.8 684.5 640.9 686.9 639.7C689.3 638.5 691.6 637.4 694.0 635.5C696.4 633.6 699.4 630.3 701.2 628.3C703.0 626.3 703.5 625.5 704.7 623.4C705.9 621.3 707.2 619.2 708.3 615.5C709.4 611.8 710.2 605.6 711.2 601.0C712.1 596.4 713.0 591.6 714.0 588.0C715.0 584.4 716.2 582.3 717.3 579.4C718.4 576.5 719.9 572.2 720.4 570.7" stroke="#f02a2a" stroke-width="1.3" fill="none" stroke-linejoin="round"/>
<path d="M434.2 570.7C434.7 572.2 436.2 576.5 437.3 579.4C438.4 582.3 439.6 584.4 440.6 588.0C441.6 591.6 442.4 596.4 443.4 601.0C444.3 605.6 445.2 611.8 446.3 615.5C447.4 619.2 448.7 621.3 449.9 623.4C451.1 625.5 451.6 626.3 453.4 628.3C455.2 630.3 458.2 633.6 460.6 635.5C463.0 637.4 465.3 638.5 467.7 639.7C470.1 640.9 472.4 641.8 474.8 642.6C477.2 643.4 479.5 643.9 481.9 644.4C484.3 644.9 486.6 645.3 489.0 645.6C491.4 645.9 493.7 645.9 496.1 646.1C498.5 646.3 500.8 646.4 503.2 646.6C505.6 646.8 507.9 646.9 510.3 647.1C512.7 647.3 515.1 647.5 517.5 647.6C519.9 647.7 522.2 647.7 524.6 647.6C527.0 647.5 529.3 647.2 531.7 646.8C534.1 646.4 536.4 646.1 538.8 645.0C541.2 643.9 544.0 642.1 545.9 640.4C547.8 638.7 549.0 636.6 550.2 634.7C551.4 632.8 552.2 631.2 553.0 629.1C553.8 627.0 554.7 624.0 555.2 621.9C555.8 619.8 555.8 617.6 556.3 616.3C556.8 615.0 557.7 614.6 558.0 614.2L577.3 588.0L596.6 561.8C596.9 561.4 597.8 561.0 598.3 559.7C598.8 558.4 598.8 556.2 599.4 554.1C599.9 552.0 600.8 549.0 601.6 546.9C602.4 544.8 603.2 543.2 604.4 541.3C605.6 539.4 606.8 537.3 608.7 535.6C610.6 533.9 613.4 532.1 615.8 531.0C618.2 529.9 620.5 529.6 622.9 529.2C625.3 528.8 627.6 528.5 630.0 528.4C632.4 528.3 634.7 528.3 637.1 528.4C639.5 528.5 641.9 528.7 644.3 528.9C646.7 529.1 649.0 529.2 651.4 529.4C653.8 529.6 656.1 529.7 658.5 529.9C660.9 530.1 663.2 530.1 665.6 530.4C668.0 530.7 670.3 531.1 672.7 531.6C675.1 532.1 677.4 532.6 679.8 533.4C682.2 534.2 684.5 535.1 686.9 536.3C689.3 537.5 691.6 538.6 694.0 540.5C696.4 542.4 699.4 545.7 701.2 547.7C703.0 549.7 703.5 550.5 704.7 552.6C705.9 554.7 707.2 556.8 708.3 560.5C709.4 564.2 710.2 570.4 711.2 575.0C712.1 579.6 713.0 584.4 714.0 588.0C715.0 591.6 716.2 593.7 717.3 596.6C718.4 599.5 719.9 603.8 720.4 605.3" stroke="#f02a2a" stroke-width="1.3" fill="none" stroke-linejoin="round"/>
<path d="M433.7 588.0L439.2 588.0M714.7 588.0L720.7 588.0" stroke="#222" stroke-width="1.2"/>
<path d="M720.7 545L720.7 631" stroke="#aaa" stroke-width="0.8"/>
<text x="419.0" y="441.6" font-size="32" fill="#111" text-anchor="start" >(d)</text>
<text x="402.3" y="468.4" font-size="22.5" fill="#111" text-anchor="start" >0.1</text>
<text x="390.7" y="718.2" font-size="22.5" fill="#111" text-anchor="start" >−0.1</text>
<text x="419.2" y="595.6" font-size="22.5" fill="#111" text-anchor="start" >0</text>
<text transform="translate(392.5 615) rotate(-90)" font-size="27" fill="#111">E(eV)</text>
<text x="420.5" y="740.5" font-size="25.5" fill="#111" text-anchor="start" >−π</text>
<text x="576.6" y="740.8" font-size="21" fill="#111" text-anchor="middle" >0</text>
<text x="711.2" y="740.0" font-size="25.5" fill="#111" text-anchor="start" >π</text>
<text x="572.0" y="767.8" font-size="27" fill="#111" text-anchor="start" >k</text>
<text x="584.8" y="774.2" font-size="17.5" fill="#111" text-anchor="start" >x</text>
</g>
<g id="pe">
<rect x="824.2" y="458.5" width="286.2" height="126.3" fill="none" stroke="#5a5a5a" stroke-width="1.7"/>
<path d="M830.2 458.5L830.2 466.3M830.2 584.8L830.2 577.0M898.5 458.5L898.5 466.3M898.5 584.8L898.5 577.0M967.1 458.5L967.1 466.3M967.1 584.8L967.1 577.0M1035.7 458.5L1035.7 466.3M1035.7 584.8L1035.7 577.0M1104.3 458.5L1104.3 466.3M1104.3 584.8L1104.3 577.0" stroke="#111" stroke-width="2" fill="none"/>
<rect x="824.2" y="591.8" width="286.2" height="127.0" fill="none" stroke="#5a5a5a" stroke-width="1.7"/>
<path d="M830.2 591.8L830.2 599.5999999999999M830.2 718.8L830.2 711.0M898.5 591.8L898.5 599.5999999999999M898.5 718.8L898.5 711.0M967.1 591.8L967.1 599.5999999999999M967.1 718.8L967.1 711.0M1035.7 591.8L1035.7 599.5999999999999M1035.7 718.8L1035.7 711.0M1104.3 591.8L1104.3 599.5999999999999M1104.3 718.8L1104.3 711.0" stroke="#111" stroke-width="2" fill="none"/>
<path d="M1105.7 489.0L1105.4 540.0L1105.0 575.0L1104.7 584.6L1072.0 584.6L1072.0 583.9L1079.0 582.8L1083.0 581.7L1086.5 580.8L1087.3 578.6L1090.5 578.4L1091.2 574.4L1094.0 574.2L1094.6 572.0L1095.2 563.6L1099.6 562.6L1100.3 552.0L1101.2 535.0L1102.4 489.5L1104.0 488.3Z" fill="#f20c0c"/>
<path d="M828.8 489.0L829.1 540.0L829.5 575.0L829.8 584.6L862.5 584.6L862.5 583.9L855.5 582.8L851.5 581.7L848.0 580.8L847.2 578.6L844.0 578.4L843.3 574.4L840.5 574.2L839.9 572.0L839.3 563.6L834.9 562.6L834.2 552.0L833.3 535.0L832.1 489.5L830.5 488.3Z" fill="#f20c0c"/>
<path d="M830 584.4L1104.5 584.4" stroke="#f43a3a" stroke-width="1.1"/>
<path d="M1105.2 623.0L1105.0 700.0L1104.7 718.6L1091.0 718.6L1091.5 717.9L1095.5 716.0L1098.6 710.5L1100.6 700.0L1102.0 680.0L1102.6 623.5L1103.9 622.3Z" fill="#f20c0c"/>
<path d="M829.3 614.0L829.5 700.0L829.8 718.6L843.5 718.6L843.0 717.9L839.0 716.0L835.9 710.5L833.9 700.0L832.5 680.0L831.9 614.5L830.6 613.3Z" fill="#f20c0c"/>
<path d="M830 718.4L1104.5 718.4" stroke="#f43a3a" stroke-width="1.1"/>
<text x="755.1" y="442.6" font-size="32" fill="#111" text-anchor="start" >(e)</text>
<text x="779.5" y="472.7" font-size="23" fill="#111" text-anchor="start" >0.08</text>
<text x="779.5" y="583.6" font-size="23" fill="#111" text-anchor="start" >0.00</text>
<text x="779.5" y="607.3" font-size="23" fill="#111" text-anchor="start" >0.18</text>
<text x="779.5" y="719.3" font-size="23" fill="#111" text-anchor="start" >0.00</text>
<text x="830.2" y="742.0" font-size="23" fill="#111" text-anchor="middle" >1</text>
<text x="898.5" y="742.0" font-size="23" fill="#111" text-anchor="middle" >200</text>
<text x="967.1" y="742.0" font-size="23" fill="#111" text-anchor="middle" >400</text>
<text x="1035.7" y="742.0" font-size="23" fill="#111" text-anchor="middle" >600</text>
<text x="1104.3" y="742.0" font-size="23" fill="#111" text-anchor="middle" >800</text>
<text x="889.6" y="768.0" font-size="27.8" fill="#111" text-anchor="start" >Lattice site (n)</text>
<text transform="translate(768 658.5) rotate(-90)" font-size="27.5" fill="#111" x="1.45 5.8 30.05 41.3 57.2 70.35" y="0">|<tspan font-style="italic">ψ</tspan>(n)|<tspan font-size="18" x="77" dy="-10.2">2</tspan></text>
</g>
</svg>
</body></html>
